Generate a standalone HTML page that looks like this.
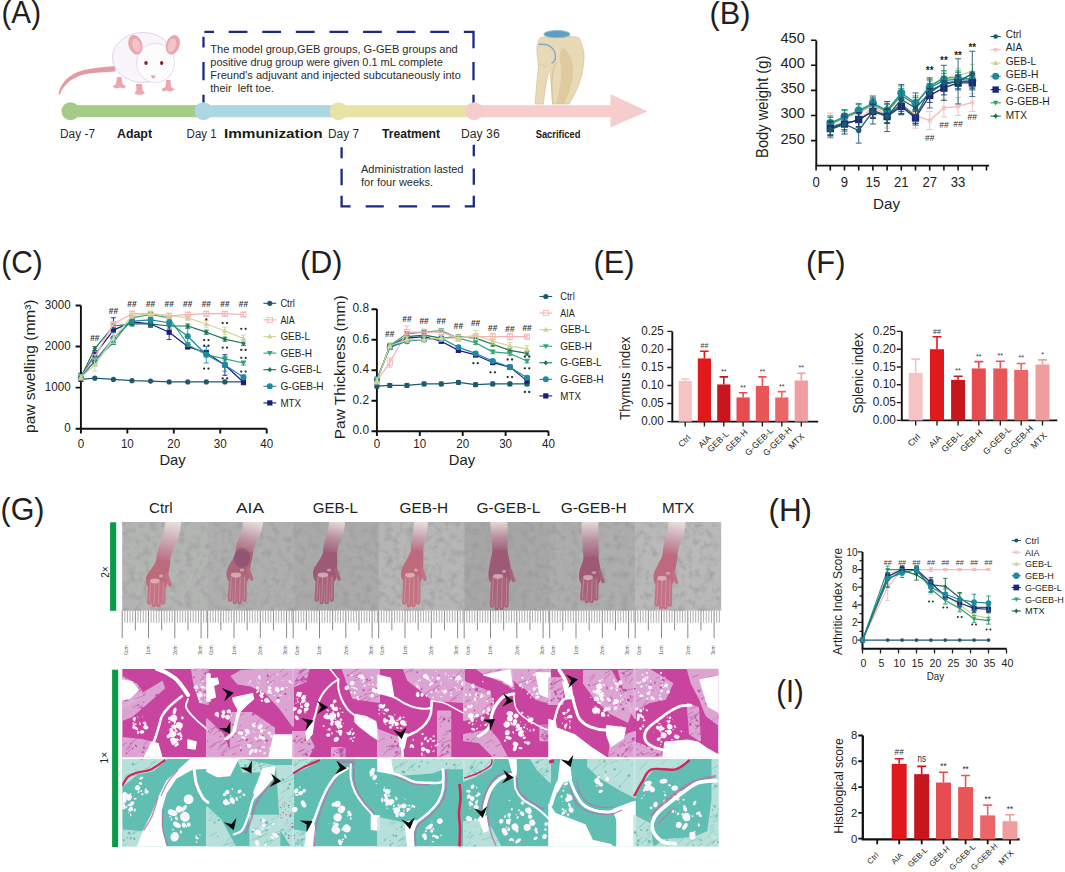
<!DOCTYPE html>
<html><head><meta charset="utf-8"><style>
html,body{margin:0;padding:0;background:#fff;width:1065px;height:872px;overflow:hidden}
svg{display:block;font-family:"Liberation Sans", sans-serif}
</style></head><body>
<svg width="1065" height="872" viewBox="0 0 1065 872" fill="#231f20">
<text x="1.5" y="23.4" textLength="39.5" lengthAdjust="spacingAndGlyphs" font-size="32" >(A)</text>
<rect x="70" y="105.2" width="134" height="12" fill="#a5cb89" />
<rect x="203.5" y="105.2" width="135.5" height="12" fill="#acd6e1" />
<rect x="338.7" y="105.2" width="136" height="12" fill="#e8e2a6" />
<rect x="474.4" y="105.2" width="137" height="12" fill="#f4cdcc" />
<polygon points="610.5,94.2 647.5,111.2 610.5,127.5" fill="#f4cdcc"/>
<path d="M203.5 37.8L203.5 46.3 M203.5 63.2L203.5 79.2 M203.5 96L203.5 102.5 M473.5 31.8L473.5 47 M473.5 63.1L473.5 79.2 M473.5 96L473.5 102.8 M205.5 31.8L212.9 31.8 M229.8 31.8L246.3 31.8 M263.4 31.8L279.9 31.8 M297 31.8L313.5 31.8 M330.6 31.8L347.1 31.8 M364.2 31.8L380.7 31.8 M397.8 31.8L414.3 31.8 M431.4 31.8L447.9 31.8 M465 31.8L473.5 31.8 M341.6 148.5L341.6 157 M341.6 170L341.6 184 M341.6 197L341.6 206.4 M473.8 146L473.8 155 M473.8 169.6L473.8 183.5 M473.8 197L473.8 206.4 M341.6 206.4L349.5 206.4 M366.8 206.4L382.6 206.4 M399.9 206.4L416 206.4 M433 206.4L448.7 206.4 M465.9 206.4L473.8 206.4" fill="none" stroke="#1b2a86" stroke-width="2.3" stroke-linecap="square"/>
<circle cx="70.5" cy="111.2" r="9" fill="#a5cb89" />
<circle cx="203.5" cy="111.2" r="9" fill="#acd6e1" />
<circle cx="338.7" cy="111.2" r="9" fill="#e8e2a6" />
<circle cx="474.4" cy="111.2" r="9" fill="#f4cdcc" />
<text x="210.3" y="52.9" textLength="247.5" lengthAdjust="spacingAndGlyphs" fill="#2b2b2b" font-size="11" >The model group,GEB groups, G-GEB groups and</text>
<text x="210.3" y="66" textLength="232.5" lengthAdjust="spacingAndGlyphs" fill="#2b2b2b" font-size="11" >positive drug group were given 0.1 mL complete</text>
<text x="210.3" y="79.1" textLength="250.5" lengthAdjust="spacingAndGlyphs" fill="#2b2b2b" font-size="11" >Freund's adjuvant and injected subcutaneously into</text>
<text x="210.3" y="92.3" fill="#2b2b2b" font-size="11" >their  left toe.</text>
<text x="361" y="172.6" textLength="102.5" lengthAdjust="spacingAndGlyphs" fill="#2b2b2b" font-size="11" >Administration lasted</text>
<text x="361" y="186.1" fill="#2b2b2b" font-size="11" >for four weeks.</text>
<text x="60" y="138.4" textLength="35" lengthAdjust="spacingAndGlyphs" fill="#2b2b2b" font-size="12.5" >Day -7</text>
<text x="117" y="137.8" font-weight="bold" textLength="35" lengthAdjust="spacingAndGlyphs" fill="#1a1a1a" font-size="12" >Adapt</text>
<text x="186.6" y="138.4" textLength="30" lengthAdjust="spacingAndGlyphs" fill="#2b2b2b" font-size="12.5" >Day 1</text>
<text x="224" y="137.8" font-weight="bold" textLength="98.7" lengthAdjust="spacingAndGlyphs" fill="#1a1a1a" font-size="12" >Immunization</text>
<text x="328" y="138.4" textLength="31" lengthAdjust="spacingAndGlyphs" fill="#2b2b2b" font-size="12.5" >Day 7</text>
<text x="382" y="137.5" font-weight="bold" textLength="58" lengthAdjust="spacingAndGlyphs" fill="#1a1a1a" font-size="12" >Treatment</text>
<text x="461" y="138.4" textLength="38.7" lengthAdjust="spacingAndGlyphs" fill="#2b2b2b" font-size="12.5" >Day 36</text>
<text x="535.7" y="138" font-weight="bold" textLength="44.7" lengthAdjust="spacingAndGlyphs" fill="#1a1a1a" font-size="11" >Sacrificed</text>
<path d="M58.5 94.5 C60 84 68 74 84 70 C95 67.5 105 67 115 66 L115.5 71.5 C105 72 95 72.5 86 74 C72 77 63 85 60 94.5 Z" fill="#e49aa2" />
<path d="M117 77 L121.5 77 L122.5 84 L126 86.5 L124 88.5 L120 87.5 L116 88.5 L112.5 86.5 L116 84 Z" fill="#eba7ae" />
<path d="M136 84 L142 84 L142.5 90 L145 93.5 L140 95 L134.5 94 L136.5 90 Z" fill="#eba7ae" />
<path d="M166 80 L170.5 80 L171 87 L175 89.5 L170.5 91.5 L166 90.5 L163 91.5 L161.5 89 L165.5 87 Z" fill="#eba7ae" />
<ellipse cx="143" cy="57.5" rx="30.5" ry="25" fill="#f8f5fb" stroke="#d9d0e8" stroke-width="0.9"/>
<ellipse cx="155.5" cy="63" rx="19" ry="19.5" fill="#fcfbfe" stroke="#ddd5ec" stroke-width="0.8"/>
<ellipse cx="135.4" cy="44.7" rx="6.8" ry="10" fill="#eba7ae" transform="rotate(-18 135.4 44.7)"/>
<ellipse cx="136.2" cy="45.5" rx="4" ry="7" fill="#f3c3c7" transform="rotate(-18 135.4 44.7)"/>
<ellipse cx="172.9" cy="44.7" rx="6.8" ry="10" fill="#eba7ae" transform="rotate(18 172.9 44.7)"/>
<ellipse cx="172.1" cy="45.5" rx="4" ry="7" fill="#f3c3c7" transform="rotate(18 172.9 44.7)"/>
<ellipse cx="146" cy="63.1" rx="1.7" ry="2" fill="#8a1f2a"/>
<ellipse cx="161.7" cy="63.1" rx="1.7" ry="2" fill="#8a1f2a"/>
<path d="M150.5 75.5 L156 75.5 L153.2 79 Z" fill="#eb9ea6" />
<path d="M540 38 C548 35 570 35 579 38 C583 45 585 55 583.7 62 C583 70 582 76 579 84 C576 92 572 99 569 104 L552.5 104 C552 92 551 80 549.8 69 C547 66 543 66 538.8 66.3 C537.5 60 536.5 52 537 46 C538 42 539 40 540 38 Z" fill="#e9dab7" stroke="#d2bb8c" stroke-width="0.6" />
<path d="M538.8 64 C541 64 546 66 548.9 70.9 C546 82 544.5 94 543.3 104 L535.1 104 C536 92 537 78 538.8 64 Z" fill="#e9dab7" stroke="#d2bb8c" stroke-width="0.6" />
<path d="M563 48 C570 52 574 62 573 74 C572 86 568 96 564 104 L556 104 C559 92 562 80 561 68 C560 60 558 52 563 48 Z" fill="#dcc597" opacity="0.8"/>
<path d="M556 62 C552 70 551 86 553 104" fill="none" stroke="#d9c396" stroke-width="1.2" />
<path d="M538.8 44.3 C543 44 546 44.5 547.9 45.2 C551 47 554 50 554.4 51.6 C555.5 55 555.6 57 555.3 58.9 C554.5 61 553 62.5 551.6 63.5" fill="none" stroke="#7ea9c6" stroke-width="1.4" />
<ellipse cx="556.9" cy="34.2" rx="13" ry="3.6" fill="#5f9dc2" stroke="#86b9d6" stroke-width="1"/>
<text x="709.5" y="23.6" textLength="41" lengthAdjust="spacingAndGlyphs" font-size="32" >(B)</text>
<path d="M816.3 40.4 V165.6 H989.2" fill="none" stroke="#111" stroke-width="1.9" />
<path d="M811 140.6H816.3M811 115.5H816.3M811 90.4H816.3M811 65.3H816.3M811 40.2H816.3M816.1 165.6V170.6M830.3 165.6V170.6M844.5 165.6V170.6M858.7 165.6V170.6M872.9 165.6V170.6M887.1 165.6V170.6M901.3 165.6V170.6M915.5 165.6V170.6M929.7 165.6V170.6M943.9 165.6V170.6M958.1 165.6V170.6M972.3 165.6V170.6M986.5 165.6V170.6" fill="none" stroke="#111" stroke-width="1.6" />
<text x="804.8" y="143.5" text-anchor="end" textLength="24.4" lengthAdjust="spacingAndGlyphs" font-size="13.8" >250</text>
<text x="804.8" y="118.4" text-anchor="end" textLength="24.4" lengthAdjust="spacingAndGlyphs" font-size="13.8" >300</text>
<text x="804.8" y="93.3" text-anchor="end" textLength="24.4" lengthAdjust="spacingAndGlyphs" font-size="13.8" >350</text>
<text x="804.8" y="68.2" text-anchor="end" textLength="24.4" lengthAdjust="spacingAndGlyphs" font-size="13.8" >400</text>
<text x="804.8" y="43.1" text-anchor="end" textLength="24.4" lengthAdjust="spacingAndGlyphs" font-size="13.8" >450</text>
<text x="816.1" y="186.5" text-anchor="middle" textLength="7.3" lengthAdjust="spacingAndGlyphs" font-size="14" >0</text>
<text x="844.5" y="186.5" text-anchor="middle" textLength="7.3" lengthAdjust="spacingAndGlyphs" font-size="14" >9</text>
<text x="872.9" y="186.5" text-anchor="middle" textLength="14.6" lengthAdjust="spacingAndGlyphs" font-size="14" >15</text>
<text x="901.3" y="186.5" text-anchor="middle" textLength="14.6" lengthAdjust="spacingAndGlyphs" font-size="14" >21</text>
<text x="929.7" y="186.5" text-anchor="middle" textLength="14.6" lengthAdjust="spacingAndGlyphs" font-size="14" >27</text>
<text x="958.1" y="186.5" text-anchor="middle" textLength="14.6" lengthAdjust="spacingAndGlyphs" font-size="14" >33</text>
<text x="886.5" y="208.5" text-anchor="middle" textLength="27" lengthAdjust="spacingAndGlyphs" font-size="15.2" >Day</text>
<text transform="translate(767.6 106.8) rotate(-90)" x="0" y="0" text-anchor="middle" textLength="102.2" lengthAdjust="spacingAndGlyphs" font-size="16" >Body weight (g)</text>
<polyline points="830.3,125.54 844.5,123.03 858.7,120.52 872.9,106.46 887.1,115.5 901.3,102.95 915.5,115.5 929.7,120.52 943.9,107.97 958.1,106.46 972.3,102.45" fill="none" stroke="#f6b8ba" stroke-width="1.3" stroke-linejoin="round"/>
<path d="M830.3 112.99V138.09M827.3 112.99H833.3M827.3 138.09H833.3M844.5 112.99V133.07M841.5 112.99H847.5M841.5 133.07H847.5M858.7 110.48V130.56M855.7 110.48H861.7M855.7 130.56H861.7M872.9 96.42V116.5M869.9 96.42H875.9M869.9 116.5H875.9M887.1 102.95V128.05M884.1 102.95H890.1M884.1 128.05H890.1M901.3 90.4V115.5M898.3 90.4H904.3M898.3 115.5H904.3M915.5 102.95V128.05M912.5 102.95H918.5M912.5 128.05H918.5M929.7 111.48V129.56M926.7 111.48H932.7M926.7 129.56H932.7M943.9 98.93V117.01M940.9 98.93H946.9M940.9 117.01H946.9M958.1 97.43V115.5M955.1 97.43H961.1M955.1 115.5H961.1M972.3 93.41V111.48M969.3 93.41H975.3M969.3 111.48H975.3" fill="none" stroke="#f6b8ba" stroke-width="0.9" />
<rect x="828.81" y="124.04" width="2.99" height="2.99" fill="none" stroke="#f6b8ba" stroke-width="0.8"/>
<rect x="843" y="121.53" width="2.99" height="2.99" fill="none" stroke="#f6b8ba" stroke-width="0.8"/>
<rect x="857.21" y="119.02" width="2.99" height="2.99" fill="none" stroke="#f6b8ba" stroke-width="0.8"/>
<rect x="871.4" y="104.97" width="2.99" height="2.99" fill="none" stroke="#f6b8ba" stroke-width="0.8"/>
<rect x="885.61" y="114" width="2.99" height="2.99" fill="none" stroke="#f6b8ba" stroke-width="0.8"/>
<rect x="899.8" y="101.45" width="2.99" height="2.99" fill="none" stroke="#f6b8ba" stroke-width="0.8"/>
<rect x="914" y="114" width="2.99" height="2.99" fill="none" stroke="#f6b8ba" stroke-width="0.8"/>
<rect x="928.21" y="119.02" width="2.99" height="2.99" fill="none" stroke="#f6b8ba" stroke-width="0.8"/>
<rect x="942.4" y="106.47" width="2.99" height="2.99" fill="none" stroke="#f6b8ba" stroke-width="0.8"/>
<rect x="956.61" y="104.97" width="2.99" height="2.99" fill="none" stroke="#f6b8ba" stroke-width="0.8"/>
<rect x="970.8" y="100.95" width="2.99" height="2.99" fill="none" stroke="#f6b8ba" stroke-width="0.8"/>
<polyline points="830.3,123.03 844.5,118.01 858.7,112.99 872.9,105.46 887.1,112.99 901.3,95.42 915.5,105.46 929.7,85.38 943.9,77.85 958.1,75.34 972.3,71.32" fill="none" stroke="#cdd394" stroke-width="1.3" stroke-linejoin="round"/>
<path d="M830.3 116V130.06M827.3 116H833.3M827.3 130.06H833.3M844.5 110.98V125.04M841.5 110.98H847.5M841.5 125.04H847.5M858.7 105.96V120.02M855.7 105.96H861.7M855.7 120.02H861.7M872.9 98.43V112.49M869.9 98.43H875.9M869.9 112.49H875.9M887.1 105.96V120.02M884.1 105.96H890.1M884.1 120.02H890.1M901.3 88.39V102.45M898.3 88.39H904.3M898.3 102.45H904.3M915.5 98.43V112.49M912.5 98.43H918.5M912.5 112.49H918.5M929.7 78.35V92.41M926.7 78.35H932.7M926.7 92.41H932.7M943.9 70.82V84.88M940.9 70.82H946.9M940.9 84.88H946.9M958.1 68.31V82.37M955.1 68.31H961.1M955.1 82.37H961.1M972.3 64.3V78.35M969.3 64.3H975.3M969.3 78.35H975.3" fill="none" stroke="#cdd394" stroke-width="0.9" />
<polygon points="830.3,119.87 833.46,125.33 827.14,125.33" fill="#cdd394"/>
<polygon points="844.5,114.85 847.66,120.31 841.34,120.31" fill="#cdd394"/>
<polygon points="858.7,109.83 861.86,115.29 855.54,115.29" fill="#cdd394"/>
<polygon points="872.9,102.3 876.06,107.76 869.74,107.76" fill="#cdd394"/>
<polygon points="887.1,109.83 890.26,115.29 883.94,115.29" fill="#cdd394"/>
<polygon points="901.3,92.26 904.46,97.72 898.14,97.72" fill="#cdd394"/>
<polygon points="915.5,102.3 918.66,107.76 912.34,107.76" fill="#cdd394"/>
<polygon points="929.7,82.22 932.86,87.68 926.54,87.68" fill="#cdd394"/>
<polygon points="943.9,74.69 947.06,80.15 940.74,80.15" fill="#cdd394"/>
<polygon points="958.1,72.18 961.26,77.64 954.94,77.64" fill="#cdd394"/>
<polygon points="972.3,68.16 975.46,73.62 969.14,73.62" fill="#cdd394"/>
<polyline points="830.3,124.54 844.5,117.51 858.7,111.48 872.9,104.46 887.1,111.48 901.3,95.42 915.5,104.46 929.7,86.38 943.9,77.85 958.1,77.85 972.3,78.85" fill="none" stroke="#2ea46c" stroke-width="1.3" stroke-linejoin="round"/>
<path d="M830.3 117.51V131.56M827.3 117.51H833.3M827.3 131.56H833.3M844.5 110.48V124.54M841.5 110.48H847.5M841.5 124.54H847.5M858.7 104.46V118.51M855.7 104.46H861.7M855.7 118.51H861.7M872.9 97.43V111.48M869.9 97.43H875.9M869.9 111.48H875.9M887.1 104.46V118.51M884.1 104.46H890.1M884.1 118.51H890.1M901.3 88.39V102.45M898.3 88.39H904.3M898.3 102.45H904.3M915.5 97.43V111.48M912.5 97.43H918.5M912.5 111.48H918.5M929.7 79.36V93.41M926.7 79.36H932.7M926.7 93.41H932.7M943.9 70.82V84.88M940.9 70.82H946.9M940.9 84.88H946.9M958.1 70.82V84.88M955.1 70.82H961.1M955.1 84.88H961.1M972.3 71.83V85.88M969.3 71.83H975.3M969.3 85.88H975.3" fill="none" stroke="#2ea46c" stroke-width="0.9" />
<polygon points="830.3,127.7 833.46,122.24 827.14,122.24" fill="#2ea46c"/>
<polygon points="844.5,120.67 847.66,115.21 841.34,115.21" fill="#2ea46c"/>
<polygon points="858.7,114.65 861.86,109.18 855.54,109.18" fill="#2ea46c"/>
<polygon points="872.9,107.62 876.06,102.16 869.74,102.16" fill="#2ea46c"/>
<polygon points="887.1,114.65 890.26,109.18 883.94,109.18" fill="#2ea46c"/>
<polygon points="901.3,98.58 904.46,93.12 898.14,93.12" fill="#2ea46c"/>
<polygon points="915.5,107.62 918.66,102.16 912.34,102.16" fill="#2ea46c"/>
<polygon points="929.7,89.55 932.86,84.08 926.54,84.08" fill="#2ea46c"/>
<polygon points="943.9,81.01 947.06,75.55 940.74,75.55" fill="#2ea46c"/>
<polygon points="958.1,81.01 961.26,75.55 954.94,75.55" fill="#2ea46c"/>
<polygon points="972.3,82.02 975.46,76.55 969.14,76.55" fill="#2ea46c"/>
<polyline points="830.3,123.03 844.5,116.5 858.7,110.48 872.9,102.95 887.1,110.48 901.3,92.91 915.5,102.95 929.7,87.89 943.9,80.36 958.1,79.36 972.3,80.36" fill="none" stroke="#1f8a9e" stroke-width="1.3" stroke-linejoin="round"/>
<path d="M830.3 116V130.06M827.3 116H833.3M827.3 130.06H833.3M844.5 109.48V123.53M841.5 109.48H847.5M841.5 123.53H847.5M858.7 103.45V117.51M855.7 103.45H861.7M855.7 117.51H861.7M872.9 95.92V109.98M869.9 95.92H875.9M869.9 109.98H875.9M887.1 103.45V117.51M884.1 103.45H890.1M884.1 117.51H890.1M901.3 85.88V99.94M898.3 85.88H904.3M898.3 99.94H904.3M915.5 95.92V109.98M912.5 95.92H918.5M912.5 109.98H918.5M929.7 80.86V94.92M926.7 80.86H932.7M926.7 94.92H932.7M943.9 73.33V87.39M940.9 73.33H946.9M940.9 87.39H946.9M958.1 72.33V86.38M955.1 72.33H961.1M955.1 86.38H961.1M972.3 73.33V87.39M969.3 73.33H975.3M969.3 87.39H975.3" fill="none" stroke="#1f8a9e" stroke-width="0.9" />
<circle cx="830.3" cy="123.03" r="4.02" fill="#1f8a9e" />
<circle cx="844.5" cy="116.5" r="4.02" fill="#1f8a9e" />
<circle cx="858.7" cy="110.48" r="4.02" fill="#1f8a9e" />
<circle cx="872.9" cy="102.95" r="4.02" fill="#1f8a9e" />
<circle cx="887.1" cy="110.48" r="4.02" fill="#1f8a9e" />
<circle cx="901.3" cy="92.91" r="4.02" fill="#1f8a9e" />
<circle cx="915.5" cy="102.95" r="4.02" fill="#1f8a9e" />
<circle cx="929.7" cy="87.89" r="4.02" fill="#1f8a9e" />
<circle cx="943.9" cy="80.36" r="4.02" fill="#1f8a9e" />
<circle cx="958.1" cy="79.36" r="4.02" fill="#1f8a9e" />
<circle cx="972.3" cy="80.36" r="4.02" fill="#1f8a9e" />
<polyline points="830.3,127.55 844.5,122.53 858.7,120.52 872.9,110.48 887.1,115.5 901.3,104.46 915.5,116.5 929.7,90.4 943.9,84.38 958.1,81.36 972.3,81.36" fill="none" stroke="#1a6e4c" stroke-width="1.3" stroke-linejoin="round"/>
<path d="M830.3 120.52V134.58M827.3 120.52H833.3M827.3 134.58H833.3M844.5 115.5V129.56M841.5 115.5H847.5M841.5 129.56H847.5M858.7 113.49V127.55M855.7 113.49H861.7M855.7 127.55H861.7M872.9 103.45V117.51M869.9 103.45H875.9M869.9 117.51H875.9M887.1 108.47V122.53M884.1 108.47H890.1M884.1 122.53H890.1M901.3 97.43V111.48M898.3 97.43H904.3M898.3 111.48H904.3M915.5 109.48V123.53M912.5 109.48H918.5M912.5 123.53H918.5M929.7 83.37V97.43M926.7 83.37H932.7M926.7 97.43H932.7M943.9 77.35V91.4M940.9 77.35H946.9M940.9 91.4H946.9M958.1 74.34V88.39M955.1 74.34H961.1M955.1 88.39H961.1M972.3 74.34V88.39M969.3 74.34H975.3M969.3 88.39H975.3" fill="none" stroke="#1a6e4c" stroke-width="0.9" />
<polygon points="830.3,124.51 832.83,127.55 830.3,130.58 827.77,127.55" fill="#1a6e4c"/>
<polygon points="844.5,119.49 847.03,122.53 844.5,125.56 841.97,122.53" fill="#1a6e4c"/>
<polygon points="858.7,117.48 861.23,120.52 858.7,123.56 856.17,120.52" fill="#1a6e4c"/>
<polygon points="872.9,107.44 875.43,110.48 872.9,113.52 870.37,110.48" fill="#1a6e4c"/>
<polygon points="887.1,112.46 889.63,115.5 887.1,118.54 884.57,115.5" fill="#1a6e4c"/>
<polygon points="901.3,101.42 903.83,104.46 901.3,107.49 898.77,104.46" fill="#1a6e4c"/>
<polygon points="915.5,113.47 918.03,116.5 915.5,119.54 912.97,116.5" fill="#1a6e4c"/>
<polygon points="929.7,87.36 932.23,90.4 929.7,93.44 927.17,90.4" fill="#1a6e4c"/>
<polygon points="943.9,81.34 946.43,84.38 943.9,87.41 941.37,84.38" fill="#1a6e4c"/>
<polygon points="958.1,78.33 960.63,81.36 958.1,84.4 955.57,81.36" fill="#1a6e4c"/>
<polygon points="972.3,78.33 974.83,81.36 972.3,84.4 969.77,81.36" fill="#1a6e4c"/>
<polyline points="830.3,128.55 844.5,124.03 858.7,119.52 872.9,111.48 887.1,116.5 901.3,106.46 915.5,118.01 929.7,95.42 943.9,87.89 958.1,82.87 972.3,82.87" fill="none" stroke="#1b2a78" stroke-width="1.3" stroke-linejoin="round"/>
<path d="M830.3 121.52V135.58M827.3 121.52H833.3M827.3 135.58H833.3M844.5 117.01V131.06M841.5 117.01H847.5M841.5 131.06H847.5M858.7 112.49V126.54M855.7 112.49H861.7M855.7 126.54H861.7M872.9 104.46V118.51M869.9 104.46H875.9M869.9 118.51H875.9M887.1 109.48V123.53M884.1 109.48H890.1M884.1 123.53H890.1M901.3 99.44V113.49M898.3 99.44H904.3M898.3 113.49H904.3M915.5 110.98V125.04M912.5 110.98H918.5M912.5 125.04H918.5M929.7 88.39V102.45M926.7 88.39H932.7M926.7 102.45H932.7M943.9 80.86V94.92M940.9 80.86H946.9M940.9 94.92H946.9M958.1 75.84V89.9M955.1 75.84H961.1M955.1 89.9H961.1M972.3 75.84V89.9M969.3 75.84H975.3M969.3 89.9H975.3" fill="none" stroke="#1b2a78" stroke-width="0.9" />
<rect x="826.62" y="124.87" width="7.36" height="7.36" fill="#1b2a78" />
<rect x="840.82" y="120.35" width="7.36" height="7.36" fill="#1b2a78" />
<rect x="855.02" y="115.84" width="7.36" height="7.36" fill="#1b2a78" />
<rect x="869.22" y="107.8" width="7.36" height="7.36" fill="#1b2a78" />
<rect x="883.42" y="112.82" width="7.36" height="7.36" fill="#1b2a78" />
<rect x="897.62" y="102.78" width="7.36" height="7.36" fill="#1b2a78" />
<rect x="911.82" y="114.33" width="7.36" height="7.36" fill="#1b2a78" />
<rect x="926.02" y="91.74" width="7.36" height="7.36" fill="#1b2a78" />
<rect x="940.22" y="84.21" width="7.36" height="7.36" fill="#1b2a78" />
<rect x="954.42" y="79.19" width="7.36" height="7.36" fill="#1b2a78" />
<rect x="968.62" y="79.19" width="7.36" height="7.36" fill="#1b2a78" />
<polyline points="830.3,129.56 844.5,124.03 858.7,130.56 872.9,111.48 887.1,116.5 901.3,99.44 915.5,107.97 929.7,92.91 943.9,82.87 958.1,81.36 972.3,73.83" fill="none" stroke="#1c5a6c" stroke-width="1.3" stroke-linejoin="round"/>
<path d="M830.3 122.03V137.09M827.3 122.03H833.3M827.3 137.09H833.3M844.5 113.99V134.07M841.5 113.99H847.5M841.5 134.07H847.5M858.7 118.01V143.11M855.7 118.01H861.7M855.7 143.11H861.7M872.9 98.93V124.03M869.9 98.93H875.9M869.9 124.03H875.9M887.1 101.44V131.56M884.1 101.44H890.1M884.1 131.56H890.1M901.3 84.38V114.5M898.3 84.38H904.3M898.3 114.5H904.3M915.5 92.91V123.03M912.5 92.91H918.5M912.5 123.03H918.5M929.7 77.85V107.97M926.7 77.85H932.7M926.7 107.97H932.7M943.9 65.3V100.44M940.9 65.3H946.9M940.9 100.44H946.9M958.1 58.77V103.95M955.1 58.77H961.1M955.1 103.95H961.1M972.3 51.24V96.42M969.3 51.24H975.3M969.3 96.42H975.3" fill="none" stroke="#1c5a6c" stroke-width="0.9" />
<circle cx="830.3" cy="129.56" r="2.64" fill="#1c5a6c" />
<circle cx="844.5" cy="124.03" r="2.64" fill="#1c5a6c" />
<circle cx="858.7" cy="130.56" r="2.64" fill="#1c5a6c" />
<circle cx="872.9" cy="111.48" r="2.64" fill="#1c5a6c" />
<circle cx="887.1" cy="116.5" r="2.64" fill="#1c5a6c" />
<circle cx="901.3" cy="99.44" r="2.64" fill="#1c5a6c" />
<circle cx="915.5" cy="107.97" r="2.64" fill="#1c5a6c" />
<circle cx="929.7" cy="92.91" r="2.64" fill="#1c5a6c" />
<circle cx="943.9" cy="82.87" r="2.64" fill="#1c5a6c" />
<circle cx="958.1" cy="81.36" r="2.64" fill="#1c5a6c" />
<circle cx="972.3" cy="73.83" r="2.64" fill="#1c5a6c" />
<text x="929.7" y="74.4" text-anchor="middle" font-weight="bold" textLength="7.7" lengthAdjust="spacingAndGlyphs" fill="#222" font-size="10" >**</text>
<text x="943.9" y="64" text-anchor="middle" font-weight="bold" textLength="7.7" lengthAdjust="spacingAndGlyphs" fill="#222" font-size="10" >**</text>
<text x="958.1" y="58.8" text-anchor="middle" font-weight="bold" textLength="7.7" lengthAdjust="spacingAndGlyphs" fill="#222" font-size="10" >**</text>
<text x="972.3" y="51.2" text-anchor="middle" font-weight="bold" textLength="7.7" lengthAdjust="spacingAndGlyphs" fill="#222" font-size="10" >**</text>
<text x="929.7" y="140.9" text-anchor="middle" textLength="9.5" lengthAdjust="spacingAndGlyphs" fill="#2a2a2a" font-size="9" >##</text>
<text x="943.9" y="127.5" text-anchor="middle" textLength="9.5" lengthAdjust="spacingAndGlyphs" fill="#2a2a2a" font-size="9" >##</text>
<text x="958.1" y="126.5" text-anchor="middle" textLength="9.5" lengthAdjust="spacingAndGlyphs" fill="#2a2a2a" font-size="9" >##</text>
<text x="972.3" y="120.2" text-anchor="middle" textLength="9.5" lengthAdjust="spacingAndGlyphs" fill="#2a2a2a" font-size="9" >##</text>
<line x1="990.5" y1="36.5" x2="1000.8" y2="36.5" stroke="#1c5a6c" stroke-width="1.1" />
<circle cx="995.65" cy="36.5" r="2.3" fill="#1c5a6c" />
<text x="1005.7" y="37.6" textLength="15.5" lengthAdjust="spacingAndGlyphs" font-size="10.3" >Ctrl</text>
<line x1="990.5" y1="49.77" x2="1000.8" y2="49.77" stroke="#f6b8ba" stroke-width="1.1" />
<rect x="994.35" y="48.47" width="2.6" height="2.6" fill="none" stroke="#f6b8ba" stroke-width="0.8"/>
<text x="1005.7" y="51.17" textLength="16.6" lengthAdjust="spacingAndGlyphs" font-size="10.3" >AIA</text>
<line x1="990.5" y1="63.04" x2="1000.8" y2="63.04" stroke="#cdd394" stroke-width="1.1" />
<polygon points="995.65,60.29 998.4,65.04 992.9,65.04" fill="#cdd394"/>
<text x="1005.7" y="64.74" textLength="30.4" lengthAdjust="spacingAndGlyphs" font-size="10.3" >GEB-L</text>
<line x1="990.5" y1="76.31" x2="1000.8" y2="76.31" stroke="#1f8a9e" stroke-width="1.1" />
<circle cx="995.65" cy="76.31" r="3.5" fill="#1f8a9e" />
<text x="1005.7" y="78.31" textLength="32.7" lengthAdjust="spacingAndGlyphs" font-size="10.3" >GEB-H</text>
<line x1="990.5" y1="89.58" x2="1000.8" y2="89.58" stroke="#1b2a78" stroke-width="1.1" />
<rect x="992.45" y="86.38" width="6.4" height="6.4" fill="#1b2a78" />
<text x="1005.7" y="91.88" textLength="42.4" lengthAdjust="spacingAndGlyphs" font-size="10.3" >G-GEB-L</text>
<line x1="990.5" y1="102.85" x2="1000.8" y2="102.85" stroke="#2ea46c" stroke-width="1.1" />
<polygon points="995.65,105.6 998.4,100.85 992.9,100.85" fill="#2ea46c"/>
<text x="1005.7" y="105.45" textLength="44.1" lengthAdjust="spacingAndGlyphs" font-size="10.3" >G-GEB-H</text>
<line x1="990.5" y1="116.12" x2="1000.8" y2="116.12" stroke="#1a6e4c" stroke-width="1.1" />
<polygon points="995.65,113.48 997.85,116.12 995.65,118.76 993.45,116.12" fill="#1a6e4c"/>
<text x="1005.7" y="119.02" textLength="21.2" lengthAdjust="spacingAndGlyphs" font-size="10.3" >MTX</text>
<text x="1.2" y="273" textLength="41.5" lengthAdjust="spacingAndGlyphs" font-size="32" >(C)</text>
<path d="M80.9 305.5 V428.7 H266.7" fill="none" stroke="#111" stroke-width="1.9" />
<path d="M75.6 428.7H80.9M75.6 387.63H80.9M75.6 346.56H80.9M75.6 305.49H80.9M80.9 428.7V433.6M127.35 428.7V433.6M173.8 428.7V433.6M220.25 428.7V433.6M266.7 428.7V433.6" fill="none" stroke="#111" stroke-width="1.9" />
<text x="70.6" y="431.9" text-anchor="end" textLength="6.45" lengthAdjust="spacingAndGlyphs" font-size="12.3" >0</text>
<text x="70.6" y="390.83" text-anchor="end" textLength="25.8" lengthAdjust="spacingAndGlyphs" font-size="12.3" >1000</text>
<text x="70.6" y="349.76" text-anchor="end" textLength="25.8" lengthAdjust="spacingAndGlyphs" font-size="12.3" >2000</text>
<text x="70.6" y="308.69" text-anchor="end" textLength="25.8" lengthAdjust="spacingAndGlyphs" font-size="12.3" >3000</text>
<text x="80.9" y="448.2" text-anchor="middle" textLength="6.45" lengthAdjust="spacingAndGlyphs" font-size="12.3" >0</text>
<text x="127.35" y="448.2" text-anchor="middle" textLength="12.9" lengthAdjust="spacingAndGlyphs" font-size="12.3" >10</text>
<text x="173.8" y="448.2" text-anchor="middle" textLength="12.9" lengthAdjust="spacingAndGlyphs" font-size="12.3" >20</text>
<text x="220.25" y="448.2" text-anchor="middle" textLength="12.9" lengthAdjust="spacingAndGlyphs" font-size="12.3" >30</text>
<text x="266.7" y="448.2" text-anchor="middle" textLength="12.9" lengthAdjust="spacingAndGlyphs" font-size="12.3" >40</text>
<text x="172.6" y="464.8" text-anchor="middle" textLength="26.3" lengthAdjust="spacingAndGlyphs" font-size="15.5" >Day</text>
<text transform="translate(35.2 366.2) rotate(-90)" x="0" y="0" text-anchor="middle" textLength="133.4" lengthAdjust="spacingAndGlyphs" font-size="14.5" >paw swelling (mm³)</text>
<polyline points="80.9,379.42 94.84,378.18 113.42,379.42 132,380.65 150.57,381.06 169.16,381.88 187.74,381.88 206.31,381.88 224.89,381.88 243.47,381.88" fill="none" stroke="#1c5a6c" stroke-width="1.2" stroke-linejoin="round"/>
<circle cx="80.9" cy="379.42" r="2.6" fill="#1c5a6c" />
<circle cx="94.84" cy="378.18" r="2.6" fill="#1c5a6c" />
<circle cx="113.42" cy="379.42" r="2.6" fill="#1c5a6c" />
<circle cx="132" cy="380.65" r="2.6" fill="#1c5a6c" />
<circle cx="150.57" cy="381.06" r="2.6" fill="#1c5a6c" />
<circle cx="169.16" cy="381.88" r="2.6" fill="#1c5a6c" />
<circle cx="187.74" cy="381.88" r="2.6" fill="#1c5a6c" />
<circle cx="206.31" cy="381.88" r="2.6" fill="#1c5a6c" />
<circle cx="224.89" cy="381.88" r="2.6" fill="#1c5a6c" />
<circle cx="243.47" cy="381.88" r="2.6" fill="#1c5a6c" />
<polyline points="80.9,377.36 94.84,354.77 113.42,330.13 132,321.92 150.57,323.97 169.16,332.19 187.74,346.56 206.31,352.72 224.89,365.04 243.47,382.29" fill="none" stroke="#1a1a8a" stroke-width="1.2" stroke-linejoin="round"/>
<path d="M80.9 373.26V381.47M78.4 373.26H83.4M78.4 381.47H83.4M94.84 350.67V358.88M92.34 350.67H97.34M92.34 358.88H97.34M113.42 317.81V342.45M110.92 317.81H115.92M110.92 342.45H115.92M132 318.63V325.2M129.5 318.63H134.5M129.5 325.2H134.5M150.57 320.69V327.26M148.07 320.69H153.07M148.07 327.26H153.07M169.16 324.79V339.58M166.66 324.79H171.66M166.66 339.58H171.66M187.74 344.1V349.02M185.24 344.1H190.24M185.24 349.02H190.24M206.31 350.26V355.18M203.81 350.26H208.81M203.81 355.18H208.81M224.89 354.77V375.31M222.39 354.77H227.39M222.39 375.31H227.39M243.47 379.83V384.76M240.97 379.83H245.97M240.97 384.76H245.97" fill="none" stroke="#1a1a8a" stroke-width="0.9" />
<rect x="78.3" y="374.76" width="5.2" height="5.2" fill="#1a1a8a" />
<rect x="92.24" y="352.17" width="5.2" height="5.2" fill="#1a1a8a" />
<rect x="110.82" y="327.53" width="5.2" height="5.2" fill="#1a1a8a" />
<rect x="129.4" y="319.32" width="5.2" height="5.2" fill="#1a1a8a" />
<rect x="147.97" y="321.37" width="5.2" height="5.2" fill="#1a1a8a" />
<rect x="166.56" y="329.59" width="5.2" height="5.2" fill="#1a1a8a" />
<rect x="185.14" y="343.96" width="5.2" height="5.2" fill="#1a1a8a" />
<rect x="203.72" y="350.12" width="5.2" height="5.2" fill="#1a1a8a" />
<rect x="222.29" y="362.44" width="5.2" height="5.2" fill="#1a1a8a" />
<rect x="240.88" y="379.69" width="5.2" height="5.2" fill="#1a1a8a" />
<polyline points="80.9,377.36 94.84,348.61 113.42,326.02 132,323.97 150.57,323.97 169.16,326.02 187.74,326.02 206.31,332.19 224.89,339.17 243.47,343.27" fill="none" stroke="#1d7450" stroke-width="1.2" stroke-linejoin="round"/>
<path d="M80.9 375.31V379.42M78.4 375.31H83.4M78.4 379.42H83.4M94.84 346.56V350.67M92.34 346.56H97.34M92.34 350.67H97.34M113.42 323.97V328.08M110.92 323.97H115.92M110.92 328.08H115.92M132 321.92V326.02M129.5 321.92H134.5M129.5 326.02H134.5M150.57 321.92V326.02M148.07 321.92H153.07M148.07 326.02H153.07M169.16 323.97V328.08M166.66 323.97H171.66M166.66 328.08H171.66M187.74 323.97V328.08M185.24 323.97H190.24M185.24 328.08H190.24M206.31 330.13V334.24M203.81 330.13H208.81M203.81 334.24H208.81M224.89 337.11V341.22M222.39 337.11H227.39M222.39 341.22H227.39M243.47 341.22V345.33M240.97 341.22H245.97M240.97 345.33H245.97" fill="none" stroke="#1d7450" stroke-width="0.9" />
<polygon points="80.9,374.72 83.1,377.36 80.9,380 78.7,377.36" fill="#1d7450"/>
<polygon points="94.84,345.97 97.04,348.61 94.84,351.25 92.64,348.61" fill="#1d7450"/>
<polygon points="113.42,323.38 115.62,326.02 113.42,328.66 111.22,326.02" fill="#1d7450"/>
<polygon points="132,321.33 134.19,323.97 132,326.61 129.8,323.97" fill="#1d7450"/>
<polygon points="150.57,321.33 152.77,323.97 150.57,326.61 148.38,323.97" fill="#1d7450"/>
<polygon points="169.16,323.38 171.35,326.02 169.16,328.66 166.96,326.02" fill="#1d7450"/>
<polygon points="187.74,323.38 189.94,326.02 187.74,328.66 185.54,326.02" fill="#1d7450"/>
<polygon points="206.31,329.55 208.51,332.19 206.31,334.83 204.12,332.19" fill="#1d7450"/>
<polygon points="224.89,336.53 227.09,339.17 224.89,341.81 222.69,339.17" fill="#1d7450"/>
<polygon points="243.47,340.63 245.67,343.27 243.47,345.91 241.28,343.27" fill="#1d7450"/>
<polyline points="80.9,377.36 94.84,360.93 113.42,342.45 132,317.81 150.57,314.53 169.16,317.81 187.74,344.51 206.31,354.77 224.89,358.88 243.47,362.99" fill="none" stroke="#2fa676" stroke-width="1.2" stroke-linejoin="round"/>
<path d="M80.9 375.31V379.42M78.4 375.31H83.4M78.4 379.42H83.4M94.84 358.88V362.99M92.34 358.88H97.34M92.34 362.99H97.34M113.42 340.4V344.51M110.92 340.4H115.92M110.92 344.51H115.92M132 315.76V319.86M129.5 315.76H134.5M129.5 319.86H134.5M150.57 312.47V316.58M148.07 312.47H153.07M148.07 316.58H153.07M169.16 315.76V319.86M166.66 315.76H171.66M166.66 319.86H171.66M187.74 342.45V346.56M185.24 342.45H190.24M185.24 346.56H190.24M206.31 352.72V356.83M203.81 352.72H208.81M203.81 356.83H208.81M224.89 356.83V360.93M222.39 356.83H227.39M222.39 360.93H227.39M243.47 360.93V365.04M240.97 360.93H245.97M240.97 365.04H245.97" fill="none" stroke="#2fa676" stroke-width="0.9" />
<polygon points="80.9,380.22 83.76,375.28 78.04,375.28" fill="#2fa676"/>
<polygon points="94.84,363.79 97.7,358.85 91.98,358.85" fill="#2fa676"/>
<polygon points="113.42,345.31 116.28,340.37 110.56,340.37" fill="#2fa676"/>
<polygon points="132,320.67 134.86,315.73 129.13,315.73" fill="#2fa676"/>
<polygon points="150.57,317.39 153.44,312.45 147.71,312.45" fill="#2fa676"/>
<polygon points="169.16,320.67 172.02,315.73 166.29,315.73" fill="#2fa676"/>
<polygon points="187.74,347.37 190.6,342.43 184.88,342.43" fill="#2fa676"/>
<polygon points="206.31,357.63 209.18,352.69 203.45,352.69" fill="#2fa676"/>
<polygon points="224.89,361.74 227.75,356.8 222.03,356.8" fill="#2fa676"/>
<polygon points="243.47,365.85 246.34,360.91 240.61,360.91" fill="#2fa676"/>
<polyline points="80.9,377.36 94.84,356.83 113.42,323.97 132,313.7 150.57,313.7 169.16,315.76 187.74,314.53 206.31,313.7 224.89,313.7 243.47,314.53" fill="none" stroke="#f5b0b3" stroke-width="1.2" stroke-linejoin="round"/>
<path d="M80.9 375.31V379.42M78.4 375.31H83.4M78.4 379.42H83.4M94.84 354.77V358.88M92.34 354.77H97.34M92.34 358.88H97.34M113.42 321.92V326.02M110.92 321.92H115.92M110.92 326.02H115.92M132 311.65V315.76M129.5 311.65H134.5M129.5 315.76H134.5M150.57 311.65V315.76M148.07 311.65H153.07M148.07 315.76H153.07M169.16 313.7V317.81M166.66 313.7H171.66M166.66 317.81H171.66M187.74 312.47V316.58M185.24 312.47H190.24M185.24 316.58H190.24M206.31 311.65V315.76M203.81 311.65H208.81M203.81 315.76H208.81M224.89 311.65V315.76M222.39 311.65H227.39M222.39 315.76H227.39M243.47 312.47V316.58M240.97 312.47H245.97M240.97 316.58H245.97" fill="none" stroke="#f5b0b3" stroke-width="0.9" />
<rect x="78.3" y="374.76" width="5.2" height="5.2" fill="none" stroke="#f5b0b3" stroke-width="0.8"/>
<rect x="92.24" y="354.23" width="5.2" height="5.2" fill="none" stroke="#f5b0b3" stroke-width="0.8"/>
<rect x="110.82" y="321.37" width="5.2" height="5.2" fill="none" stroke="#f5b0b3" stroke-width="0.8"/>
<rect x="129.4" y="311.1" width="5.2" height="5.2" fill="none" stroke="#f5b0b3" stroke-width="0.8"/>
<rect x="147.97" y="311.1" width="5.2" height="5.2" fill="none" stroke="#f5b0b3" stroke-width="0.8"/>
<rect x="166.56" y="313.16" width="5.2" height="5.2" fill="none" stroke="#f5b0b3" stroke-width="0.8"/>
<rect x="185.14" y="311.93" width="5.2" height="5.2" fill="none" stroke="#f5b0b3" stroke-width="0.8"/>
<rect x="203.72" y="311.1" width="5.2" height="5.2" fill="none" stroke="#f5b0b3" stroke-width="0.8"/>
<rect x="222.29" y="311.1" width="5.2" height="5.2" fill="none" stroke="#f5b0b3" stroke-width="0.8"/>
<rect x="240.88" y="311.93" width="5.2" height="5.2" fill="none" stroke="#f5b0b3" stroke-width="0.8"/>
<polyline points="80.9,377.36 94.84,360.93 113.42,338.35 132,321.1 150.57,319.86 169.16,322.74 187.74,336.29 206.31,354.77 224.89,365.04 243.47,377.36" fill="none" stroke="#1f8a9e" stroke-width="1.2" stroke-linejoin="round"/>
<path d="M80.9 374.9V379.83M78.4 374.9H83.4M78.4 379.83H83.4M94.84 356.83V365.04M92.34 356.83H97.34M92.34 365.04H97.34M113.42 332.19V344.51M110.92 332.19H115.92M110.92 344.51H115.92M132 318.63V323.56M129.5 318.63H134.5M129.5 323.56H134.5M150.57 317.4V322.33M148.07 317.4H153.07M148.07 322.33H153.07M169.16 320.28V325.2M166.66 320.28H171.66M166.66 325.2H171.66M187.74 328.08V344.51M185.24 328.08H190.24M185.24 344.51H190.24M206.31 346.56V362.99M203.81 346.56H208.81M203.81 362.99H208.81M224.89 358.88V371.2M222.39 358.88H227.39M222.39 371.2H227.39M243.47 374.9V379.83M240.97 374.9H245.97M240.97 379.83H245.97" fill="none" stroke="#1f8a9e" stroke-width="0.9" />
<circle cx="80.9" cy="377.36" r="3" fill="#1f8a9e" />
<circle cx="94.84" cy="360.93" r="3" fill="#1f8a9e" />
<circle cx="113.42" cy="338.35" r="3" fill="#1f8a9e" />
<circle cx="132" cy="321.1" r="3" fill="#1f8a9e" />
<circle cx="150.57" cy="319.86" r="3" fill="#1f8a9e" />
<circle cx="169.16" cy="322.74" r="3" fill="#1f8a9e" />
<circle cx="187.74" cy="336.29" r="3" fill="#1f8a9e" />
<circle cx="206.31" cy="354.77" r="3" fill="#1f8a9e" />
<circle cx="224.89" cy="365.04" r="3" fill="#1f8a9e" />
<circle cx="243.47" cy="377.36" r="3" fill="#1f8a9e" />
<polyline points="80.9,377.36 94.84,365.04 113.42,338.35 132,315.76 150.57,313.7 169.16,315.76 187.74,317.81 206.31,323.97 224.89,330.95 243.47,338.35" fill="none" stroke="#d4d49a" stroke-width="1.2" stroke-linejoin="round"/>
<path d="M80.9 374.9V379.83M78.4 374.9H83.4M78.4 379.83H83.4M94.84 358.88V371.2M92.34 358.88H97.34M92.34 371.2H97.34M113.42 333.42V343.27M110.92 333.42H115.92M110.92 343.27H115.92M132 313.29V318.22M129.5 313.29H134.5M129.5 318.22H134.5M150.57 311.24V316.17M148.07 311.24H153.07M148.07 316.17H153.07M169.16 313.29V318.22M166.66 313.29H171.66M166.66 318.22H171.66M187.74 315.35V320.28M185.24 315.35H190.24M185.24 320.28H190.24M206.31 320.69V327.26M203.81 320.69H208.81M203.81 327.26H208.81M224.89 327.26V334.65M222.39 327.26H227.39M222.39 334.65H227.39M243.47 335.06V341.63M240.97 335.06H245.97M240.97 341.63H245.97" fill="none" stroke="#d4d49a" stroke-width="0.9" />
<polygon points="80.9,374.5 83.76,379.44 78.04,379.44" fill="#d4d49a"/>
<polygon points="94.84,362.18 97.7,367.12 91.98,367.12" fill="#d4d49a"/>
<polygon points="113.42,335.49 116.28,340.43 110.56,340.43" fill="#d4d49a"/>
<polygon points="132,312.9 134.86,317.84 129.13,317.84" fill="#d4d49a"/>
<polygon points="150.57,310.84 153.44,315.78 147.71,315.78" fill="#d4d49a"/>
<polygon points="169.16,312.9 172.02,317.84 166.29,317.84" fill="#d4d49a"/>
<polygon points="187.74,314.95 190.6,319.89 184.88,319.89" fill="#d4d49a"/>
<polygon points="206.31,321.11 209.18,326.05 203.45,326.05" fill="#d4d49a"/>
<polygon points="224.89,328.09 227.75,333.03 222.03,333.03" fill="#d4d49a"/>
<polygon points="243.47,335.49 246.34,340.43 240.61,340.43" fill="#d4d49a"/>
<text x="94.84" y="340.8" text-anchor="middle" font-weight="bold" textLength="9.3" lengthAdjust="spacingAndGlyphs" fill="#333" font-size="9.5" >##</text>
<text x="113.42" y="313.8" text-anchor="middle" font-weight="bold" textLength="9.3" lengthAdjust="spacingAndGlyphs" fill="#333" font-size="9.5" >##</text>
<text x="132" y="307" text-anchor="middle" font-weight="bold" textLength="9.3" lengthAdjust="spacingAndGlyphs" fill="#333" font-size="9.5" >##</text>
<text x="150.57" y="307" text-anchor="middle" font-weight="bold" textLength="9.3" lengthAdjust="spacingAndGlyphs" fill="#333" font-size="9.5" >##</text>
<text x="169.16" y="307" text-anchor="middle" font-weight="bold" textLength="9.3" lengthAdjust="spacingAndGlyphs" fill="#333" font-size="9.5" >##</text>
<text x="187.74" y="307" text-anchor="middle" font-weight="bold" textLength="9.3" lengthAdjust="spacingAndGlyphs" fill="#333" font-size="9.5" >##</text>
<text x="206.31" y="307" text-anchor="middle" font-weight="bold" textLength="9.3" lengthAdjust="spacingAndGlyphs" fill="#333" font-size="9.5" >##</text>
<text x="224.89" y="307" text-anchor="middle" font-weight="bold" textLength="9.3" lengthAdjust="spacingAndGlyphs" fill="#333" font-size="9.5" >##</text>
<text x="243.47" y="307" text-anchor="middle" font-weight="bold" textLength="9.3" lengthAdjust="spacingAndGlyphs" fill="#333" font-size="9.5" >##</text>
<circle cx="206.31" cy="319.4" r="1.15" fill="#2a2a2a" />
<circle cx="204.12" cy="340.1" r="1.15" fill="#2a2a2a" /><circle cx="208.51" cy="340.1" r="1.15" fill="#2a2a2a" />
<circle cx="204.12" cy="345.7" r="1.15" fill="#2a2a2a" /><circle cx="208.51" cy="345.7" r="1.15" fill="#2a2a2a" />
<circle cx="204.12" cy="368.6" r="1.15" fill="#2a2a2a" /><circle cx="208.51" cy="368.6" r="1.15" fill="#2a2a2a" />
<circle cx="222.69" cy="323.1" r="1.15" fill="#2a2a2a" /><circle cx="227.09" cy="323.1" r="1.15" fill="#2a2a2a" />
<circle cx="222.69" cy="347.6" r="1.15" fill="#2a2a2a" /><circle cx="227.09" cy="347.6" r="1.15" fill="#2a2a2a" />
<circle cx="222.69" cy="378.4" r="1.15" fill="#2a2a2a" /><circle cx="227.09" cy="378.4" r="1.15" fill="#2a2a2a" />
<circle cx="241.28" cy="328.8" r="1.15" fill="#2a2a2a" /><circle cx="245.67" cy="328.8" r="1.15" fill="#2a2a2a" />
<circle cx="241.28" cy="349.9" r="1.15" fill="#2a2a2a" /><circle cx="245.67" cy="349.9" r="1.15" fill="#2a2a2a" />
<circle cx="241.28" cy="357.8" r="1.15" fill="#2a2a2a" /><circle cx="245.67" cy="357.8" r="1.15" fill="#2a2a2a" />
<circle cx="241.28" cy="371.6" r="1.15" fill="#2a2a2a" /><circle cx="245.67" cy="371.6" r="1.15" fill="#2a2a2a" />
<line x1="263.4" y1="303.3" x2="276.2" y2="303.3" stroke="#1c5a6c" stroke-width="1.1" />
<circle cx="269.8" cy="303.3" r="2.6" fill="#1c5a6c" />
<text x="280.4" y="306.97" textLength="14.4" lengthAdjust="spacingAndGlyphs" font-size="10.2" >Ctrl</text>
<line x1="263.4" y1="319.9" x2="276.2" y2="319.9" stroke="#f5b0b3" stroke-width="1.1" />
<rect x="267.2" y="317.3" width="5.2" height="5.2" fill="none" stroke="#f5b0b3" stroke-width="0.8"/>
<text x="280.4" y="323.57" textLength="14.4" lengthAdjust="spacingAndGlyphs" font-size="10.2" >AIA</text>
<line x1="263.4" y1="336.5" x2="276.2" y2="336.5" stroke="#d4d49a" stroke-width="1.1" />
<polygon points="269.8,333.64 272.66,338.58 266.94,338.58" fill="#d4d49a"/>
<text x="280.4" y="340.17" textLength="29.6" lengthAdjust="spacingAndGlyphs" font-size="10.2" >GEB-L</text>
<line x1="263.4" y1="353.1" x2="276.2" y2="353.1" stroke="#2fa676" stroke-width="1.1" />
<polygon points="269.8,355.96 272.66,351.02 266.94,351.02" fill="#2fa676"/>
<text x="280.4" y="356.77" textLength="31.6" lengthAdjust="spacingAndGlyphs" font-size="10.2" >GEB-H</text>
<line x1="263.4" y1="369.7" x2="276.2" y2="369.7" stroke="#1d7450" stroke-width="1.1" />
<polygon points="269.8,367.06 272,369.7 269.8,372.34 267.6,369.7" fill="#1d7450"/>
<text x="280.4" y="373.37" textLength="41.3" lengthAdjust="spacingAndGlyphs" font-size="10.2" >G-GEB-L</text>
<line x1="263.4" y1="386.3" x2="276.2" y2="386.3" stroke="#1f8a9e" stroke-width="1.1" />
<circle cx="269.8" cy="386.3" r="3" fill="#1f8a9e" />
<text x="280.4" y="389.97" textLength="43.3" lengthAdjust="spacingAndGlyphs" font-size="10.2" >G-GEB-H</text>
<line x1="263.4" y1="402.9" x2="276.2" y2="402.9" stroke="#1a1a8a" stroke-width="1.1" />
<rect x="267.2" y="400.3" width="5.2" height="5.2" fill="#1a1a8a" />
<text x="280.4" y="406.57" textLength="20.6" lengthAdjust="spacingAndGlyphs" font-size="10.2" >MTX</text>
<text x="300" y="273" textLength="42.3" lengthAdjust="spacingAndGlyphs" font-size="32" >(D)</text>
<path d="M376.9 309.1 V431.2 H548.6" fill="none" stroke="#111" stroke-width="1.9" />
<path d="M371.5 431.2H376.9M371.5 400.7H376.9M371.5 370.2H376.9M371.5 339.7H376.9M371.5 309.2H376.9M376.9 431.2V436M419.8 431.2V436M462.7 431.2V436M505.6 431.2V436M548.5 431.2V436" fill="none" stroke="#111" stroke-width="1.9" />
<text x="369" y="434.4" text-anchor="end" textLength="16.5" lengthAdjust="spacingAndGlyphs" font-size="12.3" >0.0</text>
<text x="369" y="403.9" text-anchor="end" textLength="16.5" lengthAdjust="spacingAndGlyphs" font-size="12.3" >0.2</text>
<text x="369" y="373.4" text-anchor="end" textLength="16.5" lengthAdjust="spacingAndGlyphs" font-size="12.3" >0.4</text>
<text x="369" y="342.9" text-anchor="end" textLength="16.5" lengthAdjust="spacingAndGlyphs" font-size="12.3" >0.6</text>
<text x="369" y="312.4" text-anchor="end" textLength="16.5" lengthAdjust="spacingAndGlyphs" font-size="12.3" >0.8</text>
<text x="376.9" y="448.2" text-anchor="middle" textLength="6.45" lengthAdjust="spacingAndGlyphs" font-size="12.3" >0</text>
<text x="419.8" y="448.2" text-anchor="middle" textLength="12.9" lengthAdjust="spacingAndGlyphs" font-size="12.3" >10</text>
<text x="462.7" y="448.2" text-anchor="middle" textLength="12.9" lengthAdjust="spacingAndGlyphs" font-size="12.3" >20</text>
<text x="505.6" y="448.2" text-anchor="middle" textLength="12.9" lengthAdjust="spacingAndGlyphs" font-size="12.3" >30</text>
<text x="548.5" y="448.2" text-anchor="middle" textLength="12.9" lengthAdjust="spacingAndGlyphs" font-size="12.3" >40</text>
<text x="462" y="464.6" text-anchor="middle" textLength="26.3" lengthAdjust="spacingAndGlyphs" font-size="15.5" >Day</text>
<text transform="translate(345 367.3) rotate(-90)" x="0" y="0" text-anchor="middle" textLength="143.8" lengthAdjust="spacingAndGlyphs" font-size="15" >Paw Thickness (mm)</text>
<polyline points="376.9,386.21 389.77,385.45 406.93,385.45 424.09,383.93 441.25,383.93 458.41,382.4 475.57,384.69 492.73,383.93 509.89,383.93 527.05,383.93" fill="none" stroke="#1c5a6c" stroke-width="1.2" stroke-linejoin="round"/>
<path d="M376.9 384.38V388.04M374.4 384.38H379.4M374.4 388.04H379.4M389.77 383.62V387.28M387.27 383.62H392.27M387.27 387.28H392.27M406.93 383.62V387.28M404.43 383.62H409.43M404.43 387.28H409.43M424.09 382.1V385.75M421.59 382.1H426.59M421.59 385.75H426.59M441.25 382.1V385.75M438.75 382.1H443.75M438.75 385.75H443.75M458.41 380.57V384.23M455.91 380.57H460.91M455.91 384.23H460.91M475.57 382.86V386.52M473.07 382.86H478.07M473.07 386.52H478.07M492.73 382.1V385.75M490.23 382.1H495.23M490.23 385.75H495.23M509.89 382.1V385.75M507.39 382.1H512.39M507.39 385.75H512.39M527.05 382.1V385.75M524.55 382.1H529.55M524.55 385.75H529.55" fill="none" stroke="#1c5a6c" stroke-width="0.9" />
<circle cx="376.9" cy="386.21" r="2.6" fill="#1c5a6c" />
<circle cx="389.77" cy="385.45" r="2.6" fill="#1c5a6c" />
<circle cx="406.93" cy="385.45" r="2.6" fill="#1c5a6c" />
<circle cx="424.09" cy="383.93" r="2.6" fill="#1c5a6c" />
<circle cx="441.25" cy="383.93" r="2.6" fill="#1c5a6c" />
<circle cx="458.41" cy="382.4" r="2.6" fill="#1c5a6c" />
<circle cx="475.57" cy="384.69" r="2.6" fill="#1c5a6c" />
<circle cx="492.73" cy="383.93" r="2.6" fill="#1c5a6c" />
<circle cx="509.89" cy="383.93" r="2.6" fill="#1c5a6c" />
<circle cx="527.05" cy="383.93" r="2.6" fill="#1c5a6c" />
<polyline points="376.9,379.35 389.77,347.32 406.93,338.18 424.09,336.65 441.25,341.23 458.41,350.38 475.57,354.95 492.73,362.57 509.89,367.15 527.05,380.88" fill="none" stroke="#1a1a8a" stroke-width="1.2" stroke-linejoin="round"/>
<path d="M376.9 377.52V381.18M374.4 377.52H379.4M374.4 381.18H379.4M389.77 345.5V349.15M387.27 345.5H392.27M387.27 349.15H392.27M406.93 336.35V340M404.43 336.35H409.43M404.43 340H409.43M424.09 334.82V338.48M421.59 334.82H426.59M421.59 338.48H426.59M441.25 339.4V343.06M438.75 339.4H443.75M438.75 343.06H443.75M458.41 348.55V352.2M455.91 348.55H460.91M455.91 352.2H460.91M475.57 353.12V356.78M473.07 353.12H478.07M473.07 356.78H478.07M492.73 360.75V364.4M490.23 360.75H495.23M490.23 364.4H495.23M509.89 365.32V368.98M507.39 365.32H512.39M507.39 368.98H512.39M527.05 379.05V382.7M524.55 379.05H529.55M524.55 382.7H529.55" fill="none" stroke="#1a1a8a" stroke-width="0.9" />
<rect x="374.3" y="376.75" width="5.2" height="5.2" fill="#1a1a8a" />
<rect x="387.17" y="344.72" width="5.2" height="5.2" fill="#1a1a8a" />
<rect x="404.33" y="335.57" width="5.2" height="5.2" fill="#1a1a8a" />
<rect x="421.49" y="334.05" width="5.2" height="5.2" fill="#1a1a8a" />
<rect x="438.65" y="338.62" width="5.2" height="5.2" fill="#1a1a8a" />
<rect x="455.81" y="347.77" width="5.2" height="5.2" fill="#1a1a8a" />
<rect x="472.97" y="352.35" width="5.2" height="5.2" fill="#1a1a8a" />
<rect x="490.13" y="359.97" width="5.2" height="5.2" fill="#1a1a8a" />
<rect x="507.29" y="364.55" width="5.2" height="5.2" fill="#1a1a8a" />
<rect x="524.45" y="378.27" width="5.2" height="5.2" fill="#1a1a8a" />
<polyline points="376.9,380.88 389.77,345.8 406.93,336.65 424.09,335.12 441.25,338.18 458.41,336.65 475.57,338.18 492.73,344.27 509.89,350.38 527.05,353.43" fill="none" stroke="#1d7450" stroke-width="1.2" stroke-linejoin="round"/>
<path d="M376.9 379.05V382.7M374.4 379.05H379.4M374.4 382.7H379.4M389.77 343.97V347.63M387.27 343.97H392.27M387.27 347.63H392.27M406.93 334.82V338.48M404.43 334.82H409.43M404.43 338.48H409.43M424.09 333.3V336.95M421.59 333.3H426.59M421.59 336.95H426.59M441.25 336.35V340M438.75 336.35H443.75M438.75 340H443.75M458.41 334.82V338.48M455.91 334.82H460.91M455.91 338.48H460.91M475.57 336.35V340M473.07 336.35H478.07M473.07 340H478.07M492.73 342.44V346.1M490.23 342.44H495.23M490.23 346.1H495.23M509.89 348.55V352.2M507.39 348.55H512.39M507.39 352.2H512.39M527.05 351.6V355.25M524.55 351.6H529.55M524.55 355.25H529.55" fill="none" stroke="#1d7450" stroke-width="0.9" />
<polygon points="376.9,378.24 379.1,380.88 376.9,383.51 374.7,380.88" fill="#1d7450"/>
<polygon points="389.77,343.16 391.97,345.8 389.77,348.44 387.57,345.8" fill="#1d7450"/>
<polygon points="406.93,334.01 409.13,336.65 406.93,339.29 404.73,336.65" fill="#1d7450"/>
<polygon points="424.09,332.49 426.29,335.12 424.09,337.76 421.89,335.12" fill="#1d7450"/>
<polygon points="441.25,335.54 443.45,338.18 441.25,340.81 439.05,338.18" fill="#1d7450"/>
<polygon points="458.41,334.01 460.61,336.65 458.41,339.29 456.21,336.65" fill="#1d7450"/>
<polygon points="475.57,335.54 477.77,338.18 475.57,340.81 473.37,338.18" fill="#1d7450"/>
<polygon points="492.73,341.63 494.93,344.27 492.73,346.91 490.53,344.27" fill="#1d7450"/>
<polygon points="509.89,347.74 512.09,350.38 509.89,353.01 507.69,350.38" fill="#1d7450"/>
<polygon points="527.05,350.79 529.25,353.43 527.05,356.06 524.85,353.43" fill="#1d7450"/>
<polyline points="376.9,380.88 389.77,345.8 406.93,333.6 424.09,332.07 441.25,330.55 458.41,338.18 475.57,342.75 492.73,351.9 509.89,353.43 527.05,361.05" fill="none" stroke="#2fa676" stroke-width="1.2" stroke-linejoin="round"/>
<path d="M376.9 379.05V382.7M374.4 379.05H379.4M374.4 382.7H379.4M389.77 343.97V347.63M387.27 343.97H392.27M387.27 347.63H392.27M406.93 331.77V335.43M404.43 331.77H409.43M404.43 335.43H409.43M424.09 330.25V333.9M421.59 330.25H426.59M421.59 333.9H426.59M441.25 328.72V332.38M438.75 328.72H443.75M438.75 332.38H443.75M458.41 336.35V340M455.91 336.35H460.91M455.91 340H460.91M475.57 340.92V344.58M473.07 340.92H478.07M473.07 344.58H478.07M492.73 350.07V353.73M490.23 350.07H495.23M490.23 353.73H495.23M509.89 351.6V355.25M507.39 351.6H512.39M507.39 355.25H512.39M527.05 359.22V362.88M524.55 359.22H529.55M524.55 362.88H529.55" fill="none" stroke="#2fa676" stroke-width="0.9" />
<polygon points="376.9,383.74 379.76,378.8 374.04,378.8" fill="#2fa676"/>
<polygon points="389.77,348.66 392.63,343.72 386.91,343.72" fill="#2fa676"/>
<polygon points="406.93,336.46 409.79,331.52 404.07,331.52" fill="#2fa676"/>
<polygon points="424.09,334.94 426.95,330 421.23,330" fill="#2fa676"/>
<polygon points="441.25,333.41 444.11,328.47 438.39,328.47" fill="#2fa676"/>
<polygon points="458.41,341.04 461.27,336.1 455.55,336.1" fill="#2fa676"/>
<polygon points="475.57,345.61 478.43,340.67 472.71,340.67" fill="#2fa676"/>
<polygon points="492.73,354.76 495.59,349.82 489.87,349.82" fill="#2fa676"/>
<polygon points="509.89,356.29 512.75,351.35 507.03,351.35" fill="#2fa676"/>
<polygon points="527.05,363.91 529.91,358.97 524.19,358.97" fill="#2fa676"/>
<polyline points="376.9,380.88 389.77,362.57 406.93,332.07 424.09,332.07 441.25,332.07 458.41,338.18 475.57,336.65 492.73,336.65 509.89,336.65 527.05,336.65" fill="none" stroke="#f5b0b3" stroke-width="1.2" stroke-linejoin="round"/>
<path d="M376.9 377.82V383.93M374.4 377.82H379.4M374.4 383.93H379.4M389.77 358V367.15M387.27 358H392.27M387.27 367.15H392.27M406.93 325.97V338.18M404.43 325.97H409.43M404.43 338.18H409.43M424.09 329.02V335.12M421.59 329.02H426.59M421.59 335.12H426.59M441.25 329.02V335.12M438.75 329.02H443.75M438.75 335.12H443.75M458.41 335.12V341.23M455.91 335.12H460.91M455.91 341.23H460.91M475.57 333.6V339.7M473.07 333.6H478.07M473.07 339.7H478.07M492.73 333.6V339.7M490.23 333.6H495.23M490.23 339.7H495.23M509.89 333.6V339.7M507.39 333.6H512.39M507.39 339.7H512.39M527.05 335.12V338.17M524.55 335.12H529.55M524.55 338.17H529.55" fill="none" stroke="#f5b0b3" stroke-width="0.9" />
<rect x="374.3" y="378.27" width="5.2" height="5.2" fill="none" stroke="#f5b0b3" stroke-width="0.8"/>
<rect x="387.17" y="359.97" width="5.2" height="5.2" fill="none" stroke="#f5b0b3" stroke-width="0.8"/>
<rect x="404.33" y="329.47" width="5.2" height="5.2" fill="none" stroke="#f5b0b3" stroke-width="0.8"/>
<rect x="421.49" y="329.47" width="5.2" height="5.2" fill="none" stroke="#f5b0b3" stroke-width="0.8"/>
<rect x="438.65" y="329.47" width="5.2" height="5.2" fill="none" stroke="#f5b0b3" stroke-width="0.8"/>
<rect x="455.81" y="335.57" width="5.2" height="5.2" fill="none" stroke="#f5b0b3" stroke-width="0.8"/>
<rect x="472.97" y="334.05" width="5.2" height="5.2" fill="none" stroke="#f5b0b3" stroke-width="0.8"/>
<rect x="490.13" y="334.05" width="5.2" height="5.2" fill="none" stroke="#f5b0b3" stroke-width="0.8"/>
<rect x="507.29" y="334.05" width="5.2" height="5.2" fill="none" stroke="#f5b0b3" stroke-width="0.8"/>
<rect x="524.45" y="334.05" width="5.2" height="5.2" fill="none" stroke="#f5b0b3" stroke-width="0.8"/>
<polyline points="376.9,379.35 389.77,347.32 406.93,341.23 424.09,339.7 441.25,338.18 458.41,347.32 475.57,353.43 492.73,361.05 509.89,367.15 527.05,377.82" fill="none" stroke="#1f8a9e" stroke-width="1.2" stroke-linejoin="round"/>
<path d="M376.9 377.52V381.18M374.4 377.52H379.4M374.4 381.18H379.4M389.77 345.5V349.15M387.27 345.5H392.27M387.27 349.15H392.27M406.93 339.4V343.06M404.43 339.4H409.43M404.43 343.06H409.43M424.09 337.87V341.53M421.59 337.87H426.59M421.59 341.53H426.59M441.25 336.35V340M438.75 336.35H443.75M438.75 340H443.75M458.41 345.5V349.15M455.91 345.5H460.91M455.91 349.15H460.91M475.57 351.6V355.25M473.07 351.6H478.07M473.07 355.25H478.07M492.73 359.22V362.88M490.23 359.22H495.23M490.23 362.88H495.23M509.89 365.32V368.98M507.39 365.32H512.39M507.39 368.98H512.39M527.05 376V379.65M524.55 376H529.55M524.55 379.65H529.55" fill="none" stroke="#1f8a9e" stroke-width="0.9" />
<circle cx="376.9" cy="379.35" r="3" fill="#1f8a9e" />
<circle cx="389.77" cy="347.32" r="3" fill="#1f8a9e" />
<circle cx="406.93" cy="341.23" r="3" fill="#1f8a9e" />
<circle cx="424.09" cy="339.7" r="3" fill="#1f8a9e" />
<circle cx="441.25" cy="338.18" r="3" fill="#1f8a9e" />
<circle cx="458.41" cy="347.32" r="3" fill="#1f8a9e" />
<circle cx="475.57" cy="353.43" r="3" fill="#1f8a9e" />
<circle cx="492.73" cy="361.05" r="3" fill="#1f8a9e" />
<circle cx="509.89" cy="367.15" r="3" fill="#1f8a9e" />
<circle cx="527.05" cy="377.82" r="3" fill="#1f8a9e" />
<polyline points="376.9,380.88 389.77,345.8 406.93,339.7 424.09,339.7 441.25,338.18 458.41,338.18 475.57,335.12 492.73,341.23 509.89,345.8 527.05,348.85" fill="none" stroke="#d4d49a" stroke-width="1.2" stroke-linejoin="round"/>
<path d="M376.9 377.82V383.93M374.4 377.82H379.4M374.4 383.93H379.4M389.77 342.75V348.85M387.27 342.75H392.27M387.27 348.85H392.27M406.93 336.65V342.75M404.43 336.65H409.43M404.43 342.75H409.43M424.09 336.65V342.75M421.59 336.65H426.59M421.59 342.75H426.59M441.25 335.12V341.23M438.75 335.12H443.75M438.75 341.23H443.75M458.41 335.12V341.23M455.91 335.12H460.91M455.91 341.23H460.91M475.57 330.55V339.7M473.07 330.55H478.07M473.07 339.7H478.07M492.73 338.18V344.28M490.23 338.18H495.23M490.23 344.28H495.23M509.89 342.75V348.85M507.39 342.75H512.39M507.39 348.85H512.39M527.05 345.8V351.9M524.55 345.8H529.55M524.55 351.9H529.55" fill="none" stroke="#d4d49a" stroke-width="0.9" />
<polygon points="376.9,378.01 379.76,382.95 374.04,382.95" fill="#d4d49a"/>
<polygon points="389.77,342.94 392.63,347.88 386.91,347.88" fill="#d4d49a"/>
<polygon points="406.93,336.84 409.79,341.78 404.07,341.78" fill="#d4d49a"/>
<polygon points="424.09,336.84 426.95,341.78 421.23,341.78" fill="#d4d49a"/>
<polygon points="441.25,335.31 444.11,340.25 438.39,340.25" fill="#d4d49a"/>
<polygon points="458.41,335.31 461.27,340.25 455.55,340.25" fill="#d4d49a"/>
<polygon points="475.57,332.26 478.43,337.2 472.71,337.2" fill="#d4d49a"/>
<polygon points="492.73,338.37 495.59,343.31 489.87,343.31" fill="#d4d49a"/>
<polygon points="509.89,342.94 512.75,347.88 507.03,347.88" fill="#d4d49a"/>
<polygon points="527.05,345.99 529.91,350.93 524.19,350.93" fill="#d4d49a"/>
<text x="389.77" y="337" text-anchor="middle" font-weight="bold" textLength="9.3" lengthAdjust="spacingAndGlyphs" fill="#333" font-size="9.5" >##</text>
<text x="406.93" y="322.2" text-anchor="middle" font-weight="bold" textLength="9.3" lengthAdjust="spacingAndGlyphs" fill="#333" font-size="9.5" >##</text>
<text x="424.09" y="323.8" text-anchor="middle" font-weight="bold" textLength="9.3" lengthAdjust="spacingAndGlyphs" fill="#333" font-size="9.5" >##</text>
<text x="441.25" y="323.8" text-anchor="middle" font-weight="bold" textLength="9.3" lengthAdjust="spacingAndGlyphs" fill="#333" font-size="9.5" >##</text>
<text x="458.41" y="329.3" text-anchor="middle" font-weight="bold" textLength="9.3" lengthAdjust="spacingAndGlyphs" fill="#333" font-size="9.5" >##</text>
<text x="475.57" y="326.1" text-anchor="middle" font-weight="bold" textLength="9.3" lengthAdjust="spacingAndGlyphs" fill="#333" font-size="9.5" >##</text>
<text x="492.73" y="330.5" text-anchor="middle" font-weight="bold" textLength="9.3" lengthAdjust="spacingAndGlyphs" fill="#333" font-size="9.5" >##</text>
<text x="509.89" y="332.1" text-anchor="middle" font-weight="bold" textLength="9.3" lengthAdjust="spacingAndGlyphs" fill="#333" font-size="9.5" >##</text>
<text x="527.05" y="331.4" text-anchor="middle" font-weight="bold" textLength="9.3" lengthAdjust="spacingAndGlyphs" fill="#333" font-size="9.5" >##</text>
<circle cx="473.37" cy="363.2" r="1.15" fill="#2a2a2a" /><circle cx="477.77" cy="363.2" r="1.15" fill="#2a2a2a" />
<circle cx="490.53" cy="372.3" r="1.15" fill="#2a2a2a" /><circle cx="494.93" cy="372.3" r="1.15" fill="#2a2a2a" />
<circle cx="507.69" cy="359.5" r="1.15" fill="#2a2a2a" /><circle cx="512.09" cy="359.5" r="1.15" fill="#2a2a2a" />
<circle cx="507.69" cy="377.1" r="1.15" fill="#2a2a2a" /><circle cx="512.09" cy="377.1" r="1.15" fill="#2a2a2a" />
<circle cx="524.85" cy="356.7" r="1.15" fill="#2a2a2a" /><circle cx="529.25" cy="356.7" r="1.15" fill="#2a2a2a" />
<circle cx="524.85" cy="368.3" r="1.15" fill="#2a2a2a" /><circle cx="529.25" cy="368.3" r="1.15" fill="#2a2a2a" />
<circle cx="524.85" cy="392" r="1.15" fill="#2a2a2a" /><circle cx="529.25" cy="392" r="1.15" fill="#2a2a2a" />
<line x1="539.4" y1="296.5" x2="552.2" y2="296.5" stroke="#1c5a6c" stroke-width="1.1" />
<circle cx="545.8" cy="296.5" r="2.6" fill="#1c5a6c" />
<text x="560.3" y="300.17" textLength="14.4" lengthAdjust="spacingAndGlyphs" font-size="10.2" >Ctrl</text>
<line x1="539.4" y1="313.07" x2="552.2" y2="313.07" stroke="#f5b0b3" stroke-width="1.1" />
<rect x="543.2" y="310.47" width="5.2" height="5.2" fill="none" stroke="#f5b0b3" stroke-width="0.8"/>
<text x="560.3" y="316.74" textLength="14.4" lengthAdjust="spacingAndGlyphs" font-size="10.2" >AIA</text>
<line x1="539.4" y1="329.64" x2="552.2" y2="329.64" stroke="#d4d49a" stroke-width="1.1" />
<polygon points="545.8,326.78 548.66,331.72 542.94,331.72" fill="#d4d49a"/>
<text x="560.3" y="333.31" textLength="29.6" lengthAdjust="spacingAndGlyphs" font-size="10.2" >GEB-L</text>
<line x1="539.4" y1="346.21" x2="552.2" y2="346.21" stroke="#2fa676" stroke-width="1.1" />
<polygon points="545.8,349.07 548.66,344.13 542.94,344.13" fill="#2fa676"/>
<text x="560.3" y="349.88" textLength="31.6" lengthAdjust="spacingAndGlyphs" font-size="10.2" >GEB-H</text>
<line x1="539.4" y1="362.78" x2="552.2" y2="362.78" stroke="#1d7450" stroke-width="1.1" />
<polygon points="545.8,360.14 548,362.78 545.8,365.42 543.6,362.78" fill="#1d7450"/>
<text x="560.3" y="366.45" textLength="41.3" lengthAdjust="spacingAndGlyphs" font-size="10.2" >G-GEB-L</text>
<line x1="539.4" y1="379.35" x2="552.2" y2="379.35" stroke="#1f8a9e" stroke-width="1.1" />
<circle cx="545.8" cy="379.35" r="3" fill="#1f8a9e" />
<text x="560.3" y="383.02" textLength="43.3" lengthAdjust="spacingAndGlyphs" font-size="10.2" >G-GEB-H</text>
<line x1="539.4" y1="395.92" x2="552.2" y2="395.92" stroke="#1a1a8a" stroke-width="1.1" />
<rect x="543.2" y="393.32" width="5.2" height="5.2" fill="#1a1a8a" />
<text x="560.3" y="399.59" textLength="20.6" lengthAdjust="spacingAndGlyphs" font-size="10.2" >MTX</text>
<text x="593.5" y="273" textLength="41" lengthAdjust="spacingAndGlyphs" font-size="32" >(E)</text>
<path d="M672.3 331.4 V421.6 H818.2" fill="none" stroke="#111" stroke-width="1.9" />
<path d="M667.3 421.6H672.3M667.3 403.56H672.3M667.3 385.52H672.3M667.3 367.48H672.3M667.3 349.44H672.3M667.3 331.4H672.3M685.2 421.6V426.6M704.4 421.6V426.6M723.8 421.6V426.6M743.1 421.6V426.6M762.4 421.6V426.6M781.8 421.6V426.6M801.3 421.6V426.6" fill="none" stroke="#231f20" stroke-width="1.4" />
<text x="663.8" y="425.16" text-anchor="end" textLength="22.6" lengthAdjust="spacingAndGlyphs" font-size="12.4" >0.00</text>
<text x="663.8" y="407.12" text-anchor="end" textLength="22.6" lengthAdjust="spacingAndGlyphs" font-size="12.4" >0.05</text>
<text x="663.8" y="389.08" text-anchor="end" textLength="22.6" lengthAdjust="spacingAndGlyphs" font-size="12.4" >0.10</text>
<text x="663.8" y="371.04" text-anchor="end" textLength="22.6" lengthAdjust="spacingAndGlyphs" font-size="12.4" >0.15</text>
<text x="663.8" y="353" text-anchor="end" textLength="22.6" lengthAdjust="spacingAndGlyphs" font-size="12.4" >0.20</text>
<text x="663.8" y="334.96" text-anchor="end" textLength="22.6" lengthAdjust="spacingAndGlyphs" font-size="12.4" >0.25</text>
<rect x="678.6" y="380.83" width="13.2" height="40.77" fill="#f5c3c4" />
<path d="M685.2 380.83V379.03M680.98 379.03H689.42" fill="none" stroke="#f5c3c4" stroke-width="1.6" />
<rect x="697.8" y="358.46" width="13.2" height="63.14" fill="#e01a1c" />
<path d="M704.4 358.46V351.24M700.18 351.24H708.62" fill="none" stroke="#e01a1c" stroke-width="1.6" />
<rect x="717.2" y="384.44" width="13.2" height="37.16" fill="#c8161e" />
<path d="M723.8 384.44V376.86M719.58 376.86H728.02" fill="none" stroke="#c8161e" stroke-width="1.6" />
<rect x="736.5" y="397.43" width="13.2" height="24.17" fill="#e64b50" />
<path d="M743.1 397.43V392.74M738.88 392.74H747.32" fill="none" stroke="#e64b50" stroke-width="1.6" />
<rect x="755.8" y="385.88" width="13.2" height="35.72" fill="#e85658" />
<path d="M762.4 385.88V376.86M758.18 376.86H766.62" fill="none" stroke="#e85658" stroke-width="1.6" />
<rect x="775.2" y="397.43" width="13.2" height="24.17" fill="#ea6668" />
<path d="M781.8 397.43V391.65M777.58 391.65H786.02" fill="none" stroke="#ea6668" stroke-width="1.6" />
<rect x="794.7" y="380.47" width="13.2" height="41.13" fill="#f09d9f" />
<path d="M801.3 380.47V373.25M797.08 373.25H805.52" fill="none" stroke="#f09d9f" stroke-width="1.6" />
<text x="704.4" y="348.24" text-anchor="middle" fill="#333" font-size="7" >##</text>
<text x="723.8" y="373.86" text-anchor="middle" fill="#333" font-size="7" >**</text>
<text x="743.1" y="389.74" text-anchor="middle" fill="#333" font-size="7" >**</text>
<text x="762.4" y="373.86" text-anchor="middle" fill="#333" font-size="7" >**</text>
<text x="781.8" y="388.65" text-anchor="middle" fill="#333" font-size="7" >**</text>
<text x="801.3" y="370.25" text-anchor="middle" fill="#333" font-size="7" >**</text>
<text transform="translate(630.3 378.3) rotate(-90)" x="0" y="0" text-anchor="middle" textLength="83.5" lengthAdjust="spacingAndGlyphs" font-size="14.5" >Thymus index</text>
<text transform="translate(686.4 443) rotate(-45)" x="0" y="0" text-anchor="middle" font-size="8.6" >Ctrl</text>
<text transform="translate(706.6 443.7) rotate(-45)" x="0" y="0" text-anchor="middle" font-size="8.6" >AIA</text>
<text transform="translate(720.2 443.7) rotate(-45)" x="0" y="0" text-anchor="middle" font-size="8.6" >GEB-L</text>
<text transform="translate(738.6 442.6) rotate(-45)" x="0" y="0" text-anchor="middle" font-size="8.6" >GEB-H</text>
<text transform="translate(761.1 443.7) rotate(-45)" x="0" y="0" text-anchor="middle" font-size="8.6" >G-GEB-L</text>
<text transform="translate(779.5 443.4) rotate(-45)" x="0" y="0" text-anchor="middle" font-size="8.6" >G-GEB-H</text>
<text transform="translate(798.3 443.4) rotate(-45)" x="0" y="0" text-anchor="middle" font-size="8.6" >MTX</text>
<text x="806" y="273" textLength="39.5" lengthAdjust="spacingAndGlyphs" font-size="32" >(F)</text>
<path d="M901.8 331.4 V420.4 H1057.3" fill="none" stroke="#111" stroke-width="1.9" />
<path d="M896.8 420.4H901.8M896.8 402.6H901.8M896.8 384.8H901.8M896.8 367H901.8M896.8 349.2H901.8M896.8 331.4H901.8M915.7 420.4V425.4M937 420.4V425.4M958.1 420.4V425.4M978.8 420.4V425.4M1000.3 420.4V425.4M1021.2 420.4V425.4M1042.5 420.4V425.4" fill="none" stroke="#231f20" stroke-width="1.4" />
<text x="895.8" y="423.96" text-anchor="end" textLength="23" lengthAdjust="spacingAndGlyphs" font-size="12.4" >0.00</text>
<text x="895.8" y="406.16" text-anchor="end" textLength="23" lengthAdjust="spacingAndGlyphs" font-size="12.4" >0.05</text>
<text x="895.8" y="388.36" text-anchor="end" textLength="23" lengthAdjust="spacingAndGlyphs" font-size="12.4" >0.10</text>
<text x="895.8" y="370.56" text-anchor="end" textLength="23" lengthAdjust="spacingAndGlyphs" font-size="12.4" >0.15</text>
<text x="895.8" y="352.76" text-anchor="end" textLength="23" lengthAdjust="spacingAndGlyphs" font-size="12.4" >0.20</text>
<text x="895.8" y="334.96" text-anchor="end" textLength="23" lengthAdjust="spacingAndGlyphs" font-size="12.4" >0.25</text>
<rect x="908.7" y="373.05" width="14" height="47.35" fill="#f5c3c4" />
<path d="M915.7 373.05V359.17M911.22 359.17H920.18" fill="none" stroke="#f5c3c4" stroke-width="1.6" />
<rect x="930" y="349.2" width="14" height="71.2" fill="#e01a1c" />
<path d="M937 349.2V336.74M932.52 336.74H941.48" fill="none" stroke="#e01a1c" stroke-width="1.6" />
<rect x="951.1" y="379.82" width="14" height="40.58" fill="#c8161e" />
<path d="M958.1 379.82V376.26M953.62 376.26H962.58" fill="none" stroke="#c8161e" stroke-width="1.6" />
<rect x="971.8" y="368.42" width="14" height="51.98" fill="#e64b50" />
<path d="M978.8 368.42V361.66M974.32 361.66H983.28" fill="none" stroke="#e64b50" stroke-width="1.6" />
<rect x="993.3" y="368.42" width="14" height="51.98" fill="#e85658" />
<path d="M1000.3 368.42V361.3M995.82 361.3H1004.78" fill="none" stroke="#e85658" stroke-width="1.6" />
<rect x="1014.2" y="369.85" width="14" height="50.55" fill="#ea6668" />
<path d="M1021.2 369.85V363.44M1016.72 363.44H1025.68" fill="none" stroke="#ea6668" stroke-width="1.6" />
<rect x="1035.5" y="364.51" width="14" height="55.89" fill="#f09d9f" />
<path d="M1042.5 364.51V359.88M1038.02 359.88H1046.98" fill="none" stroke="#f09d9f" stroke-width="1.6" />
<text x="937" y="333.74" text-anchor="middle" fill="#333" font-size="7" >##</text>
<text x="958.1" y="373.26" text-anchor="middle" fill="#333" font-size="7" >**</text>
<text x="978.8" y="358.66" text-anchor="middle" fill="#333" font-size="7" >**</text>
<text x="1000.3" y="358.3" text-anchor="middle" fill="#333" font-size="7" >**</text>
<text x="1021.2" y="360.44" text-anchor="middle" fill="#333" font-size="7" >**</text>
<text x="1042.5" y="356.88" text-anchor="middle" fill="#333" font-size="7" >*</text>
<text transform="translate(862.8 373.2) rotate(-90)" x="0" y="0" text-anchor="middle" textLength="80.8" lengthAdjust="spacingAndGlyphs" font-size="13.8" >Splenic index</text>
<text transform="translate(916.02 442.32) rotate(-45)" x="0" y="0" text-anchor="middle" font-size="8.7" >Ctrl</text>
<text transform="translate(937.22 443.42) rotate(-45)" x="0" y="0" text-anchor="middle" font-size="8.7" >AIA</text>
<text transform="translate(954.22 443.42) rotate(-45)" x="0" y="0" text-anchor="middle" font-size="8.7" >GEB-L</text>
<text transform="translate(973.42 442.72) rotate(-45)" x="0" y="0" text-anchor="middle" font-size="8.7" >GEB-H</text>
<text transform="translate(999.02 442.72) rotate(-45)" x="0" y="0" text-anchor="middle" font-size="8.7" >G-GEB-L</text>
<text transform="translate(1020.52 442.32) rotate(-45)" x="0" y="0" text-anchor="middle" font-size="8.7" >G-GEB-H</text>
<text transform="translate(1040.82 442.72) rotate(-45)" x="0" y="0" text-anchor="middle" font-size="8.7" >MTX</text>
<text x="0.5" y="520.2" textLength="44" lengthAdjust="spacingAndGlyphs" font-size="32" >(G)</text>
<text x="160.8" y="512.9" text-anchor="middle" textLength="23.5" lengthAdjust="spacingAndGlyphs" font-size="14.5" >Ctrl</text>
<text x="250" y="512.9" text-anchor="middle" textLength="28" lengthAdjust="spacingAndGlyphs" font-size="14.5" >AIA</text>
<text x="335.3" y="512.9" text-anchor="middle" textLength="45.2" lengthAdjust="spacingAndGlyphs" font-size="14.5" >GEB-L</text>
<text x="423.9" y="512.9" text-anchor="middle" textLength="48.6" lengthAdjust="spacingAndGlyphs" font-size="14.5" >GEB-H</text>
<text x="508.4" y="512.9" text-anchor="middle" textLength="63.7" lengthAdjust="spacingAndGlyphs" font-size="14.5" >G-GEB-L</text>
<text x="593.7" y="512.9" text-anchor="middle" textLength="66.1" lengthAdjust="spacingAndGlyphs" font-size="14.5" >G-GEB-H</text>
<text x="678" y="512.9" text-anchor="middle" textLength="32.1" lengthAdjust="spacingAndGlyphs" font-size="14.5" >MTX</text>
<rect x="110.1" y="522.3" width="6.1" height="88.5" fill="#0a9a48" />
<rect x="112.1" y="669.7" width="6.1" height="177.3" fill="#0a9a48" />
<text transform="translate(108.5 572) rotate(-90)" x="0" y="0" text-anchor="middle" font-size="10" >2×</text>
<text transform="translate(108 757.7) rotate(-90)" x="0" y="0" text-anchor="middle" font-size="10" >1×</text>
<defs><filter id="grain" x="0" y="0" width="100%" height="100%"><feTurbulence type="fractalNoise" baseFrequency="0.14" numOctaves="3" seed="3"/><feColorMatrix type="matrix" values="0 0 0 0 0.3  0 0 0 0 0.3  0 0 0 0 0.3  2.6 0 0 0 -1.15"/></filter><clipPath id="phclip"><rect x="122.2" y="522" width="598.3" height="88.6"/></clipPath></defs>
<rect x="122.2" y="522" width="86" height="88.6" fill="#b3b5b3" />
<rect x="207.7" y="522" width="86" height="88.6" fill="#aeafae" />
<rect x="293.2" y="522" width="86" height="88.6" fill="#a9aaa9" />
<rect x="378.7" y="522" width="86" height="88.6" fill="#b5b6b5" />
<rect x="464.2" y="522" width="86" height="88.6" fill="#a6a7a6" />
<rect x="549.7" y="522" width="86" height="88.6" fill="#acadac" />
<rect x="635.2" y="522" width="86" height="88.6" fill="#b8b9b8" />
<rect x="122.2" y="522" width="598.3" height="88.6" filter="url(#grain)" opacity="0.55"/>
<defs><linearGradient id="pg0" gradientUnits="userSpaceOnUse" x1="173" y1="522" x2="163" y2="562"><stop offset="0" stop-color="#e6dedb"/><stop offset="0.5" stop-color="#c8a4b0"/><stop offset="1" stop-color="#bc6a7c"/></linearGradient><linearGradient id="pg1" gradientUnits="userSpaceOnUse" x1="253" y1="522" x2="244" y2="554"><stop offset="0" stop-color="#e4dad7"/><stop offset="0.5" stop-color="#c09aa8"/><stop offset="1" stop-color="#ac6478"/></linearGradient><linearGradient id="pg2" gradientUnits="userSpaceOnUse" x1="337" y1="522" x2="330" y2="554"><stop offset="0" stop-color="#e2d8d4"/><stop offset="0.5" stop-color="#b8909e"/><stop offset="1" stop-color="#9c5a76"/></linearGradient><linearGradient id="pg3" gradientUnits="userSpaceOnUse" x1="421" y1="522" x2="417" y2="552"><stop offset="0" stop-color="#e6dedb"/><stop offset="0.5" stop-color="#c8a4b0"/><stop offset="1" stop-color="#bc6a7c"/></linearGradient><linearGradient id="pg4" gradientUnits="userSpaceOnUse" x1="499" y1="522" x2="500" y2="552"><stop offset="0" stop-color="#e2d8d4"/><stop offset="0.5" stop-color="#b8909e"/><stop offset="1" stop-color="#9c5a76"/></linearGradient><linearGradient id="pg5" gradientUnits="userSpaceOnUse" x1="590" y1="522" x2="591" y2="559"><stop offset="0" stop-color="#e2d8d4"/><stop offset="0.5" stop-color="#b8909e"/><stop offset="1" stop-color="#9c5a76"/></linearGradient><linearGradient id="pg6" gradientUnits="userSpaceOnUse" x1="677" y1="522" x2="670" y2="556"><stop offset="0" stop-color="#e6dedb"/><stop offset="0.5" stop-color="#c8a4b0"/><stop offset="1" stop-color="#bc6a7c"/></linearGradient></defs>
<g clip-path="url(#phclip)"><path d="M165 521 L181 521 C181 540.5 170.8 548 169.8 564 L156.2 564 C155.2 548 165 540.5 165 521 Z" fill="url(#pg0)" />
<path d="M156.2 560 C155.2 566 146 572.9 146 578.9 C146 584.9 148 587.9 151.5 588.9 L162.5 588.9 C166 587.9 168 584.9 168 578.9 C168 572.9 170.8 566 169.8 560 Z" fill="#bc6a7c" />
<path d="M150.73 582.9L149.3 602.5M154.91 582.9L153.9 605M159.09 582.9L158.5 605M163.27 582.9L163.1 602.5" fill="none" stroke="#c27282" stroke-width="4.5" stroke-linecap="round"/>
<path d="M150.73 582.9L149.3 602.5M154.91 582.9L153.9 605M159.09 582.9L158.5 605M163.27 582.9L163.1 602.5" fill="none" stroke="#e7c3c6" stroke-width="0.8" opacity="0.45"/>
<path d="M166.5 574.9L170 584.9" fill="none" stroke="#c27282" stroke-width="3.6" stroke-linecap="round"/>
<ellipse cx="155" cy="580.9" rx="4.84" ry="2.4" fill="#efd6d8" opacity="0.6"/>
<ellipse cx="161" cy="575.9" rx="2.2" ry="1.6" fill="#efd6d8" opacity="0.5"/>
<path d="M243 521 L263 521 C263 536.5 253.5 540 252.5 556 L235.5 556 C234.5 540 243 536.5 243 521 Z" fill="url(#pg1)" />
<path d="M235.5 552 C234.5 558 226.5 567 226.5 573 C226.5 579 228.5 582 232.25 583 L243.75 583 C247.5 582 249.5 579 249.5 573 C249.5 567 253.5 558 252.5 552 Z" fill="#ac6478" />
<path d="M231.44 577L229.99 599.5M235.81 577L234.8 602M240.19 577L239.6 602M244.56 577L244.41 599.5" fill="none" stroke="#b46c80" stroke-width="4.5" stroke-linecap="round"/>
<path d="M231.44 577L229.99 599.5M235.81 577L234.8 602M240.19 577L239.6 602M244.56 577L244.41 599.5" fill="none" stroke="#e7c3c6" stroke-width="0.8" opacity="0.45"/>
<path d="M248 569L251.5 579" fill="none" stroke="#b46c80" stroke-width="3.6" stroke-linecap="round"/>
<ellipse cx="236" cy="575" rx="5.06" ry="2.4" fill="#efd6d8" opacity="0.6"/>
<ellipse cx="242" cy="570" rx="2.2" ry="1.6" fill="#efd6d8" opacity="0.5"/>
<ellipse cx="242" cy="558" rx="8" ry="10" fill="#6a3c6c" opacity="0.4"/>
<path d="M329 521 L345 521 C345 536.5 337.8 540 336.8 556 L323.2 556 C322.2 540 329 536.5 329 521 Z" fill="url(#pg2)" />
<path d="M323.2 552 C322.2 558 313 567 313 573 C313 579 315 582 319 583 L331 583 C335 582 337 579 337 573 C337 567 337.8 558 336.8 552 Z" fill="#9c5a76" />
<path d="M318.16 577L316.68 599.5M322.72 577L321.69 602M327.28 577L326.71 602M331.84 577L331.72 599.5" fill="none" stroke="#a8627c" stroke-width="4.5" stroke-linecap="round"/>
<path d="M318.16 577L316.68 599.5M322.72 577L321.69 602M327.28 577L326.71 602M331.84 577L331.72 599.5" fill="none" stroke="#e7c3c6" stroke-width="0.8" opacity="0.45"/>
<path d="M335.5 569L339 579" fill="none" stroke="#a8627c" stroke-width="3.6" stroke-linecap="round"/>
<ellipse cx="323" cy="575" rx="5.28" ry="2.4" fill="#efd6d8" opacity="0.6"/>
<ellipse cx="329" cy="570" rx="2.2" ry="1.6" fill="#efd6d8" opacity="0.5"/>
<path d="M414 521 L428 521 C428 535.5 423.95 538 422.95 554 L411.05 554 C410.05 538 414 535.5 414 521 Z" fill="url(#pg3)" />
<path d="M411.05 550 C410.05 556 401 567.1 401 573.1 C401 579.1 403 582.1 406.5 583.1 L417.5 583.1 C421 582.1 423 579.1 423 573.1 C423 567.1 423.95 556 422.95 550 Z" fill="#bc6a7c" />
<path d="M405.73 577.1L404.3 602.5M409.91 577.1L408.9 605M414.09 577.1L413.5 605M418.27 577.1L418.1 602.5" fill="none" stroke="#c27282" stroke-width="4.5" stroke-linecap="round"/>
<path d="M405.73 577.1L404.3 602.5M409.91 577.1L408.9 605M414.09 577.1L413.5 605M418.27 577.1L418.1 602.5" fill="none" stroke="#e7c3c6" stroke-width="0.8" opacity="0.45"/>
<path d="M421.5 569.1L425 579.1" fill="none" stroke="#c27282" stroke-width="3.6" stroke-linecap="round"/>
<ellipse cx="410" cy="575.1" rx="4.84" ry="2.4" fill="#efd6d8" opacity="0.6"/>
<ellipse cx="416" cy="570.1" rx="2.2" ry="1.6" fill="#efd6d8" opacity="0.5"/>
<path d="M490.5 521 L507.5 521 C507.5 535.5 508.23 538 507.23 554 L492.77 554 C491.77 538 490.5 535.5 490.5 521 Z" fill="url(#pg4)" />
<path d="M492.77 550 C491.77 556 488.5 568.36 488.5 574.36 C488.5 580.36 490.5 583.36 494.25 584.36 L505.75 584.36 C509.5 583.36 511.5 580.36 511.5 574.36 C511.5 568.36 508.23 556 507.23 550 Z" fill="#9c5a76" />
<path d="M493.44 578.36L491.99 605.5M497.81 578.36L496.8 608M502.19 578.36L501.6 608M506.56 578.36L506.41 605.5" fill="none" stroke="#a8627c" stroke-width="4.5" stroke-linecap="round"/>
<path d="M493.44 578.36L491.99 605.5M497.81 578.36L496.8 608M502.19 578.36L501.6 608M506.56 578.36L506.41 605.5" fill="none" stroke="#e7c3c6" stroke-width="0.8" opacity="0.45"/>
<path d="M510 570.36L513.5 580.36" fill="none" stroke="#a8627c" stroke-width="3.6" stroke-linecap="round"/>
<ellipse cx="498" cy="576.36" rx="5.06" ry="2.4" fill="#efd6d8" opacity="0.6"/>
<ellipse cx="504" cy="571.36" rx="2.2" ry="1.6" fill="#efd6d8" opacity="0.5"/>
<path d="M581.5 521 L598.5 521 C598.5 539 599.23 545 598.23 561 L583.77 561 C582.77 545 581.5 539 581.5 521 Z" fill="url(#pg5)" />
<path d="M583.77 557 C582.77 563 579 569.48 579 575.48 C579 581.48 581 584.48 584.5 585.48 L595.5 585.48 C599 584.48 601 581.48 601 575.48 C601 569.48 599.23 563 598.23 557 Z" fill="#9c5a76" />
<path d="M583.73 579.48L582.3 598.5M587.91 579.48L586.9 601M592.09 579.48L591.5 601M596.27 579.48L596.1 598.5" fill="none" stroke="#a8627c" stroke-width="4.5" stroke-linecap="round"/>
<path d="M583.73 579.48L582.3 598.5M587.91 579.48L586.9 601M592.09 579.48L591.5 601M596.27 579.48L596.1 598.5" fill="none" stroke="#e7c3c6" stroke-width="0.8" opacity="0.45"/>
<path d="M599.5 571.48L603 581.48" fill="none" stroke="#a8627c" stroke-width="3.6" stroke-linecap="round"/>
<ellipse cx="588" cy="577.48" rx="4.84" ry="2.4" fill="#efd6d8" opacity="0.6"/>
<ellipse cx="594" cy="572.48" rx="2.2" ry="1.6" fill="#efd6d8" opacity="0.5"/>
<path d="M668.5 521 L685.5 521 C685.5 537.5 678.23 542 677.23 558 L662.77 558 C661.77 542 668.5 537.5 668.5 521 Z" fill="url(#pg6)" />
<path d="M662.77 554 C661.77 560 653.5 570.26 653.5 576.26 C653.5 582.26 655.5 585.26 658.75 586.26 L669.25 586.26 C672.5 585.26 674.5 582.26 674.5 576.26 C674.5 570.26 678.23 560 677.23 554 Z" fill="#bc6a7c" />
<path d="M658.01 580.26L656.62 604.5M662 580.26L661.01 607M666 580.26L665.39 607M669.99 580.26L669.78 604.5" fill="none" stroke="#c27282" stroke-width="4.5" stroke-linecap="round"/>
<path d="M658.01 580.26L656.62 604.5M662 580.26L661.01 607M666 580.26L665.39 607M669.99 580.26L669.78 604.5" fill="none" stroke="#e7c3c6" stroke-width="0.8" opacity="0.45"/>
<path d="M673 572.26L676.5 582.26" fill="none" stroke="#c27282" stroke-width="3.6" stroke-linecap="round"/>
<ellipse cx="662" cy="578.26" rx="4.62" ry="2.4" fill="#efd6d8" opacity="0.6"/>
<ellipse cx="668" cy="573.26" rx="2.2" ry="1.6" fill="#efd6d8" opacity="0.5"/></g>
<path d="M124.83 610.6V622.8M127.46 610.6V622.8M130.09 610.6V622.8M132.72 610.6V622.8M137.98 610.6V622.8M140.61 610.6V622.8M143.24 610.6V622.8M145.87 610.6V622.8M151.13 610.6V622.8M153.76 610.6V622.8M156.39 610.6V622.8M159.02 610.6V622.8M164.28 610.6V622.8M166.91 610.6V622.8M169.54 610.6V622.8M172.17 610.6V622.8M177.43 610.6V622.8M180.06 610.6V622.8M182.69 610.6V622.8M185.32 610.6V622.8M190.58 610.6V622.8M193.21 610.6V622.8M195.84 610.6V622.8M198.47 610.6V622.8M203.73 610.6V622.8M206.36 610.6V622.8M210.33 610.6V622.8M212.96 610.6V622.8M215.59 610.6V622.8M218.22 610.6V622.8M223.48 610.6V622.8M226.11 610.6V622.8M228.74 610.6V622.8M231.37 610.6V622.8M236.63 610.6V622.8M239.26 610.6V622.8M241.89 610.6V622.8M244.52 610.6V622.8M249.78 610.6V622.8M252.41 610.6V622.8M255.04 610.6V622.8M257.67 610.6V622.8M262.93 610.6V622.8M265.56 610.6V622.8M268.19 610.6V622.8M270.82 610.6V622.8M276.08 610.6V622.8M278.71 610.6V622.8M281.34 610.6V622.8M283.97 610.6V622.8M289.23 610.6V622.8M291.86 610.6V622.8M295.83 610.6V622.8M298.46 610.6V622.8M301.09 610.6V622.8M303.72 610.6V622.8M308.98 610.6V622.8M311.61 610.6V622.8M314.24 610.6V622.8M316.87 610.6V622.8M322.13 610.6V622.8M324.76 610.6V622.8M327.39 610.6V622.8M330.02 610.6V622.8M335.28 610.6V622.8M337.91 610.6V622.8M340.54 610.6V622.8M343.17 610.6V622.8M348.43 610.6V622.8M351.06 610.6V622.8M353.69 610.6V622.8M356.32 610.6V622.8M361.58 610.6V622.8M364.21 610.6V622.8M366.84 610.6V622.8M369.47 610.6V622.8M374.73 610.6V622.8M377.36 610.6V622.8M381.33 610.6V622.8M383.96 610.6V622.8M386.59 610.6V622.8M389.22 610.6V622.8M394.48 610.6V622.8M397.11 610.6V622.8M399.74 610.6V622.8M402.37 610.6V622.8M407.63 610.6V622.8M410.26 610.6V622.8M412.89 610.6V622.8M415.52 610.6V622.8M420.78 610.6V622.8M423.41 610.6V622.8M426.04 610.6V622.8M428.67 610.6V622.8M433.93 610.6V622.8M436.56 610.6V622.8M439.19 610.6V622.8M441.82 610.6V622.8M447.08 610.6V622.8M449.71 610.6V622.8M452.34 610.6V622.8M454.97 610.6V622.8M460.23 610.6V622.8M462.86 610.6V622.8M466.83 610.6V622.8M469.46 610.6V622.8M472.09 610.6V622.8M474.72 610.6V622.8M479.98 610.6V622.8M482.61 610.6V622.8M485.24 610.6V622.8M487.87 610.6V622.8M493.13 610.6V622.8M495.76 610.6V622.8M498.39 610.6V622.8M501.02 610.6V622.8M506.28 610.6V622.8M508.91 610.6V622.8M511.54 610.6V622.8M514.17 610.6V622.8M519.43 610.6V622.8M522.06 610.6V622.8M524.69 610.6V622.8M527.32 610.6V622.8M532.58 610.6V622.8M535.21 610.6V622.8M537.84 610.6V622.8M540.47 610.6V622.8M545.73 610.6V622.8M548.36 610.6V622.8M552.33 610.6V622.8M554.96 610.6V622.8M557.59 610.6V622.8M560.22 610.6V622.8M565.48 610.6V622.8M568.11 610.6V622.8M570.74 610.6V622.8M573.37 610.6V622.8M578.63 610.6V622.8M581.26 610.6V622.8M583.89 610.6V622.8M586.52 610.6V622.8M591.78 610.6V622.8M594.41 610.6V622.8M597.04 610.6V622.8M599.67 610.6V622.8M604.93 610.6V622.8M607.56 610.6V622.8M610.19 610.6V622.8M612.82 610.6V622.8M618.08 610.6V622.8M620.71 610.6V622.8M623.34 610.6V622.8M625.97 610.6V622.8M631.23 610.6V622.8M633.86 610.6V622.8M637.83 610.6V622.8M640.46 610.6V622.8M643.09 610.6V622.8M645.72 610.6V622.8M650.98 610.6V622.8M653.61 610.6V622.8M656.24 610.6V622.8M658.87 610.6V622.8M664.13 610.6V622.8M666.76 610.6V622.8M669.39 610.6V622.8M672.02 610.6V622.8M677.28 610.6V622.8M679.91 610.6V622.8M682.54 610.6V622.8M685.17 610.6V622.8M690.43 610.6V622.8M693.06 610.6V622.8M695.69 610.6V622.8M698.32 610.6V622.8M703.58 610.6V622.8M706.21 610.6V622.8M708.84 610.6V622.8M711.47 610.6V622.8M716.73 610.6V622.8M719.36 610.6V622.8" fill="none" stroke="#8c8c8c" stroke-width="0.7" />
<path d="M135.35 610.6V630.4M161.65 610.6V630.4M187.95 610.6V630.4M220.85 610.6V630.4M247.15 610.6V630.4M273.45 610.6V630.4M306.35 610.6V630.4M332.65 610.6V630.4M358.95 610.6V630.4M391.85 610.6V630.4M418.15 610.6V630.4M444.45 610.6V630.4M477.35 610.6V630.4M503.65 610.6V630.4M529.95 610.6V630.4M562.85 610.6V630.4M589.15 610.6V630.4M615.45 610.6V630.4M648.35 610.6V630.4M674.65 610.6V630.4M700.95 610.6V630.4" fill="none" stroke="#6f6f6f" stroke-width="0.8" />
<path d="M122.2 610.6V638.3M148.5 610.6V638.3M174.8 610.6V638.3M201.1 610.6V638.3M207.7 610.6V638.3M234 610.6V638.3M260.3 610.6V638.3M286.6 610.6V638.3M293.2 610.6V638.3M319.5 610.6V638.3M345.8 610.6V638.3M372.1 610.6V638.3M378.7 610.6V638.3M405 610.6V638.3M431.3 610.6V638.3M457.6 610.6V638.3M464.2 610.6V638.3M490.5 610.6V638.3M516.8 610.6V638.3M543.1 610.6V638.3M549.7 610.6V638.3M576 610.6V638.3M602.3 610.6V638.3M628.6 610.6V638.3M635.2 610.6V638.3M661.5 610.6V638.3M687.8 610.6V638.3M714.1 610.6V638.3" fill="none" stroke="#6a6a6a" stroke-width="0.8" />
<text transform="translate(127.8 650) rotate(-90)" x="0" y="0" text-anchor="middle" textLength="9.4" lengthAdjust="spacingAndGlyphs" fill="#555" font-size="5.2" >0cm</text>
<text transform="translate(150.3 650) rotate(-90)" x="0" y="0" text-anchor="middle" textLength="9.4" lengthAdjust="spacingAndGlyphs" fill="#555" font-size="5.2" >1cm</text>
<text transform="translate(176.6 650) rotate(-90)" x="0" y="0" text-anchor="middle" textLength="9.4" lengthAdjust="spacingAndGlyphs" fill="#555" font-size="5.2" >2cm</text>
<text transform="translate(201.6 650) rotate(-90)" x="0" y="0" text-anchor="middle" textLength="9.4" lengthAdjust="spacingAndGlyphs" fill="#555" font-size="5.2" >3cm</text>
<text transform="translate(213.3 650) rotate(-90)" x="0" y="0" text-anchor="middle" textLength="9.4" lengthAdjust="spacingAndGlyphs" fill="#555" font-size="5.2" >0cm</text>
<text transform="translate(235.8 650) rotate(-90)" x="0" y="0" text-anchor="middle" textLength="9.4" lengthAdjust="spacingAndGlyphs" fill="#555" font-size="5.2" >1cm</text>
<text transform="translate(262.1 650) rotate(-90)" x="0" y="0" text-anchor="middle" textLength="9.4" lengthAdjust="spacingAndGlyphs" fill="#555" font-size="5.2" >2cm</text>
<text transform="translate(287.1 650) rotate(-90)" x="0" y="0" text-anchor="middle" textLength="9.4" lengthAdjust="spacingAndGlyphs" fill="#555" font-size="5.2" >3cm</text>
<text transform="translate(298.8 650) rotate(-90)" x="0" y="0" text-anchor="middle" textLength="9.4" lengthAdjust="spacingAndGlyphs" fill="#555" font-size="5.2" >0cm</text>
<text transform="translate(321.3 650) rotate(-90)" x="0" y="0" text-anchor="middle" textLength="9.4" lengthAdjust="spacingAndGlyphs" fill="#555" font-size="5.2" >1cm</text>
<text transform="translate(347.6 650) rotate(-90)" x="0" y="0" text-anchor="middle" textLength="9.4" lengthAdjust="spacingAndGlyphs" fill="#555" font-size="5.2" >2cm</text>
<text transform="translate(372.6 650) rotate(-90)" x="0" y="0" text-anchor="middle" textLength="9.4" lengthAdjust="spacingAndGlyphs" fill="#555" font-size="5.2" >3cm</text>
<text transform="translate(384.3 650) rotate(-90)" x="0" y="0" text-anchor="middle" textLength="9.4" lengthAdjust="spacingAndGlyphs" fill="#555" font-size="5.2" >0cm</text>
<text transform="translate(406.8 650) rotate(-90)" x="0" y="0" text-anchor="middle" textLength="9.4" lengthAdjust="spacingAndGlyphs" fill="#555" font-size="5.2" >1cm</text>
<text transform="translate(433.1 650) rotate(-90)" x="0" y="0" text-anchor="middle" textLength="9.4" lengthAdjust="spacingAndGlyphs" fill="#555" font-size="5.2" >2cm</text>
<text transform="translate(458.1 650) rotate(-90)" x="0" y="0" text-anchor="middle" textLength="9.4" lengthAdjust="spacingAndGlyphs" fill="#555" font-size="5.2" >3cm</text>
<text transform="translate(469.8 650) rotate(-90)" x="0" y="0" text-anchor="middle" textLength="9.4" lengthAdjust="spacingAndGlyphs" fill="#555" font-size="5.2" >0cm</text>
<text transform="translate(492.3 650) rotate(-90)" x="0" y="0" text-anchor="middle" textLength="9.4" lengthAdjust="spacingAndGlyphs" fill="#555" font-size="5.2" >1cm</text>
<text transform="translate(518.6 650) rotate(-90)" x="0" y="0" text-anchor="middle" textLength="9.4" lengthAdjust="spacingAndGlyphs" fill="#555" font-size="5.2" >2cm</text>
<text transform="translate(543.6 650) rotate(-90)" x="0" y="0" text-anchor="middle" textLength="9.4" lengthAdjust="spacingAndGlyphs" fill="#555" font-size="5.2" >3cm</text>
<text transform="translate(555.3 650) rotate(-90)" x="0" y="0" text-anchor="middle" textLength="9.4" lengthAdjust="spacingAndGlyphs" fill="#555" font-size="5.2" >0cm</text>
<text transform="translate(577.8 650) rotate(-90)" x="0" y="0" text-anchor="middle" textLength="9.4" lengthAdjust="spacingAndGlyphs" fill="#555" font-size="5.2" >1cm</text>
<text transform="translate(604.1 650) rotate(-90)" x="0" y="0" text-anchor="middle" textLength="9.4" lengthAdjust="spacingAndGlyphs" fill="#555" font-size="5.2" >2cm</text>
<text transform="translate(629.1 650) rotate(-90)" x="0" y="0" text-anchor="middle" textLength="9.4" lengthAdjust="spacingAndGlyphs" fill="#555" font-size="5.2" >3cm</text>
<text transform="translate(640.8 650) rotate(-90)" x="0" y="0" text-anchor="middle" textLength="9.4" lengthAdjust="spacingAndGlyphs" fill="#555" font-size="5.2" >0cm</text>
<text transform="translate(663.3 650) rotate(-90)" x="0" y="0" text-anchor="middle" textLength="9.4" lengthAdjust="spacingAndGlyphs" fill="#555" font-size="5.2" >1cm</text>
<text transform="translate(689.6 650) rotate(-90)" x="0" y="0" text-anchor="middle" textLength="9.4" lengthAdjust="spacingAndGlyphs" fill="#555" font-size="5.2" >2cm</text>
<text transform="translate(714.6 650) rotate(-90)" x="0" y="0" text-anchor="middle" textLength="9.4" lengthAdjust="spacingAndGlyphs" fill="#555" font-size="5.2" >3cm</text>
<defs><clipPath id="hclip"><rect x="122.2" y="668.8" width="596.3" height="88.5"/></clipPath><clipPath id="sclip"><rect x="122.2" y="758.9" width="596.3" height="87.6"/></clipPath></defs>
<g clip-path="url(#hclip)">
<rect x="122.2" y="668.8" width="596.3" height="88.5" fill="#c9449e" />
<polygon points="122,677 137,685 143,694 134,702 122,707" fill="#e0b6dc" stroke="#e0b6dc" stroke-width="2" stroke-linejoin="round" opacity="0.85"/>
<path d="M135.08 699.25l9.79 -3.4M137.54 704.67l3.44 -2.46M141.81 696.47l7.55 -8.29M131.85 684.4l7.09 -4.4M122.28 683.5l5.86 -2.14M138.08 681.79l7.1 -7.56M134.97 680.8l3.73 -1.48M126.4 683.46l11.03 -4.36M128.08 705.84l7.32 -3.94M126.3 705.23l9.04 -3M140.77 685.96l4.8 -4.94M125.06 678.95l5.5 -3.29M122.07 697.34l5.07 -4.39M139.19 691.42l5.34 -3.75" stroke="#c04ca4" stroke-width="1.0" opacity="0.55" fill="none"/>
<g fill="#c04ca4"><ellipse cx="136.8" cy="678.71" rx="1.57" ry="0.73" transform="rotate(134.96 136.8 678.71)"/><ellipse cx="138.54" cy="687.99" rx="1.14" ry="0.52" transform="rotate(8.41 138.54 687.99)"/><ellipse cx="126.13" cy="699.67" rx="1.52" ry="1.62" transform="rotate(61.99 126.13 699.67)"/><ellipse cx="129.45" cy="692.74" rx="1.35" ry="0.7" transform="rotate(134.71 129.45 692.74)"/><ellipse cx="138.74" cy="702.79" rx="0.54" ry="0.58" transform="rotate(16.41 138.74 702.79)"/><ellipse cx="129.16" cy="695.32" rx="1.51" ry="1.01" transform="rotate(166.36 129.16 695.32)"/><ellipse cx="133.45" cy="686.37" rx="0.85" ry="0.48" transform="rotate(14.08 133.45 686.37)"/><ellipse cx="125.13" cy="697.68" rx="1.6" ry="0.89" transform="rotate(8.74 125.13 697.68)"/><ellipse cx="142.72" cy="693.01" rx="0.95" ry="0.57" transform="rotate(106.91 142.72 693.01)"/><ellipse cx="139.35" cy="690.67" rx="0.96" ry="0.47" transform="rotate(164.89 139.35 690.67)"/></g>
<polygon points="122,707 142,694 162,682 164,688 147,703 132,716 122,720" fill="#e0b6dc" stroke="#e0b6dc" stroke-width="2" stroke-linejoin="round" opacity="0.85"/>
<path d="M123.37 700.76l7.29 -7.84M152.73 718.09l8.23 -3.75M126.48 698.51l4.8 -1.99M134.38 699.22l11.1 -4.55M162.99 699.23l7.08 -3.53M142.12 693.06l4.97 -5.25M137.83 719.56l10.11 -5.84M142.97 694.86l3.49 -3.17M154.84 714.96l6.27 -2.86M154.55 708.39l8.41 -4M137.26 708.77l5.13 -3.57M154.33 708.25l6 -2.07M149.29 704.07l3.44 -2.21M132.53 707.52l7.07 -3.07" stroke="#c04ca4" stroke-width="1.0" opacity="0.55" fill="none"/>
<g fill="#c04ca4"><ellipse cx="149.19" cy="712.31" rx="0.88" ry="0.77" transform="rotate(132.81 149.19 712.31)"/><ellipse cx="156.78" cy="695.3" rx="1.43" ry="1.45" transform="rotate(123.9 156.78 695.3)"/><ellipse cx="143.76" cy="702.11" rx="0.68" ry="0.68" transform="rotate(168.73 143.76 702.11)"/><ellipse cx="142.04" cy="708.27" rx="1.29" ry="1.19" transform="rotate(30.93 142.04 708.27)"/><ellipse cx="154.78" cy="704.07" rx="1.23" ry="0.89" transform="rotate(112.27 154.78 704.07)"/><ellipse cx="154.54" cy="706.2" rx="1.29" ry="0.6" transform="rotate(28.8 154.54 706.2)"/><ellipse cx="140.52" cy="706.7" rx="0.74" ry="0.66" transform="rotate(113.56 140.52 706.7)"/><ellipse cx="123.76" cy="699.92" rx="0.75" ry="0.36" transform="rotate(24.03 123.76 699.92)"/><ellipse cx="135.33" cy="688.9" rx="0.71" ry="0.34" transform="rotate(83.76 135.33 688.9)"/><ellipse cx="137.97" cy="705.25" rx="1.15" ry="0.69" transform="rotate(162.57 137.97 705.25)"/></g>
<polygon points="122,738 142,740 158,744 153,758 122,758" fill="#e0b6dc" stroke="#e0b6dc" stroke-width="2" stroke-linejoin="round" opacity="0.85"/>
<path d="M122.02 746.11l4.94 -3.79M126.14 754.63l4.46 -5.38M144.09 739.9l6.41 -5.36M142.91 757.17l8.41 -6.37M151.27 750.85l4.77 -5.06M143.45 749.28l11.07 -3.66M143.91 745.02l6.93 -8.73M125.89 749.32l6.12 -6.5M144.66 755.83l5.62 -4.19M130.15 743.83l9.22 -7.33M156.6 756.27l6.45 -5.94M157.32 747.93l5.56 -4.77M157.43 747.84l5.14 -3.62M126.39 750.43l5.65 -5" stroke="#c04ca4" stroke-width="1.0" opacity="0.55" fill="none"/>
<g fill="#c04ca4"><ellipse cx="150.14" cy="754.54" rx="0.51" ry="0.41" transform="rotate(49.28 150.14 754.54)"/><ellipse cx="130.84" cy="743.35" rx="0.67" ry="0.73" transform="rotate(52.77 130.84 743.35)"/><ellipse cx="143.89" cy="747.49" rx="1.21" ry="1.02" transform="rotate(133.83 143.89 747.49)"/><ellipse cx="126.25" cy="753.21" rx="0.83" ry="0.66" transform="rotate(60.5 126.25 753.21)"/><ellipse cx="132.69" cy="748.6" rx="1.01" ry="0.69" transform="rotate(134.1 132.69 748.6)"/><ellipse cx="143.27" cy="738.73" rx="0.78" ry="0.58" transform="rotate(164.98 143.27 738.73)"/><ellipse cx="153.97" cy="748.91" rx="0.52" ry="0.49" transform="rotate(76.99 153.97 748.91)"/><ellipse cx="142.72" cy="752.16" rx="1.2" ry="0.91" transform="rotate(164.11 142.72 752.16)"/><ellipse cx="135.88" cy="745.84" rx="1.44" ry="0.83" transform="rotate(53.36 135.88 745.84)"/><ellipse cx="152.11" cy="751.89" rx="0.98" ry="0.62" transform="rotate(140.53 152.11 751.89)"/></g>
<polygon points="192,669 208,669 208,704 200,702 194,682" fill="#e0b6dc" stroke="#e0b6dc" stroke-width="2" stroke-linejoin="round" opacity="0.85"/>
<path d="M206.57 673.99l6.59 -4.23M199.96 680.58l4.46 -2.73M204.99 671.39l5.36 -2.32M204.67 692.23l3.76 -1.89M207.66 703.94l6.19 -7.35M205.47 676.67l8.68 -2.96M203.4 673.71l5.96 -2.17M194.4 690.37l5.08 -5.26M201.96 670.52l3.81 -3.03M193.15 671.01l7.73 -3.78M206.06 673.7l5.65 -4.87M201.6 686.14l8.98 -7.2M192.89 693.41l4.52 -2.59M200.09 700.86l7.29 -4.25" stroke="#c04ca4" stroke-width="1.0" opacity="0.55" fill="none"/>
<g fill="#c04ca4"><ellipse cx="196.21" cy="688.31" rx="0.78" ry="0.73" transform="rotate(93.06 196.21 688.31)"/><ellipse cx="194.14" cy="677.2" rx="0.91" ry="0.84" transform="rotate(32.28 194.14 677.2)"/><ellipse cx="203.41" cy="691.93" rx="0.59" ry="0.52" transform="rotate(16.41 203.41 691.93)"/><ellipse cx="194" cy="689.79" rx="0.76" ry="0.78" transform="rotate(86.48 194 689.79)"/><ellipse cx="197.17" cy="696.88" rx="0.53" ry="0.49" transform="rotate(9.66 197.17 696.88)"/><ellipse cx="202.9" cy="676.81" rx="0.63" ry="0.68" transform="rotate(119.71 202.9 676.81)"/><ellipse cx="205.13" cy="673.89" rx="1.19" ry="0.81" transform="rotate(42.3 205.13 673.89)"/><ellipse cx="197.33" cy="690.48" rx="0.88" ry="0.62" transform="rotate(24.56 197.33 690.48)"/><ellipse cx="205.3" cy="691.68" rx="1.38" ry="1.01" transform="rotate(153.28 205.3 691.68)"/><ellipse cx="200.28" cy="689.74" rx="1.13" ry="1.05" transform="rotate(71.19 200.28 689.74)"/></g>
<g fill="#fbf6fa"><ellipse cx="145.34" cy="724.18" rx="2.52" ry="1.14" transform="rotate(84.63 145.34 724.18)"/><ellipse cx="145.35" cy="726.53" rx="1.86" ry="1.4" transform="rotate(17.95 145.35 726.53)"/><ellipse cx="134.32" cy="718.7" rx="1.75" ry="1.23" transform="rotate(158.46 134.32 718.7)"/><ellipse cx="134.28" cy="720.32" rx="1.55" ry="0.86" transform="rotate(51.67 134.28 720.32)"/><ellipse cx="135.53" cy="724.19" rx="1.06" ry="1.12" transform="rotate(66.41 135.53 724.19)"/><ellipse cx="146.07" cy="727.69" rx="2.35" ry="1.78" transform="rotate(170.17 146.07 727.69)"/><ellipse cx="133.77" cy="727.37" rx="1.58" ry="1.41" transform="rotate(131.27 133.77 727.37)"/><ellipse cx="134.45" cy="719.42" rx="1.05" ry="0.63" transform="rotate(14.08 134.45 719.42)"/><ellipse cx="138.02" cy="732.55" rx="1.73" ry="1.13" transform="rotate(84.25 138.02 732.55)"/><ellipse cx="136.25" cy="728.45" rx="2.44" ry="1.35" transform="rotate(43.3 136.25 728.45)"/><ellipse cx="142.08" cy="731.99" rx="2.29" ry="1.67" transform="rotate(175.58 142.08 731.99)"/><ellipse cx="143.69" cy="722.97" rx="1.09" ry="0.88" transform="rotate(178.13 143.69 722.97)"/></g>
<g fill="#f6eef4"><ellipse cx="139.78" cy="721.95" rx="0.58" ry="0.29" transform="rotate(161.78 139.78 721.95)"/><ellipse cx="139.37" cy="731.91" rx="0.55" ry="0.33" transform="rotate(9.08 139.37 731.91)"/><ellipse cx="137.96" cy="717.02" rx="0.72" ry="0.51" transform="rotate(55.07 137.96 717.02)"/><ellipse cx="139.63" cy="722.84" rx="0.95" ry="0.48" transform="rotate(56.5 139.63 722.84)"/><ellipse cx="133.62" cy="725.21" rx="1.28" ry="1.08" transform="rotate(154.22 133.62 725.21)"/><ellipse cx="140.09" cy="724.27" rx="0.99" ry="0.68" transform="rotate(112.52 140.09 724.27)"/><ellipse cx="142.88" cy="731.52" rx="0.76" ry="0.56" transform="rotate(148.75 142.88 731.52)"/><ellipse cx="135.36" cy="717.97" rx="0.76" ry="0.39" transform="rotate(139.03 135.36 717.97)"/><ellipse cx="144.29" cy="721.32" rx="0.61" ry="0.31" transform="rotate(44.07 144.29 721.32)"/><ellipse cx="133.26" cy="723.29" rx="0.99" ry="0.6" transform="rotate(11.06 133.26 723.29)"/><ellipse cx="142.51" cy="716.82" rx="0.67" ry="0.43" transform="rotate(67.28 142.51 716.82)"/><ellipse cx="133.48" cy="723.15" rx="0.77" ry="0.72" transform="rotate(100.1 133.48 723.15)"/><ellipse cx="145.44" cy="727.12" rx="1.15" ry="0.94" transform="rotate(79.59 145.44 727.12)"/><ellipse cx="144.25" cy="727.14" rx="1.31" ry="1.21" transform="rotate(126.21 144.25 727.14)"/></g>
<g fill="#fbf6fa"><ellipse cx="172.28" cy="739.05" rx="2.12" ry="1.13" transform="rotate(11.87 172.28 739.05)"/><ellipse cx="170.71" cy="718.72" rx="2.82" ry="1.79" transform="rotate(11.43 170.71 718.72)"/><ellipse cx="180.22" cy="729.62" rx="1.27" ry="0.61" transform="rotate(23.42 180.22 729.62)"/><ellipse cx="173.71" cy="740.81" rx="3.48" ry="2.95" transform="rotate(41.6 173.71 740.81)"/><ellipse cx="174.86" cy="722.41" rx="1.99" ry="0.91" transform="rotate(105.2 174.86 722.41)"/><ellipse cx="181.23" cy="735.89" rx="1.43" ry="1.14" transform="rotate(30.82 181.23 735.89)"/><ellipse cx="179.35" cy="725.51" rx="3.45" ry="3.34" transform="rotate(21.28 179.35 725.51)"/><ellipse cx="173.07" cy="742.85" rx="2.31" ry="1.69" transform="rotate(79.46 173.07 742.85)"/><ellipse cx="176.52" cy="744.88" rx="2.63" ry="1.36" transform="rotate(146.57 176.52 744.88)"/><ellipse cx="174.71" cy="710.94" rx="3.55" ry="1.67" transform="rotate(103.86 174.71 710.94)"/><ellipse cx="175.71" cy="741.63" rx="2.14" ry="1.26" transform="rotate(49.87 175.71 741.63)"/><ellipse cx="171.22" cy="729.81" rx="2.06" ry="1.93" transform="rotate(43.48 171.22 729.81)"/><ellipse cx="173.63" cy="718.18" rx="3.56" ry="3.54" transform="rotate(152.97 173.63 718.18)"/><ellipse cx="177.89" cy="723.83" rx="1.54" ry="1.53" transform="rotate(88.22 177.89 723.83)"/><ellipse cx="169.58" cy="735.55" rx="3.36" ry="1.95" transform="rotate(143.47 169.58 735.55)"/><ellipse cx="173.18" cy="734.27" rx="3.27" ry="2.8" transform="rotate(144.07 173.18 734.27)"/><ellipse cx="176.19" cy="730.71" rx="1.64" ry="1.16" transform="rotate(57.1 176.19 730.71)"/><ellipse cx="174.13" cy="726.62" rx="2.89" ry="2.05" transform="rotate(176.83 174.13 726.62)"/></g>
<g fill="#f6eef4"><ellipse cx="179.08" cy="733.8" rx="1.1" ry="1.07" transform="rotate(65.3 179.08 733.8)"/><ellipse cx="177.5" cy="734.14" rx="1.08" ry="0.69" transform="rotate(13.99 177.5 734.14)"/><ellipse cx="169.4" cy="722.17" rx="1.15" ry="1.09" transform="rotate(128.6 169.4 722.17)"/><ellipse cx="172.91" cy="743.38" rx="0.81" ry="0.74" transform="rotate(12.97 172.91 743.38)"/><ellipse cx="180.05" cy="733.79" rx="1.57" ry="1.62" transform="rotate(123.78 180.05 733.79)"/><ellipse cx="181.41" cy="736.33" rx="1.18" ry="0.69" transform="rotate(93 181.41 736.33)"/><ellipse cx="182.34" cy="717.85" rx="1.59" ry="1.28" transform="rotate(70.81 182.34 717.85)"/><ellipse cx="170.85" cy="733.16" rx="1.51" ry="1.57" transform="rotate(110.44 170.85 733.16)"/><ellipse cx="174.19" cy="713.03" rx="1.27" ry="1.03" transform="rotate(128.75 174.19 713.03)"/><ellipse cx="173.98" cy="741.81" rx="0.74" ry="0.48" transform="rotate(48.18 173.98 741.81)"/><ellipse cx="177.95" cy="742.2" rx="0.69" ry="0.59" transform="rotate(137.97 177.95 742.2)"/><ellipse cx="177.05" cy="739.72" rx="1.48" ry="1.37" transform="rotate(75.03 177.05 739.72)"/><ellipse cx="174.81" cy="728.56" rx="1.51" ry="0.98" transform="rotate(50.53 174.81 728.56)"/><ellipse cx="177.69" cy="744.76" rx="0.71" ry="0.33" transform="rotate(20.81 177.69 744.76)"/><ellipse cx="177" cy="731.33" rx="0.71" ry="0.4" transform="rotate(107.01 177 731.33)"/><ellipse cx="178.34" cy="734.54" rx="1.32" ry="0.64" transform="rotate(87.25 178.34 734.54)"/><ellipse cx="173.1" cy="740.46" rx="1.22" ry="1.29" transform="rotate(41.23 173.1 740.46)"/><ellipse cx="179.15" cy="740.11" rx="1.03" ry="0.53" transform="rotate(34.83 179.15 740.11)"/><ellipse cx="170.43" cy="731.78" rx="0.62" ry="0.58" transform="rotate(132.52 170.43 731.78)"/><ellipse cx="181.06" cy="738.74" rx="1.3" ry="1.36" transform="rotate(172.24 181.06 738.74)"/><ellipse cx="178" cy="744.71" rx="0.62" ry="0.32" transform="rotate(11.6 178 744.71)"/></g>
<g fill="#fbf6fa"><ellipse cx="196.89" cy="686.99" rx="1.53" ry="1.37" transform="rotate(133.73 196.89 686.99)"/><ellipse cx="195.17" cy="687.68" rx="1.67" ry="1.16" transform="rotate(21.16 195.17 687.68)"/><ellipse cx="202.36" cy="686.99" rx="1.89" ry="1.46" transform="rotate(173.29 202.36 686.99)"/><ellipse cx="204.64" cy="695.31" rx="1.27" ry="0.67" transform="rotate(86.22 204.64 695.31)"/><ellipse cx="198.96" cy="695.7" rx="2.27" ry="1.58" transform="rotate(52.31 198.96 695.7)"/><ellipse cx="200.98" cy="694.72" rx="2.06" ry="1.7" transform="rotate(53.27 200.98 694.72)"/><ellipse cx="198.72" cy="698.35" rx="1.63" ry="0.79" transform="rotate(75.74 198.72 698.35)"/><ellipse cx="197.33" cy="693.99" rx="0.92" ry="0.57" transform="rotate(17.28 197.33 693.99)"/><ellipse cx="200.69" cy="701.63" rx="1.67" ry="1.17" transform="rotate(168.1 200.69 701.63)"/><ellipse cx="195.29" cy="686.54" rx="2.1" ry="0.95" transform="rotate(137.86 195.29 686.54)"/></g>
<g fill="#f6eef4"><ellipse cx="197.51" cy="689" rx="0.72" ry="0.57" transform="rotate(9.56 197.51 689)"/><ellipse cx="200.2" cy="689.33" rx="0.55" ry="0.35" transform="rotate(171.86 200.2 689.33)"/><ellipse cx="203.62" cy="690.19" rx="0.53" ry="0.37" transform="rotate(140.12 203.62 690.19)"/><ellipse cx="200.09" cy="692.24" rx="1.02" ry="0.89" transform="rotate(114.45 200.09 692.24)"/><ellipse cx="204.77" cy="687.92" rx="1.01" ry="0.99" transform="rotate(164.76 204.77 687.92)"/><ellipse cx="204.59" cy="699.4" rx="0.59" ry="0.56" transform="rotate(75.98 204.59 699.4)"/><ellipse cx="197.03" cy="688.11" rx="0.66" ry="0.5" transform="rotate(51.57 197.03 688.11)"/><ellipse cx="203.33" cy="680.96" rx="0.6" ry="0.45" transform="rotate(13.3 203.33 680.96)"/><ellipse cx="199.34" cy="699.54" rx="1.01" ry="0.59" transform="rotate(3.33 199.34 699.54)"/><ellipse cx="202.38" cy="681.27" rx="0.64" ry="0.67" transform="rotate(168.76 202.38 681.27)"/><ellipse cx="200.01" cy="684.4" rx="0.94" ry="0.65" transform="rotate(139.53 200.01 684.4)"/><ellipse cx="196.13" cy="690.44" rx="1.07" ry="0.97" transform="rotate(16.21 196.13 690.44)"/></g>
<polygon points="122,680 132,682 138,690 130,698 122,700" fill="#ffffff" stroke="#ffffff" stroke-width="1.5" stroke-linejoin="round"/>
<polygon points="144,758 152,742 158,744 162,758" fill="#ffffff" stroke="#ffffff" stroke-width="1.5" stroke-linejoin="round"/>
<polygon points="188,740 196,742 195,749 188,748" fill="#ffffff" stroke="#ffffff" stroke-width="1.5" stroke-linejoin="round"/>
<g fill="none" stroke="#ffffff" stroke-linecap="round"><path d="M157 669 C158.33 669.5 161.83 670.33 165 672 C168.17 673.67 172.83 676.17 176 679 C179.17 681.83 182 686.33 184 689 C186 691.67 187.33 694 188 695" stroke-width="4"/><path d="M182 696 C179.83 697.83 172.33 703.67 169 707 C165.67 710.33 163.67 712.83 162 716 C160.33 719.17 160 722.67 159 726 C158 729.33 157 733 156 736 C155 739 153.5 742.67 153 744" stroke-width="2.5"/><path d="M188 699 C187.67 700.33 185.33 704.25 186 707 C186.67 709.75 189.58 712.72 192 715.5 C194.42 718.28 197.83 721.28 200.5 723.7 C203.17 726.12 206.75 728.95 208 730" stroke-width="1.8"/></g>
<polygon points="231.8,676.3 241,671 269,669 293,670 293,725.8 279.3,707.2 264.8,691.7 250.4,685.5 238,683.5" fill="#e0b6dc" stroke="#e0b6dc" stroke-width="2" stroke-linejoin="round" opacity="0.85"/>
<path d="M238.59 705.55l5.45 -4.39M261.03 702.04l8.54 -8.04M266.6 683.94l7.49 -3.72M239.98 696.33l6.03 -7.53M278.99 692.79l6.92 -4.09M280.33 672.18l5.12 -6.15M255.39 688.64l3.13 -2.75M259.34 706.2l8.88 -7.15M264.24 709.51l10.88 -3.73M292.27 686.14l5.03 -1.78M236.54 694.49l8.26 -5.44M255.59 721.51l5.39 -3.44M282.58 676.84l5.61 -3.86M266.43 680.78l4.96 -5.8" stroke="#c04ca4" stroke-width="1.0" opacity="0.55" fill="none"/>
<g fill="#c04ca4"><ellipse cx="237.18" cy="688.43" rx="0.66" ry="0.71" transform="rotate(47.39 237.18 688.43)"/><ellipse cx="248.68" cy="713.51" rx="1.32" ry="0.82" transform="rotate(149.25 248.68 713.51)"/><ellipse cx="270.09" cy="691.07" rx="1.19" ry="0.73" transform="rotate(47.41 270.09 691.07)"/><ellipse cx="285.44" cy="693.91" rx="1.49" ry="0.84" transform="rotate(24.71 285.44 693.91)"/><ellipse cx="266.15" cy="669.55" rx="0.55" ry="0.54" transform="rotate(88.99 266.15 669.55)"/><ellipse cx="267.84" cy="675.67" rx="1.29" ry="1.1" transform="rotate(110.17 267.84 675.67)"/><ellipse cx="273.66" cy="674.27" rx="0.57" ry="0.43" transform="rotate(116.8 273.66 674.27)"/><ellipse cx="286.39" cy="709.95" rx="0.58" ry="0.5" transform="rotate(151.85 286.39 709.95)"/><ellipse cx="239.18" cy="711.86" rx="0.78" ry="0.51" transform="rotate(0.27 239.18 711.86)"/><ellipse cx="278.2" cy="698.29" rx="1.49" ry="1.12" transform="rotate(27.98 278.2 698.29)"/></g>
<polygon points="207,719.6 222.5,734 231.8,758 207,758" fill="#e0b6dc" stroke="#e0b6dc" stroke-width="2" stroke-linejoin="round" opacity="0.85"/>
<path d="M212.37 729.71l8.25 -8.11M209.19 733.15l3.7 -2.78M222.42 744.58l3.7 -3.93M219.18 745.99l6.44 -4M229.62 725.17l5.06 -3.49M220.3 754.17l7.4 -4.07M217.41 749.72l8.01 -7.08M209.67 729.55l6.41 -2.46M213.56 743.77l8.64 -2.92M209.89 749.16l4.48 -4.97M222.67 752.02l5.58 -6.62M231.11 734.35l8.12 -4.08M213.46 735.28l4.42 -4.95M208.6 747.13l6.77 -2.69" stroke="#c04ca4" stroke-width="1.0" opacity="0.55" fill="none"/>
<g fill="#c04ca4"><ellipse cx="208.56" cy="731.17" rx="0.7" ry="0.74" transform="rotate(142.3 208.56 731.17)"/><ellipse cx="229.23" cy="739.04" rx="0.61" ry="0.44" transform="rotate(40.71 229.23 739.04)"/><ellipse cx="207.67" cy="741.29" rx="0.82" ry="0.43" transform="rotate(92.08 207.67 741.29)"/><ellipse cx="218.56" cy="723.55" rx="1.35" ry="0.71" transform="rotate(96.73 218.56 723.55)"/><ellipse cx="220.46" cy="736.4" rx="0.8" ry="0.65" transform="rotate(175.13 220.46 736.4)"/><ellipse cx="217.61" cy="727.64" rx="1.07" ry="1.12" transform="rotate(68.72 217.61 727.64)"/><ellipse cx="222.72" cy="754.88" rx="0.86" ry="0.84" transform="rotate(95.22 222.72 754.88)"/><ellipse cx="230.29" cy="737.49" rx="0.99" ry="1.03" transform="rotate(103.32 230.29 737.49)"/><ellipse cx="219.4" cy="730.51" rx="1.32" ry="0.81" transform="rotate(84.69 219.4 730.51)"/><ellipse cx="225.81" cy="742.83" rx="0.65" ry="0.38" transform="rotate(125.1 225.81 742.83)"/></g>
<polygon points="230.7,713 252,713 274,728 274,758 230.7,758" fill="#e0b6dc" stroke="#e0b6dc" stroke-width="2" stroke-linejoin="round" opacity="0.85"/>
<path d="M262.27 717.62l8.17 -8.76M237.96 717.04l6.54 -3.82M267.82 720.34l6.42 -7.12M255.83 724.33l4.42 -5.23M261.9 718.5l7.75 -6.5M256.32 741.76l7.36 -2.9M270.51 725.69l6.21 -2.44M236.45 731.9l6.96 -2.26M236.25 742.48l9 -4.49M230.75 755.46l6.02 -2.46M259.34 731.94l9.42 -5.08M245.42 745.93l7.16 -3.66M257.3 748.82l4.34 -2.99M230.75 748.59l9.38 -3.94" stroke="#c04ca4" stroke-width="1.0" opacity="0.55" fill="none"/>
<g fill="#c04ca4"><ellipse cx="232.57" cy="737.09" rx="1.03" ry="0.54" transform="rotate(36.46 232.57 737.09)"/><ellipse cx="241.01" cy="750.31" rx="1.22" ry="0.85" transform="rotate(116.05 241.01 750.31)"/><ellipse cx="240.62" cy="725.32" rx="0.51" ry="0.45" transform="rotate(104.65 240.62 725.32)"/><ellipse cx="262.89" cy="735.67" rx="0.98" ry="0.64" transform="rotate(132.36 262.89 735.67)"/><ellipse cx="246.84" cy="739.85" rx="1.33" ry="0.99" transform="rotate(123.51 246.84 739.85)"/><ellipse cx="233.37" cy="724.72" rx="1.42" ry="0.78" transform="rotate(10.23 233.37 724.72)"/><ellipse cx="235.3" cy="733.61" rx="0.98" ry="0.95" transform="rotate(85.79 235.3 733.61)"/><ellipse cx="253.29" cy="714.12" rx="1.37" ry="1.3" transform="rotate(112.23 253.29 714.12)"/><ellipse cx="266.85" cy="740.63" rx="1.29" ry="1.29" transform="rotate(111.12 266.85 740.63)"/><ellipse cx="233.56" cy="728.3" rx="0.61" ry="0.42" transform="rotate(16.06 233.56 728.3)"/></g>
<g fill="#fbf6fa"><ellipse cx="223.37" cy="712.39" rx="2.17" ry="1.52" transform="rotate(29.88 223.37 712.39)"/><ellipse cx="227.67" cy="711.54" rx="1.64" ry="1.22" transform="rotate(73.57 227.67 711.54)"/><ellipse cx="216.73" cy="713.99" rx="2.23" ry="2.01" transform="rotate(154.85 216.73 713.99)"/><ellipse cx="227.57" cy="717.16" rx="2.39" ry="2.5" transform="rotate(142.75 227.57 717.16)"/><ellipse cx="223.17" cy="716.1" rx="2.05" ry="2.1" transform="rotate(128.45 223.17 716.1)"/><ellipse cx="223.62" cy="711.26" rx="1.52" ry="0.93" transform="rotate(122.74 223.62 711.26)"/><ellipse cx="228.99" cy="711.28" rx="1.85" ry="1.85" transform="rotate(65.81 228.99 711.28)"/><ellipse cx="217.86" cy="715.54" rx="1.58" ry="0.86" transform="rotate(51.84 217.86 715.54)"/></g>
<g fill="#f6eef4"><ellipse cx="223.32" cy="710.38" rx="0.5" ry="0.41" transform="rotate(172.4 223.32 710.38)"/><ellipse cx="230.06" cy="712.66" rx="1.12" ry="0.56" transform="rotate(27.08 230.06 712.66)"/><ellipse cx="226.23" cy="717.1" rx="0.82" ry="0.8" transform="rotate(81.23 226.23 717.1)"/><ellipse cx="231.46" cy="715.56" rx="0.86" ry="0.48" transform="rotate(76.77 231.46 715.56)"/><ellipse cx="223.57" cy="717.77" rx="0.65" ry="0.42" transform="rotate(146.99 223.57 717.77)"/><ellipse cx="217.47" cy="714.83" rx="0.65" ry="0.57" transform="rotate(106.99 217.47 714.83)"/><ellipse cx="217.86" cy="716.82" rx="0.77" ry="0.51" transform="rotate(154.18 217.86 716.82)"/><ellipse cx="229.15" cy="712.49" rx="0.95" ry="0.51" transform="rotate(93.4 229.15 712.49)"/><ellipse cx="217.66" cy="715.9" rx="1.11" ry="0.96" transform="rotate(7.32 217.66 715.9)"/></g>
<g fill="#fbf6fa"><ellipse cx="255.99" cy="738.49" rx="1.89" ry="1.03" transform="rotate(50.08 255.99 738.49)"/><ellipse cx="253.63" cy="725.35" rx="2.35" ry="1.43" transform="rotate(52.25 253.63 725.35)"/><ellipse cx="240.36" cy="732.99" rx="2.86" ry="1.83" transform="rotate(17.27 240.36 732.99)"/><ellipse cx="249.79" cy="754.19" rx="1.18" ry="0.79" transform="rotate(37.62 249.79 754.19)"/><ellipse cx="262.23" cy="738.23" rx="1.2" ry="1.21" transform="rotate(59.06 262.23 738.23)"/><ellipse cx="262.38" cy="737.94" rx="2.74" ry="1.34" transform="rotate(41.05 262.38 737.94)"/><ellipse cx="247.57" cy="731.72" rx="2.64" ry="2.05" transform="rotate(62.41 247.57 731.72)"/><ellipse cx="255.75" cy="750.91" rx="2.14" ry="1.59" transform="rotate(118.23 255.75 750.91)"/><ellipse cx="259.76" cy="736.38" rx="1.85" ry="0.99" transform="rotate(79.03 259.76 736.38)"/><ellipse cx="269.52" cy="733.1" rx="1.73" ry="1.46" transform="rotate(106.28 269.52 733.1)"/><ellipse cx="243.49" cy="737.72" rx="2.47" ry="1.18" transform="rotate(19.58 243.49 737.72)"/><ellipse cx="264.95" cy="752.87" rx="1.14" ry="0.57" transform="rotate(112.79 264.95 752.87)"/><ellipse cx="247.53" cy="744.67" rx="1.07" ry="0.8" transform="rotate(29.1 247.53 744.67)"/><ellipse cx="249.29" cy="745.89" rx="2.02" ry="2.03" transform="rotate(151.51 249.29 745.89)"/><ellipse cx="259.92" cy="750.97" rx="1.35" ry="1.03" transform="rotate(57.52 259.92 750.97)"/><ellipse cx="260.12" cy="726.67" rx="2.77" ry="1.91" transform="rotate(141.08 260.12 726.67)"/><ellipse cx="251.44" cy="751.28" rx="2.99" ry="1.6" transform="rotate(134.54 251.44 751.28)"/><ellipse cx="263.91" cy="738.1" rx="1.56" ry="0.88" transform="rotate(74.1 263.91 738.1)"/><ellipse cx="271.48" cy="736.27" rx="1.51" ry="1.29" transform="rotate(78.73 271.48 736.27)"/><ellipse cx="259.7" cy="738" rx="1.57" ry="0.74" transform="rotate(147.3 259.7 738)"/><ellipse cx="261.38" cy="731.04" rx="2" ry="1.65" transform="rotate(90.64 261.38 731.04)"/><ellipse cx="270.33" cy="748.69" rx="1.61" ry="1.08" transform="rotate(110.12 270.33 748.69)"/></g>
<g fill="#f6eef4"><ellipse cx="238.68" cy="739.48" rx="0.73" ry="0.58" transform="rotate(8.21 238.68 739.48)"/><ellipse cx="266.16" cy="730.29" rx="0.89" ry="0.42" transform="rotate(21.96 266.16 730.29)"/><ellipse cx="248.54" cy="731.17" rx="0.56" ry="0.29" transform="rotate(179.16 248.54 731.17)"/><ellipse cx="264.39" cy="753.37" rx="1.21" ry="1.16" transform="rotate(45.9 264.39 753.37)"/><ellipse cx="243.26" cy="731.91" rx="0.56" ry="0.31" transform="rotate(129.58 243.26 731.91)"/><ellipse cx="255.17" cy="723.35" rx="0.76" ry="0.76" transform="rotate(153.17 255.17 723.35)"/><ellipse cx="263.99" cy="747.14" rx="1.27" ry="1.04" transform="rotate(69 263.99 747.14)"/><ellipse cx="258.21" cy="732.32" rx="0.53" ry="0.33" transform="rotate(82.37 258.21 732.32)"/><ellipse cx="246.15" cy="735.15" rx="1.31" ry="1.01" transform="rotate(150.65 246.15 735.15)"/><ellipse cx="264.54" cy="742.55" rx="0.77" ry="0.55" transform="rotate(57.09 264.54 742.55)"/><ellipse cx="260.47" cy="751.22" rx="1.17" ry="0.75" transform="rotate(26.92 260.47 751.22)"/><ellipse cx="237.33" cy="742.29" rx="0.69" ry="0.31" transform="rotate(54.37 237.33 742.29)"/><ellipse cx="245.45" cy="729.77" rx="1.06" ry="0.88" transform="rotate(50.71 245.45 729.77)"/><ellipse cx="264.03" cy="729.81" rx="1.28" ry="0.68" transform="rotate(106.56 264.03 729.81)"/><ellipse cx="263.08" cy="747.17" rx="0.91" ry="0.93" transform="rotate(113.25 263.08 747.17)"/><ellipse cx="262.56" cy="725.61" rx="0.66" ry="0.5" transform="rotate(98.15 262.56 725.61)"/><ellipse cx="240.52" cy="747.48" rx="0.79" ry="0.6" transform="rotate(93.96 240.52 747.48)"/><ellipse cx="268.04" cy="732.97" rx="0.98" ry="0.82" transform="rotate(117.97 268.04 732.97)"/><ellipse cx="248.55" cy="732.21" rx="0.9" ry="0.76" transform="rotate(116.04 248.55 732.21)"/><ellipse cx="241.95" cy="737.72" rx="0.98" ry="0.56" transform="rotate(18.39 241.95 737.72)"/><ellipse cx="255.45" cy="732.72" rx="0.53" ry="0.33" transform="rotate(29.06 255.45 732.72)"/><ellipse cx="251.81" cy="753.02" rx="0.57" ry="0.39" transform="rotate(125.09 251.81 753.02)"/><ellipse cx="260.12" cy="723.69" rx="0.69" ry="0.44" transform="rotate(161.09 260.12 723.69)"/><ellipse cx="253.36" cy="731.5" rx="0.91" ry="0.7" transform="rotate(26.9 253.36 731.5)"/><ellipse cx="261.68" cy="746.79" rx="0.91" ry="0.72" transform="rotate(138.7 261.68 746.79)"/><ellipse cx="272.38" cy="743.22" rx="0.54" ry="0.42" transform="rotate(119.21 272.38 743.22)"/></g>
<g fill="#fbf6fa"><ellipse cx="262.22" cy="693.53" rx="1.46" ry="1.24" transform="rotate(110.55 262.22 693.53)"/><ellipse cx="277.82" cy="700.76" rx="2.07" ry="1.89" transform="rotate(126.75 277.82 700.76)"/><ellipse cx="257.61" cy="691.42" rx="1.92" ry="0.94" transform="rotate(135.77 257.61 691.42)"/><ellipse cx="257.43" cy="687.76" rx="1.74" ry="1.6" transform="rotate(137.75 257.43 687.76)"/><ellipse cx="268.53" cy="701.19" rx="1.6" ry="1.31" transform="rotate(178.48 268.53 701.19)"/><ellipse cx="261.89" cy="694.42" rx="2.52" ry="1.27" transform="rotate(139.89 261.89 694.42)"/><ellipse cx="276.99" cy="689.19" rx="2.22" ry="2.24" transform="rotate(26.39 276.99 689.19)"/><ellipse cx="269.38" cy="691.46" rx="2.06" ry="2.21" transform="rotate(144.52 269.38 691.46)"/><ellipse cx="266.61" cy="700.4" rx="2.5" ry="2.36" transform="rotate(60.05 266.61 700.4)"/><ellipse cx="282.41" cy="688.95" rx="2" ry="1.73" transform="rotate(155.75 282.41 688.95)"/><ellipse cx="269.7" cy="687.81" rx="1.98" ry="1.62" transform="rotate(8.84 269.7 687.81)"/><ellipse cx="291.13" cy="682.56" rx="1.7" ry="0.81" transform="rotate(34.26 291.13 682.56)"/><ellipse cx="289.72" cy="681.32" rx="1.34" ry="1.31" transform="rotate(43.45 289.72 681.32)"/><ellipse cx="277.7" cy="690.05" rx="2.41" ry="1.83" transform="rotate(59.16 277.7 690.05)"/><ellipse cx="258.92" cy="683.91" rx="0.8" ry="0.42" transform="rotate(26.78 258.92 683.91)"/><ellipse cx="261.47" cy="696.05" rx="2.5" ry="1.7" transform="rotate(44.97 261.47 696.05)"/><ellipse cx="260.49" cy="691.87" rx="1.66" ry="0.87" transform="rotate(94.28 260.49 691.87)"/><ellipse cx="259.37" cy="677.32" rx="2.21" ry="1.15" transform="rotate(79.08 259.37 677.32)"/></g>
<g fill="#f6eef4"><ellipse cx="282.23" cy="689.28" rx="1.09" ry="0.71" transform="rotate(170.34 282.23 689.28)"/><ellipse cx="279.95" cy="695.12" rx="1.04" ry="0.47" transform="rotate(55.24 279.95 695.12)"/><ellipse cx="268.42" cy="700.28" rx="1.11" ry="0.61" transform="rotate(177.72 268.42 700.28)"/><ellipse cx="272.5" cy="682.14" rx="0.56" ry="0.4" transform="rotate(93.71 272.5 682.14)"/><ellipse cx="267.86" cy="682.31" rx="1.14" ry="0.86" transform="rotate(55.38 267.86 682.31)"/><ellipse cx="282.77" cy="680.33" rx="0.78" ry="0.41" transform="rotate(42.85 282.77 680.33)"/><ellipse cx="271.09" cy="693.2" rx="0.95" ry="0.75" transform="rotate(66.01 271.09 693.2)"/><ellipse cx="252.56" cy="685.16" rx="0.51" ry="0.45" transform="rotate(60.71 252.56 685.16)"/><ellipse cx="257.74" cy="682.41" rx="0.83" ry="0.49" transform="rotate(153.43 257.74 682.41)"/><ellipse cx="269.21" cy="675.06" rx="0.56" ry="0.57" transform="rotate(104.07 269.21 675.06)"/><ellipse cx="260.4" cy="694.39" rx="0.53" ry="0.55" transform="rotate(168.57 260.4 694.39)"/><ellipse cx="277.56" cy="674.51" rx="0.79" ry="0.78" transform="rotate(106.82 277.56 674.51)"/><ellipse cx="256.61" cy="680.03" rx="0.54" ry="0.43" transform="rotate(32.65 256.61 680.03)"/><ellipse cx="267.49" cy="699.87" rx="1.1" ry="0.85" transform="rotate(141.11 267.49 699.87)"/><ellipse cx="286.81" cy="687.48" rx="1.09" ry="0.7" transform="rotate(176.48 286.81 687.48)"/><ellipse cx="261.85" cy="700.73" rx="1.06" ry="1.12" transform="rotate(130.85 261.85 700.73)"/><ellipse cx="250.37" cy="681.39" rx="0.94" ry="0.98" transform="rotate(122.56 250.37 681.39)"/><ellipse cx="248.8" cy="683.43" rx="0.73" ry="0.41" transform="rotate(40.5 248.8 683.43)"/><ellipse cx="270.74" cy="684.18" rx="0.68" ry="0.49" transform="rotate(170.5 270.74 684.18)"/><ellipse cx="274.45" cy="695.56" rx="1.12" ry="0.53" transform="rotate(158.48 274.45 695.56)"/><ellipse cx="281.01" cy="695.59" rx="0.91" ry="0.69" transform="rotate(129.99 281.01 695.59)"/></g>
<polygon points="209,679 217.3,678.3 218.4,683.5 213.2,685.5 215.3,697 209,699 207,688.6" fill="#ffffff" stroke="#ffffff" stroke-width="1.5" stroke-linejoin="round"/>
<polygon points="207,674 210,674 210,701 207,701" fill="#ffffff" stroke="#ffffff" stroke-width="1.5" stroke-linejoin="round"/>
<polygon points="232.8,698 252.4,693.8 253.4,699 246.2,705.2 240,711.4 237,721.7 234.9,732 227.6,739.2 224.5,739.2 232.8,732 235.9,719.6 238,709.3 233.8,702" fill="#ffffff" stroke="#ffffff" stroke-width="1.5" stroke-linejoin="round"/>
<polygon points="274,735 293,735 293,758 269,758" fill="#ffffff" stroke="#ffffff" stroke-width="1.5" stroke-linejoin="round"/>
<g fill="none" stroke="#ffffff" stroke-linecap="round"></g>
<polygon points="293,669 308.5,669 305.4,681.4 293,686.6" fill="#e0b6dc" stroke="#e0b6dc" stroke-width="2" stroke-linejoin="round" opacity="0.85"/>
<path d="M299.63 672.42l3.87 -4.26M293.57 685.75l8.94 -7.39M299.39 673.91l8.43 -5.83M295.64 684.56l7.35 -8.75M300.12 672.89l7.06 -5.76M297.62 674.32l7.32 -4.99M300.56 680.98l7.36 -2.54M299.8 682.93l9.89 -5.76M302.14 682.9l6.87 -6.85M299.46 671.76l3.68 -1.95M298.1 673.48l2.66 -3.26M303.41 675.3l6.59 -3.55M307.07 681.34l5.49 -1.74M295.85 679.22l6.83 -6.09" stroke="#c04ca4" stroke-width="1.0" opacity="0.55" fill="none"/>
<g fill="#c04ca4"><ellipse cx="306.78" cy="679.74" rx="1.28" ry="0.69" transform="rotate(149.81 306.78 679.74)"/><ellipse cx="297.45" cy="679.88" rx="1.31" ry="0.86" transform="rotate(47.74 297.45 679.88)"/><ellipse cx="303.19" cy="677.29" rx="1.12" ry="0.98" transform="rotate(47.18 303.19 677.29)"/><ellipse cx="302.02" cy="679.54" rx="1.58" ry="1.35" transform="rotate(153.54 302.02 679.54)"/><ellipse cx="308.3" cy="677.74" rx="0.96" ry="0.73" transform="rotate(66.9 308.3 677.74)"/><ellipse cx="304.78" cy="679.12" rx="0.63" ry="0.68" transform="rotate(94.76 304.78 679.12)"/><ellipse cx="304.61" cy="678.63" rx="1.15" ry="0.95" transform="rotate(20.64 304.61 678.63)"/><ellipse cx="295.03" cy="681.86" rx="0.88" ry="0.47" transform="rotate(146.79 295.03 681.86)"/><ellipse cx="304.59" cy="682.44" rx="0.93" ry="0.5" transform="rotate(136.72 304.59 682.44)"/><ellipse cx="296.34" cy="680.76" rx="1.27" ry="0.79" transform="rotate(0.39 296.34 680.76)"/></g>
<polygon points="342.6,669 379,669 379,702 353,698" fill="#e0b6dc" stroke="#e0b6dc" stroke-width="2" stroke-linejoin="round" opacity="0.85"/>
<path d="M364.09 695.08l8.29 -2.65M350.92 693.13l6.37 -3.92M353.6 676.6l7.21 -4.28M375.71 688.93l6.98 -3.9M365.46 682.46l5.41 -2.89M356.68 670.23l4.15 -3.39M367.59 690.65l7.26 -3.16M354.48 680.58l8.82 -4.73M358.1 698.35l3.53 -2.3M373.84 698.01l5.07 -2.24M362 699.86l5.81 -3.18M365.96 701.69l5.28 -4.15M347.14 691.56l4.22 -1.74M347.92 675.29l9.57 -6.56" stroke="#c04ca4" stroke-width="1.0" opacity="0.55" fill="none"/>
<g fill="#c04ca4"><ellipse cx="370.07" cy="680.41" rx="0.77" ry="0.53" transform="rotate(176.9 370.07 680.41)"/><ellipse cx="374.74" cy="691.46" rx="0.79" ry="0.73" transform="rotate(162.91 374.74 691.46)"/><ellipse cx="364.18" cy="676.26" rx="1.17" ry="1.25" transform="rotate(106.34 364.18 676.26)"/><ellipse cx="348.04" cy="675.68" rx="1.19" ry="0.57" transform="rotate(0.24 348.04 675.68)"/><ellipse cx="356.22" cy="677.49" rx="1.04" ry="0.52" transform="rotate(100.74 356.22 677.49)"/><ellipse cx="367.19" cy="679.46" rx="1.14" ry="0.9" transform="rotate(142.05 367.19 679.46)"/><ellipse cx="363.58" cy="690.06" rx="1.12" ry="1.1" transform="rotate(17.37 363.58 690.06)"/><ellipse cx="375.15" cy="689.1" rx="1.44" ry="1.31" transform="rotate(67.72 375.15 689.1)"/><ellipse cx="346.74" cy="694.24" rx="1.28" ry="0.97" transform="rotate(48.75 346.74 694.24)"/><ellipse cx="355.86" cy="699.89" rx="1.01" ry="0.59" transform="rotate(177.54 355.86 699.89)"/></g>
<polygon points="293,732 306.4,732 313.6,746.5 307.5,758 293,758" fill="#e0b6dc" stroke="#e0b6dc" stroke-width="2" stroke-linejoin="round" opacity="0.85"/>
<path d="M313.15 736.6l4.99 -2.49M300.97 744.32l7.02 -6.36M305.24 737.31l4.85 -3.13M301.81 755.26l4.83 -1.77M298.39 740.92l3.68 -3.16M313.2 741.41l10.16 -3.3M307.33 736.79l5.19 -5.34M298.14 740.71l4.69 -2.52M303.77 739.56l4.14 -4.39M295.36 743.41l3.83 -2.55M298.26 752.08l5.68 -2.31M312.47 756.17l5.48 -1.96M302.72 755l6.47 -4.2M298.33 751.69l6.47 -2.51" stroke="#c04ca4" stroke-width="1.0" opacity="0.55" fill="none"/>
<g fill="#c04ca4"><ellipse cx="307.57" cy="743.15" rx="0.53" ry="0.33" transform="rotate(75.1 307.57 743.15)"/><ellipse cx="300.63" cy="747.15" rx="0.51" ry="0.38" transform="rotate(160.65 300.63 747.15)"/><ellipse cx="312.63" cy="749.91" rx="1.26" ry="1.06" transform="rotate(179.87 312.63 749.91)"/><ellipse cx="309.28" cy="743.97" rx="1.05" ry="1.11" transform="rotate(99.32 309.28 743.97)"/><ellipse cx="305.32" cy="740" rx="1.23" ry="0.94" transform="rotate(169.82 305.32 740)"/><ellipse cx="294.5" cy="740.82" rx="1.41" ry="1.15" transform="rotate(46.22 294.5 740.82)"/><ellipse cx="295.07" cy="738.5" rx="0.64" ry="0.35" transform="rotate(134.08 295.07 738.5)"/><ellipse cx="296.98" cy="736.34" rx="1.18" ry="0.63" transform="rotate(150.01 296.98 736.34)"/><ellipse cx="306.39" cy="754.82" rx="1.3" ry="1.2" transform="rotate(48.13 306.39 754.82)"/><ellipse cx="301.71" cy="741.88" rx="0.93" ry="0.97" transform="rotate(78.49 301.71 741.88)"/></g>
<polygon points="332,748 344.6,748 344.6,758 332,758" fill="#e0b6dc" stroke="#e0b6dc" stroke-width="2" stroke-linejoin="round" opacity="0.85"/>
<path d="M342.07 754.31l3.33 -3.26M339.28 755.89l4.29 -4M336.75 752.59l6.93 -2.49M339.66 750.78l5.59 -3.79M334.02 751.92l3.95 -2.19M342.93 756.99l6.88 -5.45M339.06 753.56l4.54 -2.95M338.26 749.97l6.95 -2.93M340.08 751.29l5.12 -2.95M338.96 750.98l6.16 -4.74M339.9 756.78l5.85 -3.81M339.08 754.67l4.34 -4.06M343.62 749.45l6.95 -6.4M338.19 752.51l4.14 -4.22" stroke="#c04ca4" stroke-width="1.0" opacity="0.55" fill="none"/>
<g fill="#c04ca4"><ellipse cx="333.8" cy="755.39" rx="0.91" ry="0.52" transform="rotate(139.74 333.8 755.39)"/><ellipse cx="340.91" cy="751.96" rx="1.6" ry="1.34" transform="rotate(161.08 340.91 751.96)"/><ellipse cx="340.36" cy="749.32" rx="0.99" ry="0.9" transform="rotate(27.53 340.36 749.32)"/><ellipse cx="343.64" cy="754.51" rx="0.57" ry="0.52" transform="rotate(177.99 343.64 754.51)"/><ellipse cx="341.86" cy="755.15" rx="0.98" ry="0.85" transform="rotate(166.75 341.86 755.15)"/><ellipse cx="338.29" cy="748.75" rx="0.66" ry="0.71" transform="rotate(127.71 338.29 748.75)"/><ellipse cx="333.33" cy="754.83" rx="0.97" ry="0.73" transform="rotate(41.88 333.33 754.83)"/><ellipse cx="341.62" cy="755.81" rx="1.3" ry="0.95" transform="rotate(88.35 341.62 755.81)"/><ellipse cx="336.98" cy="752.65" rx="0.86" ry="0.65" transform="rotate(173.21 336.98 752.65)"/><ellipse cx="342.1" cy="749.35" rx="1.24" ry="1.22" transform="rotate(62.06 342.1 749.35)"/></g>
<g fill="#fbf6fa"><ellipse cx="294.09" cy="709.29" rx="1.76" ry="1.33" transform="rotate(98.7 294.09 709.29)"/><ellipse cx="306.32" cy="709.48" rx="2.78" ry="1.7" transform="rotate(143.44 306.32 709.48)"/><ellipse cx="299.07" cy="694.64" rx="2.61" ry="2.15" transform="rotate(40.58 299.07 694.64)"/><ellipse cx="306.85" cy="704.87" rx="2.35" ry="2.56" transform="rotate(58.83 306.85 704.87)"/><ellipse cx="301.43" cy="706.69" rx="1.57" ry="1.25" transform="rotate(173.88 301.43 706.69)"/><ellipse cx="303.81" cy="697.38" rx="2.37" ry="2.01" transform="rotate(66.37 303.81 697.38)"/><ellipse cx="303.4" cy="701.04" rx="2.56" ry="1.8" transform="rotate(148.34 303.4 701.04)"/><ellipse cx="297.61" cy="694.29" rx="1.66" ry="0.88" transform="rotate(157.49 297.61 694.29)"/><ellipse cx="296.72" cy="717.79" rx="2.7" ry="1.65" transform="rotate(55 296.72 717.79)"/><ellipse cx="300.71" cy="692.97" rx="1.42" ry="1.01" transform="rotate(21.5 300.71 692.97)"/><ellipse cx="295.24" cy="708.62" rx="1.6" ry="1.67" transform="rotate(173.06 295.24 708.62)"/><ellipse cx="303.39" cy="697.7" rx="2.52" ry="1.69" transform="rotate(156.59 303.39 697.7)"/><ellipse cx="299.57" cy="711.5" rx="2.5" ry="2.27" transform="rotate(135.47 299.57 711.5)"/><ellipse cx="298.31" cy="693.62" rx="1.74" ry="1.86" transform="rotate(6.63 298.31 693.62)"/></g>
<g fill="#f6eef4"><ellipse cx="297.37" cy="698.84" rx="0.87" ry="0.89" transform="rotate(30.94 297.37 698.84)"/><ellipse cx="298.27" cy="712.65" rx="0.88" ry="0.77" transform="rotate(92.3 298.27 712.65)"/><ellipse cx="298.59" cy="702.09" rx="0.53" ry="0.57" transform="rotate(131.87 298.59 702.09)"/><ellipse cx="305.14" cy="705.4" rx="1.14" ry="1.07" transform="rotate(26.19 305.14 705.4)"/><ellipse cx="305.75" cy="695.26" rx="0.62" ry="0.58" transform="rotate(146.73 305.75 695.26)"/><ellipse cx="297.69" cy="701.36" rx="1.12" ry="0.72" transform="rotate(80.06 297.69 701.36)"/><ellipse cx="296.07" cy="703.08" rx="0.65" ry="0.68" transform="rotate(102.77 296.07 703.08)"/><ellipse cx="306.05" cy="704.87" rx="0.92" ry="0.99" transform="rotate(22.51 306.05 704.87)"/><ellipse cx="296.5" cy="716.95" rx="1" ry="0.96" transform="rotate(179.11 296.5 716.95)"/><ellipse cx="304.97" cy="708.79" rx="1.14" ry="0.91" transform="rotate(39.43 304.97 708.79)"/><ellipse cx="298.04" cy="719.21" rx="0.95" ry="0.45" transform="rotate(115.48 298.04 719.21)"/><ellipse cx="300.63" cy="703.69" rx="1.04" ry="0.88" transform="rotate(87.9 300.63 703.69)"/><ellipse cx="305.12" cy="712.61" rx="1.11" ry="0.64" transform="rotate(88.3 305.12 712.61)"/><ellipse cx="297.13" cy="695.38" rx="1.31" ry="0.78" transform="rotate(146.7 297.13 695.38)"/><ellipse cx="305.93" cy="702" rx="0.52" ry="0.29" transform="rotate(116.17 305.93 702)"/><ellipse cx="303.99" cy="700.35" rx="1.01" ry="0.56" transform="rotate(118.41 303.99 700.35)"/></g>
<g fill="#fbf6fa"><ellipse cx="339.89" cy="731.76" rx="2.55" ry="2.1" transform="rotate(0.37 339.89 731.76)"/><ellipse cx="328.75" cy="716.97" rx="1.37" ry="0.68" transform="rotate(172.32 328.75 716.97)"/><ellipse cx="337.76" cy="723.1" rx="2.85" ry="2.9" transform="rotate(114.29 337.76 723.1)"/><ellipse cx="332.22" cy="716.42" rx="3.53" ry="3.78" transform="rotate(27.34 332.22 716.42)"/><ellipse cx="340.68" cy="726.26" rx="2.02" ry="1.83" transform="rotate(49.43 340.68 726.26)"/><ellipse cx="339.1" cy="722.97" rx="2.6" ry="1.27" transform="rotate(162.58 339.1 722.97)"/><ellipse cx="329.34" cy="729.4" rx="1.48" ry="1.19" transform="rotate(62.17 329.34 729.4)"/><ellipse cx="333.18" cy="712.38" rx="1.37" ry="1" transform="rotate(42.75 333.18 712.38)"/><ellipse cx="326.78" cy="714.03" rx="1.5" ry="0.7" transform="rotate(175.28 326.78 714.03)"/><ellipse cx="332.07" cy="705.74" rx="2.23" ry="1.74" transform="rotate(10.02 332.07 705.74)"/><ellipse cx="334.72" cy="701.29" rx="1.92" ry="1.75" transform="rotate(152.01 334.72 701.29)"/><ellipse cx="326.84" cy="716.98" rx="3.47" ry="2.27" transform="rotate(21.23 326.84 716.98)"/><ellipse cx="328.33" cy="735.02" rx="2.03" ry="1.79" transform="rotate(168.8 328.33 735.02)"/><ellipse cx="336.43" cy="708.76" rx="2.35" ry="1.56" transform="rotate(86.29 336.43 708.76)"/><ellipse cx="336.29" cy="739.36" rx="2.85" ry="2.23" transform="rotate(145.98 336.29 739.36)"/><ellipse cx="333.95" cy="708.59" rx="2.81" ry="1.76" transform="rotate(38.21 333.95 708.59)"/><ellipse cx="331.4" cy="720.05" rx="1.28" ry="0.87" transform="rotate(172.98 331.4 720.05)"/><ellipse cx="334.01" cy="715.46" rx="2.3" ry="2.08" transform="rotate(90.51 334.01 715.46)"/><ellipse cx="331.75" cy="723.82" rx="1.86" ry="1.66" transform="rotate(76.31 331.75 723.82)"/><ellipse cx="338.24" cy="714.68" rx="2.73" ry="1.58" transform="rotate(87.33 338.24 714.68)"/></g>
<g fill="#f6eef4"><ellipse cx="333.63" cy="701.6" rx="0.64" ry="0.48" transform="rotate(137.73 333.63 701.6)"/><ellipse cx="340.53" cy="734.17" rx="1.4" ry="1.51" transform="rotate(35.23 340.53 734.17)"/><ellipse cx="340.12" cy="708.45" rx="0.85" ry="0.46" transform="rotate(163.59 340.12 708.45)"/><ellipse cx="327.52" cy="710.25" rx="1.17" ry="1.06" transform="rotate(6.92 327.52 710.25)"/><ellipse cx="335.53" cy="721.83" rx="1.12" ry="0.88" transform="rotate(143.58 335.53 721.83)"/><ellipse cx="340.77" cy="734.83" rx="0.87" ry="0.42" transform="rotate(84.72 340.77 734.83)"/><ellipse cx="323.57" cy="726.02" rx="1.04" ry="0.97" transform="rotate(149.99 323.57 726.02)"/><ellipse cx="338.82" cy="728.26" rx="0.87" ry="0.8" transform="rotate(115.09 338.82 728.26)"/><ellipse cx="327.73" cy="735.15" rx="1.03" ry="0.82" transform="rotate(35.57 327.73 735.15)"/><ellipse cx="340.95" cy="719.62" rx="1.33" ry="1.33" transform="rotate(93.43 340.95 719.62)"/><ellipse cx="335.64" cy="719.21" rx="0.77" ry="0.74" transform="rotate(165.72 335.64 719.21)"/><ellipse cx="333.15" cy="704.14" rx="0.99" ry="0.67" transform="rotate(43.36 333.15 704.14)"/><ellipse cx="339.75" cy="723.86" rx="1.53" ry="0.88" transform="rotate(68.49 339.75 723.86)"/><ellipse cx="336.33" cy="731.37" rx="0.98" ry="0.56" transform="rotate(69.41 336.33 731.37)"/><ellipse cx="335.27" cy="739.01" rx="1.23" ry="1.23" transform="rotate(150.08 335.27 739.01)"/><ellipse cx="332.26" cy="720.89" rx="1.43" ry="1.32" transform="rotate(71.94 332.26 720.89)"/><ellipse cx="327.08" cy="729.75" rx="0.83" ry="0.51" transform="rotate(45.16 327.08 729.75)"/><ellipse cx="337.83" cy="726.41" rx="1.55" ry="1.29" transform="rotate(87.03 337.83 726.41)"/><ellipse cx="335.72" cy="739.8" rx="0.87" ry="0.48" transform="rotate(20.48 335.72 739.8)"/><ellipse cx="331.91" cy="733.25" rx="1.44" ry="0.67" transform="rotate(55.18 331.91 733.25)"/><ellipse cx="328.7" cy="711.37" rx="0.53" ry="0.33" transform="rotate(61.17 328.7 711.37)"/><ellipse cx="332.77" cy="721.87" rx="1.6" ry="0.83" transform="rotate(24.15 332.77 721.87)"/><ellipse cx="342.51" cy="712.31" rx="1.1" ry="0.72" transform="rotate(161.16 342.51 712.31)"/><ellipse cx="343.18" cy="723.41" rx="0.61" ry="0.42" transform="rotate(126.72 343.18 723.41)"/></g>
<g fill="#fbf6fa"><ellipse cx="350.49" cy="732.01" rx="1.72" ry="0.84" transform="rotate(72.64 350.49 732.01)"/><ellipse cx="353.18" cy="733.54" rx="1.81" ry="1.01" transform="rotate(128.28 353.18 733.54)"/><ellipse cx="348.94" cy="733.51" rx="2.21" ry="1.42" transform="rotate(13.97 348.94 733.51)"/><ellipse cx="351.28" cy="738.56" rx="1.27" ry="0.86" transform="rotate(159.48 351.28 738.56)"/><ellipse cx="349.89" cy="733.82" rx="1.37" ry="0.87" transform="rotate(105.66 349.89 733.82)"/></g>
<g fill="#f6eef4"><ellipse cx="354.12" cy="737.47" rx="1.11" ry="0.79" transform="rotate(12.42 354.12 737.47)"/><ellipse cx="348.15" cy="733.24" rx="0.54" ry="0.27" transform="rotate(163.98 348.15 733.24)"/><ellipse cx="346.33" cy="732.31" rx="0.64" ry="0.38" transform="rotate(5.61 346.33 732.31)"/><ellipse cx="349.4" cy="739.09" rx="0.54" ry="0.42" transform="rotate(23.8 349.4 739.09)"/><ellipse cx="352.79" cy="740.93" rx="1.05" ry="0.83" transform="rotate(25.5 352.79 740.93)"/><ellipse cx="352.06" cy="729" rx="0.98" ry="0.63" transform="rotate(160.6 352.06 729)"/></g>
<g fill="#fbf6fa"><ellipse cx="354.69" cy="692.72" rx="1.69" ry="1.02" transform="rotate(88.42 354.69 692.72)"/><ellipse cx="359.64" cy="676.36" rx="1.78" ry="1.42" transform="rotate(125.99 359.64 676.36)"/><ellipse cx="356.55" cy="689.21" rx="1.16" ry="0.91" transform="rotate(43.16 356.55 689.21)"/><ellipse cx="371.72" cy="677.34" rx="1.32" ry="0.66" transform="rotate(53.87 371.72 677.34)"/><ellipse cx="363.4" cy="678.39" rx="1.02" ry="1.05" transform="rotate(55.87 363.4 678.39)"/><ellipse cx="352.34" cy="683.18" rx="2.31" ry="2.16" transform="rotate(162.47 352.34 683.18)"/><ellipse cx="363.55" cy="681.37" rx="1.7" ry="0.83" transform="rotate(122.84 363.55 681.37)"/><ellipse cx="373.23" cy="690.12" rx="2.25" ry="1.44" transform="rotate(101.18 373.23 690.12)"/><ellipse cx="362.42" cy="676.94" rx="2.57" ry="2.19" transform="rotate(38.23 362.42 676.94)"/><ellipse cx="373.75" cy="689.53" rx="1.92" ry="1.96" transform="rotate(56.86 373.75 689.53)"/><ellipse cx="354.44" cy="687.97" rx="1.17" ry="1.05" transform="rotate(85.86 354.44 687.97)"/><ellipse cx="351.81" cy="675.49" rx="1.09" ry="0.9" transform="rotate(164.59 351.81 675.49)"/><ellipse cx="372.1" cy="695.75" rx="1.82" ry="1.77" transform="rotate(59.46 372.1 695.75)"/><ellipse cx="357.51" cy="697.3" rx="1.27" ry="1.08" transform="rotate(102.15 357.51 697.3)"/><ellipse cx="346.77" cy="687.85" rx="2.23" ry="2.3" transform="rotate(75.35 346.77 687.85)"/><ellipse cx="375.83" cy="691.06" rx="2.26" ry="1.67" transform="rotate(105.74 375.83 691.06)"/></g>
<g fill="#f6eef4"><ellipse cx="373.07" cy="678.26" rx="0.62" ry="0.59" transform="rotate(157.69 373.07 678.26)"/><ellipse cx="352.74" cy="687.31" rx="0.84" ry="0.55" transform="rotate(151.75 352.74 687.31)"/><ellipse cx="354.62" cy="693.83" rx="0.78" ry="0.42" transform="rotate(173.17 354.62 693.83)"/><ellipse cx="346" cy="681.82" rx="0.52" ry="0.29" transform="rotate(169.38 346 681.82)"/><ellipse cx="353.65" cy="692.03" rx="0.64" ry="0.29" transform="rotate(1.27 353.65 692.03)"/><ellipse cx="360.53" cy="678.99" rx="0.53" ry="0.46" transform="rotate(56.91 360.53 678.99)"/><ellipse cx="351.13" cy="684.24" rx="0.98" ry="0.66" transform="rotate(101.03 351.13 684.24)"/><ellipse cx="351.41" cy="687.66" rx="0.53" ry="0.55" transform="rotate(167.1 351.41 687.66)"/><ellipse cx="364.58" cy="685.27" rx="0.77" ry="0.72" transform="rotate(104.14 364.58 685.27)"/><ellipse cx="369.13" cy="684.41" rx="0.77" ry="0.71" transform="rotate(32.58 369.13 684.41)"/><ellipse cx="356.63" cy="678.73" rx="0.64" ry="0.65" transform="rotate(56.18 356.63 678.73)"/><ellipse cx="376.43" cy="685.12" rx="1" ry="0.52" transform="rotate(108.64 376.43 685.12)"/><ellipse cx="372.6" cy="680.09" rx="0.56" ry="0.39" transform="rotate(138.47 372.6 680.09)"/><ellipse cx="356.02" cy="697.63" rx="0.69" ry="0.35" transform="rotate(156.3 356.02 697.63)"/><ellipse cx="372.87" cy="684.48" rx="0.97" ry="0.91" transform="rotate(150.61 372.87 684.48)"/><ellipse cx="351.43" cy="692.44" rx="1.12" ry="1.08" transform="rotate(93.97 351.43 692.44)"/><ellipse cx="358.39" cy="699.43" rx="1.17" ry="1.13" transform="rotate(91.16 358.39 699.43)"/><ellipse cx="362.15" cy="675.7" rx="0.91" ry="0.49" transform="rotate(60.26 362.15 675.7)"/><ellipse cx="364.33" cy="686.05" rx="0.93" ry="0.92" transform="rotate(170.72 364.33 686.05)"/></g>
<polygon points="306,732 314,720 312,734 307,740" fill="#ffffff" stroke="#ffffff" stroke-width="1.5" stroke-linejoin="round"/>
<polygon points="355,714.4 365.3,716.5 375.6,721.7 379,740.3 369.4,734 359,725.8 355,721.7" fill="#ffffff" stroke="#ffffff" stroke-width="1.5" stroke-linejoin="round"/>
<g fill="none" stroke="#ffffff" stroke-linecap="round"><path d="M338.4 679.4 C337.37 680.08 334.43 681.62 332.2 683.5 C329.97 685.38 327.07 688.12 325 690.7 C322.93 693.28 321.18 695.9 319.8 699 C318.42 702.1 317.73 705.87 316.7 709.3 C315.67 712.73 315.32 715.82 313.6 719.6 C311.88 723.38 307.6 729.93 306.4 732" stroke-width="2"/><path d="M338.4 679.4 C338.4 680.93 337.88 685.33 338.4 688.6 C338.92 691.87 339.95 695.55 341.5 699 C343.05 702.45 345.45 706.55 347.7 709.3 C349.95 712.05 353.78 714.47 355 715.5" stroke-width="2"/><path d="M330 669 L338.4 679.4" stroke-width="1.5"/></g>
<polygon points="403.8,669 464,669 464,702 433,700 408,680" fill="#e0b6dc" stroke="#e0b6dc" stroke-width="2" stroke-linejoin="round" opacity="0.85"/>
<path d="M422.48 700.49l5.07 -4.19M449.32 701.2l7.35 -3.3M453.52 679.39l8.44 -2.96M405.03 673.1l9.3 -5.84M429.07 695.18l5.17 -5.5M424.87 694.1l7.52 -5.18M404.47 701.89l3.44 -3.1M451.36 699.94l7.44 -5.91M448.74 691.05l7.85 -3.59M437.08 686.76l5.51 -2.55M410.24 672.14l5.81 -6.92M456.46 675.36l5.69 -5.24M432.82 689.34l4.68 -3.03M462.37 673.93l4.07 -4.05" stroke="#c04ca4" stroke-width="1.0" opacity="0.55" fill="none"/>
<g fill="#c04ca4"><ellipse cx="438.65" cy="675.85" rx="1.47" ry="0.77" transform="rotate(115.23 438.65 675.85)"/><ellipse cx="444.28" cy="692.06" rx="0.76" ry="0.42" transform="rotate(113.58 444.28 692.06)"/><ellipse cx="421.49" cy="688.98" rx="1.31" ry="0.62" transform="rotate(130.59 421.49 688.98)"/><ellipse cx="462.73" cy="682.31" rx="1.13" ry="0.75" transform="rotate(158.41 462.73 682.31)"/><ellipse cx="417.19" cy="672.3" rx="1.05" ry="0.78" transform="rotate(102.62 417.19 672.3)"/><ellipse cx="435.98" cy="681.83" rx="1.32" ry="0.63" transform="rotate(165.79 435.98 681.83)"/><ellipse cx="454.03" cy="677.47" rx="1" ry="0.47" transform="rotate(142.69 454.03 677.47)"/><ellipse cx="462.4" cy="688.68" rx="1.58" ry="1.19" transform="rotate(156.26 462.4 688.68)"/><ellipse cx="431.47" cy="685.78" rx="0.54" ry="0.58" transform="rotate(15.85 431.47 685.78)"/><ellipse cx="438.78" cy="688.89" rx="0.69" ry="0.47" transform="rotate(53.99 438.78 688.89)"/></g>
<polygon points="378,730 398.6,738 402.8,758 378,758" fill="#e0b6dc" stroke="#e0b6dc" stroke-width="2" stroke-linejoin="round" opacity="0.85"/>
<path d="M378.23 741.2l6.29 -3.19M395.35 756.54l8.05 -7.45M393.15 749.4l7.07 -7.51M386.24 747.19l6.12 -2.24M388.28 749.82l4.25 -1.61M402.12 757.02l6.2 -2.62M402.38 733l4.03 -2.21M402.51 730.86l9.37 -5.17M389.78 734l6.64 -4.55M383 755.2l6.91 -7.12M393.41 746.75l10.95 -3.52M400.07 731.52l5.09 -5.33M396.62 732.31l9.17 -5.38M393.93 756.46l9.81 -4.87" stroke="#c04ca4" stroke-width="1.0" opacity="0.55" fill="none"/>
<g fill="#c04ca4"><ellipse cx="393.57" cy="745.31" rx="1.07" ry="0.5" transform="rotate(35.28 393.57 745.31)"/><ellipse cx="395.08" cy="741.62" rx="1" ry="1" transform="rotate(69.52 395.08 741.62)"/><ellipse cx="396.05" cy="752.51" rx="1.42" ry="0.85" transform="rotate(109.36 396.05 752.51)"/><ellipse cx="389.58" cy="746.44" rx="0.59" ry="0.34" transform="rotate(44.2 389.58 746.44)"/><ellipse cx="397.45" cy="751.93" rx="0.92" ry="0.78" transform="rotate(79.29 397.45 751.93)"/><ellipse cx="391.32" cy="737.47" rx="0.88" ry="0.94" transform="rotate(159.28 391.32 737.47)"/><ellipse cx="399.45" cy="742.42" rx="1.2" ry="1.01" transform="rotate(108.78 399.45 742.42)"/><ellipse cx="399.34" cy="737.28" rx="0.58" ry="0.38" transform="rotate(92.68 399.34 737.28)"/><ellipse cx="397.9" cy="746.25" rx="1.57" ry="0.9" transform="rotate(68.26 397.9 746.25)"/><ellipse cx="392.23" cy="746.54" rx="1.27" ry="0.99" transform="rotate(18.13 392.23 746.54)"/></g>
<polygon points="438,711.4 450.3,711.4 450.3,758 438,758" fill="#e0b6dc" stroke="#e0b6dc" stroke-width="2" stroke-linejoin="round" opacity="0.85"/>
<path d="M447.62 748.42l4.19 -1.83M438.07 743.29l6.74 -5.93M439.1 723.41l7.53 -4.93M448.01 719.41l6.75 -5.9M438.52 720.12l3.39 -3.52M438.46 756.87l6.21 -2.96M443.19 735.21l5.68 -1.97M440.6 756.13l9.5 -3.81M439.2 757.38l7.85 -4.84M444.98 732.16l11.07 -3.56M449.71 717.99l7.31 -3.8M440.26 752.91l6.78 -7.38M441.65 743.12l10.56 -3.28M441.4 750.36l6.74 -5.48" stroke="#c04ca4" stroke-width="1.0" opacity="0.55" fill="none"/>
<g fill="#c04ca4"><ellipse cx="440.95" cy="716.32" rx="0.54" ry="0.39" transform="rotate(21.77 440.95 716.32)"/><ellipse cx="440.51" cy="726.4" rx="0.65" ry="0.38" transform="rotate(46.13 440.51 726.4)"/><ellipse cx="450" cy="731.16" rx="1.18" ry="0.95" transform="rotate(172.75 450 731.16)"/><ellipse cx="448.72" cy="745.8" rx="1.46" ry="0.97" transform="rotate(109.41 448.72 745.8)"/><ellipse cx="442.07" cy="754.53" rx="0.79" ry="0.87" transform="rotate(42.56 442.07 754.53)"/><ellipse cx="442.18" cy="746" rx="1.13" ry="0.67" transform="rotate(22.88 442.18 746)"/><ellipse cx="448.77" cy="721.06" rx="1.06" ry="1.05" transform="rotate(87.44 448.77 721.06)"/><ellipse cx="443.87" cy="719.04" rx="1.53" ry="1.29" transform="rotate(120.23 443.87 719.04)"/><ellipse cx="442.84" cy="744.56" rx="0.92" ry="0.52" transform="rotate(64.11 442.84 744.56)"/><ellipse cx="447.37" cy="751.65" rx="1.07" ry="0.94" transform="rotate(168.21 447.37 751.65)"/></g>
<g fill="#fbf6fa"><ellipse cx="384.7" cy="719.23" rx="1.4" ry="1.43" transform="rotate(135.15 384.7 719.23)"/><ellipse cx="383.88" cy="713.24" rx="1.27" ry="0.58" transform="rotate(5.62 383.88 713.24)"/><ellipse cx="387.18" cy="710.21" rx="1.96" ry="1.45" transform="rotate(158.16 387.18 710.21)"/><ellipse cx="385.59" cy="709.84" rx="2.02" ry="1.19" transform="rotate(169.74 385.59 709.84)"/><ellipse cx="383.52" cy="706.3" rx="2.57" ry="1.49" transform="rotate(122.11 383.52 706.3)"/><ellipse cx="380.68" cy="706.09" rx="2.27" ry="2.33" transform="rotate(160.56 380.68 706.09)"/></g>
<g fill="#f6eef4"><ellipse cx="384.93" cy="714.02" rx="0.61" ry="0.67" transform="rotate(58.99 384.93 714.02)"/><ellipse cx="384.58" cy="704.4" rx="0.71" ry="0.56" transform="rotate(85.27 384.58 704.4)"/><ellipse cx="382.26" cy="709.97" rx="0.51" ry="0.45" transform="rotate(63.85 382.26 709.97)"/><ellipse cx="379.16" cy="709.75" rx="0.95" ry="0.89" transform="rotate(74.82 379.16 709.75)"/><ellipse cx="379.2" cy="713.77" rx="0.9" ry="0.69" transform="rotate(174.57 379.2 713.77)"/><ellipse cx="381.77" cy="712.15" rx="0.52" ry="0.28" transform="rotate(34.96 381.77 712.15)"/><ellipse cx="379.92" cy="706.72" rx="0.57" ry="0.6" transform="rotate(105.72 379.92 706.72)"/></g>
<g fill="#fbf6fa"><ellipse cx="396.24" cy="723.16" rx="1.57" ry="1.59" transform="rotate(132.45 396.24 723.16)"/><ellipse cx="394.67" cy="714.74" rx="1" ry="0.47" transform="rotate(130.66 394.67 714.74)"/><ellipse cx="384.77" cy="721.41" rx="2.04" ry="1.41" transform="rotate(53.53 384.77 721.41)"/><ellipse cx="402.87" cy="722.78" rx="2.9" ry="2.63" transform="rotate(41.6 402.87 722.78)"/><ellipse cx="386.6" cy="720.48" rx="2.22" ry="1.3" transform="rotate(14.66 386.6 720.48)"/><ellipse cx="392.42" cy="721.54" rx="2.76" ry="2.84" transform="rotate(147.92 392.42 721.54)"/><ellipse cx="390.51" cy="727.24" rx="1.56" ry="1.3" transform="rotate(96.22 390.51 727.24)"/><ellipse cx="389.82" cy="722.84" rx="1.53" ry="1.48" transform="rotate(42.32 389.82 722.84)"/><ellipse cx="403.54" cy="717.34" rx="1.02" ry="0.75" transform="rotate(158.7 403.54 717.34)"/><ellipse cx="399.88" cy="718.34" rx="2.01" ry="1.34" transform="rotate(119.25 399.88 718.34)"/><ellipse cx="391.2" cy="717.02" rx="3" ry="1.42" transform="rotate(24.47 391.2 717.02)"/><ellipse cx="391.98" cy="719.58" rx="2.11" ry="1.63" transform="rotate(27.91 391.98 719.58)"/><ellipse cx="404.74" cy="725.46" rx="1.37" ry="0.76" transform="rotate(20.15 404.74 725.46)"/><ellipse cx="396.78" cy="724.33" rx="2.44" ry="1.48" transform="rotate(155.8 396.78 724.33)"/></g>
<g fill="#f6eef4"><ellipse cx="406.54" cy="721.78" rx="0.6" ry="0.34" transform="rotate(129.52 406.54 721.78)"/><ellipse cx="385.66" cy="724.14" rx="1.11" ry="0.51" transform="rotate(26.48 385.66 724.14)"/><ellipse cx="390.02" cy="721.24" rx="1.22" ry="1.19" transform="rotate(70.05 390.02 721.24)"/><ellipse cx="384.3" cy="722.84" rx="0.67" ry="0.42" transform="rotate(167.73 384.3 722.84)"/><ellipse cx="391.2" cy="720.56" rx="1.07" ry="1.13" transform="rotate(11.01 391.2 720.56)"/><ellipse cx="398.75" cy="724.73" rx="0.61" ry="0.31" transform="rotate(60 398.75 724.73)"/><ellipse cx="392.47" cy="725.3" rx="1.32" ry="1.17" transform="rotate(77.35 392.47 725.3)"/><ellipse cx="395" cy="721.74" rx="0.94" ry="0.49" transform="rotate(115.9 395 721.74)"/><ellipse cx="401.81" cy="721.82" rx="1" ry="1.04" transform="rotate(111.94 401.81 721.82)"/><ellipse cx="401.22" cy="728.18" rx="1.12" ry="0.84" transform="rotate(172.25 401.22 728.18)"/><ellipse cx="405.99" cy="724.42" rx="1.16" ry="0.79" transform="rotate(51.54 405.99 724.42)"/><ellipse cx="388.41" cy="716.3" rx="0.6" ry="0.33" transform="rotate(147.61 388.41 716.3)"/><ellipse cx="397.45" cy="727.79" rx="1.34" ry="0.98" transform="rotate(31.8 397.45 727.79)"/><ellipse cx="396.85" cy="727.58" rx="0.61" ry="0.38" transform="rotate(117.27 396.85 727.58)"/><ellipse cx="402.69" cy="723.05" rx="1.16" ry="0.63" transform="rotate(152.48 402.69 723.05)"/><ellipse cx="397.47" cy="720.38" rx="1.19" ry="0.89" transform="rotate(7.74 397.47 720.38)"/></g>
<g fill="#fbf6fa"><ellipse cx="425.75" cy="738.01" rx="1.66" ry="1.2" transform="rotate(125.73 425.75 738.01)"/><ellipse cx="427.86" cy="741.09" rx="1.37" ry="1.31" transform="rotate(11.73 427.86 741.09)"/><ellipse cx="426.34" cy="749.72" rx="2.01" ry="0.94" transform="rotate(14.84 426.34 749.72)"/><ellipse cx="427.99" cy="751.09" rx="2.01" ry="2.19" transform="rotate(126.04 427.99 751.09)"/><ellipse cx="421.93" cy="755.01" rx="1.38" ry="0.72" transform="rotate(70.26 421.93 755.01)"/><ellipse cx="410.78" cy="746.06" rx="1.85" ry="1.06" transform="rotate(109.9 410.78 746.06)"/><ellipse cx="423.14" cy="749.08" rx="2.26" ry="2.2" transform="rotate(123.04 423.14 749.08)"/><ellipse cx="412.79" cy="746.2" rx="2.07" ry="1.19" transform="rotate(66.89 412.79 746.2)"/><ellipse cx="424.59" cy="739.24" rx="1.13" ry="0.72" transform="rotate(74.51 424.59 739.24)"/><ellipse cx="437.53" cy="744.78" rx="1.99" ry="0.93" transform="rotate(129.71 437.53 744.78)"/><ellipse cx="433.41" cy="740.95" rx="1.98" ry="1.01" transform="rotate(168.73 433.41 740.95)"/><ellipse cx="422" cy="743.54" rx="1.35" ry="1.38" transform="rotate(171.57 422 743.54)"/></g>
<g fill="#f6eef4"><ellipse cx="421.54" cy="745.03" rx="0.69" ry="0.63" transform="rotate(111.51 421.54 745.03)"/><ellipse cx="424.11" cy="755.29" rx="0.52" ry="0.44" transform="rotate(67.7 424.11 755.29)"/><ellipse cx="413.24" cy="739.9" rx="1.15" ry="0.67" transform="rotate(85.45 413.24 739.9)"/><ellipse cx="410.62" cy="746.87" rx="0.92" ry="0.44" transform="rotate(150.86 410.62 746.87)"/><ellipse cx="431.49" cy="746.7" rx="0.66" ry="0.7" transform="rotate(39.69 431.49 746.7)"/><ellipse cx="435.45" cy="745.54" rx="0.91" ry="0.96" transform="rotate(78.76 435.45 745.54)"/><ellipse cx="434.05" cy="750.5" rx="0.64" ry="0.39" transform="rotate(10.44 434.05 750.5)"/><ellipse cx="433.43" cy="751.3" rx="1.16" ry="0.61" transform="rotate(145.87 433.43 751.3)"/><ellipse cx="433.69" cy="736.23" rx="0.99" ry="1.08" transform="rotate(86.88 433.69 736.23)"/><ellipse cx="421.83" cy="753.59" rx="0.93" ry="1.01" transform="rotate(124.41 421.83 753.59)"/><ellipse cx="422.49" cy="734.05" rx="1.1" ry="1.03" transform="rotate(24.98 422.49 734.05)"/><ellipse cx="429.34" cy="739.21" rx="0.79" ry="0.44" transform="rotate(14.89 429.34 739.21)"/><ellipse cx="423.09" cy="749.43" rx="0.98" ry="0.98" transform="rotate(164.23 423.09 749.43)"/><ellipse cx="430.87" cy="738.74" rx="1.02" ry="0.94" transform="rotate(20.85 430.87 738.74)"/></g>
<g fill="#fbf6fa"><ellipse cx="417.64" cy="694.51" rx="2.69" ry="1.95" transform="rotate(95.06 417.64 694.51)"/><ellipse cx="455.63" cy="687.83" rx="1.32" ry="0.76" transform="rotate(13.76 455.63 687.83)"/><ellipse cx="450.87" cy="678.35" rx="0.91" ry="0.89" transform="rotate(56.55 450.87 678.35)"/><ellipse cx="417.47" cy="686.27" rx="1.53" ry="1.21" transform="rotate(82.51 417.47 686.27)"/><ellipse cx="438.3" cy="678.2" rx="1.8" ry="1.93" transform="rotate(37.99 438.3 678.2)"/><ellipse cx="431.44" cy="683.48" rx="1.7" ry="1.14" transform="rotate(113.02 431.44 683.48)"/><ellipse cx="433.03" cy="697.46" rx="0.8" ry="0.72" transform="rotate(66.19 433.03 697.46)"/><ellipse cx="436.29" cy="690.62" rx="1.31" ry="0.65" transform="rotate(115.1 436.29 690.62)"/><ellipse cx="463.3" cy="683.29" rx="2.67" ry="2.09" transform="rotate(122.27 463.3 683.29)"/><ellipse cx="445.05" cy="691.71" rx="2.1" ry="1.88" transform="rotate(128.17 445.05 691.71)"/><ellipse cx="422.12" cy="694.84" rx="2.02" ry="1.57" transform="rotate(113.66 422.12 694.84)"/><ellipse cx="427.3" cy="677.48" rx="2.63" ry="1.55" transform="rotate(64.38 427.3 677.48)"/><ellipse cx="441.12" cy="684.4" rx="0.98" ry="0.62" transform="rotate(137.93 441.12 684.4)"/><ellipse cx="415.7" cy="684" rx="1.02" ry="0.51" transform="rotate(176.11 415.7 684)"/><ellipse cx="432.62" cy="683.63" rx="0.95" ry="0.52" transform="rotate(92.83 432.62 683.63)"/><ellipse cx="430.35" cy="684.82" rx="1.24" ry="1.23" transform="rotate(24.9 430.35 684.82)"/><ellipse cx="425.14" cy="676.18" rx="2.28" ry="2.31" transform="rotate(79.33 425.14 676.18)"/><ellipse cx="426.51" cy="695.75" rx="1" ry="0.95" transform="rotate(57.25 426.51 695.75)"/><ellipse cx="458.84" cy="677.93" rx="2.54" ry="2.55" transform="rotate(56.39 458.84 677.93)"/><ellipse cx="419.44" cy="688.08" rx="0.95" ry="0.78" transform="rotate(55.52 419.44 688.08)"/></g>
<g fill="#f6eef4"><ellipse cx="445.38" cy="673.84" rx="1.02" ry="0.64" transform="rotate(103.6 445.38 673.84)"/><ellipse cx="448.45" cy="675.51" rx="0.75" ry="0.68" transform="rotate(124 448.45 675.51)"/><ellipse cx="429.82" cy="680.43" rx="1.17" ry="0.91" transform="rotate(59.05 429.82 680.43)"/><ellipse cx="416.93" cy="682.99" rx="0.76" ry="0.35" transform="rotate(113.34 416.93 682.99)"/><ellipse cx="457.78" cy="681.97" rx="0.84" ry="0.86" transform="rotate(171.87 457.78 681.97)"/><ellipse cx="418.27" cy="680.78" rx="0.76" ry="0.74" transform="rotate(141.5 418.27 680.78)"/><ellipse cx="453.84" cy="675.15" rx="0.67" ry="0.74" transform="rotate(61.23 453.84 675.15)"/><ellipse cx="441.28" cy="682.54" rx="1.05" ry="0.47" transform="rotate(145.32 441.28 682.54)"/><ellipse cx="458.92" cy="689.76" rx="0.77" ry="0.69" transform="rotate(37.98 458.92 689.76)"/><ellipse cx="451.12" cy="692.57" rx="0.95" ry="0.89" transform="rotate(124.73 451.12 692.57)"/><ellipse cx="451.08" cy="695.38" rx="1.08" ry="1.12" transform="rotate(128.2 451.08 695.38)"/><ellipse cx="456.62" cy="690.39" rx="0.61" ry="0.62" transform="rotate(128.91 456.62 690.39)"/><ellipse cx="420.13" cy="680.28" rx="1.02" ry="0.87" transform="rotate(104.9 420.13 680.28)"/><ellipse cx="455.8" cy="679.59" rx="1.15" ry="1.24" transform="rotate(153.11 455.8 679.59)"/><ellipse cx="432.46" cy="677.61" rx="0.88" ry="0.62" transform="rotate(120.09 432.46 677.61)"/><ellipse cx="412.95" cy="678.91" rx="0.57" ry="0.3" transform="rotate(55.91 412.95 678.91)"/><ellipse cx="438.3" cy="692.36" rx="0.78" ry="0.81" transform="rotate(89.46 438.3 692.36)"/><ellipse cx="461.61" cy="680.03" rx="0.75" ry="0.41" transform="rotate(142.26 461.61 680.03)"/><ellipse cx="441.15" cy="696.64" rx="0.88" ry="0.83" transform="rotate(29.61 441.15 696.64)"/><ellipse cx="431.49" cy="692.41" rx="1.24" ry="0.99" transform="rotate(163.29 431.49 692.41)"/><ellipse cx="431.77" cy="691.15" rx="0.55" ry="0.48" transform="rotate(37.91 431.77 691.15)"/><ellipse cx="448.47" cy="678.63" rx="0.52" ry="0.39" transform="rotate(41.53 448.47 678.63)"/><ellipse cx="436.35" cy="671.18" rx="0.83" ry="0.49" transform="rotate(64.86 436.35 671.18)"/><ellipse cx="442.19" cy="690.97" rx="0.87" ry="0.63" transform="rotate(51.67 442.19 690.97)"/></g>
<polygon points="378,675.2 390.4,678.3 393.5,695.9 378,691.7" fill="#ffffff" stroke="#ffffff" stroke-width="1.5" stroke-linejoin="round"/>
<polygon points="398.6,734 407,734 404,748 400,746" fill="#ffffff" stroke="#ffffff" stroke-width="1.5" stroke-linejoin="round"/>
<g fill="none" stroke="#ffffff" stroke-linecap="round"><path d="M378 692.8 C380.58 693.5 389.2 695.3 393.5 697 C397.8 698.7 400.38 701.3 403.8 703 C407.22 704.7 409.7 706.32 414 707.2 C418.3 708.08 426.65 709.33 429.6 708.3 C432.55 707.27 431.35 702.22 431.7 701" stroke-width="2"/><path d="M431.7 701 C431.52 703.23 431.63 710.62 430.6 714.4 C429.57 718.18 427.73 720.93 425.5 723.7 C423.27 726.47 419.95 729.12 417.2 731 C414.45 732.88 411.4 733.45 409 735 C406.6 736.55 403.83 736.47 402.8 740.3 C401.77 744.13 402.8 755.05 402.8 758" stroke-width="2.5"/><path d="M431.7 701 C433.75 701.33 439.87 701.62 444 703 C448.13 704.38 453.17 707.57 456.5 709.3 C459.83 711.03 462.75 712.72 464 713.4" stroke-width="1.5"/></g>
<polygon points="477.4,669 511.5,669 513.6,688.6 500,680.4 484.6,674.2" fill="#e0b6dc" stroke="#e0b6dc" stroke-width="2" stroke-linejoin="round" opacity="0.85"/>
<path d="M499.43 683.52l4.02 -4.34M502.86 674.23l8.48 -5.4M480.76 675.73l10.56 -4.46M501.02 688.53l10.86 -4.97M509 678.8l8.32 -7.42M511.55 688.23l10.01 -3.36M502.07 682.32l4.37 -2.19M480.55 686.64l9.72 -3.82M504.18 674.45l7.24 -5.02M509.13 680.71l6.49 -3.29M505.61 681.45l6.11 -3.34M498.05 671.08l4.24 -4.48M495.95 671.2l8.65 -5.25M482.37 682.78l6.55 -7.93" stroke="#c04ca4" stroke-width="1.0" opacity="0.55" fill="none"/>
<g fill="#c04ca4"><ellipse cx="503.95" cy="678.29" rx="1.49" ry="1.56" transform="rotate(111.25 503.95 678.29)"/><ellipse cx="506.21" cy="672.67" rx="1.31" ry="1.19" transform="rotate(134.69 506.21 672.67)"/><ellipse cx="493.73" cy="673.6" rx="0.92" ry="0.51" transform="rotate(119.02 493.73 673.6)"/><ellipse cx="501.96" cy="681.17" rx="1.37" ry="0.87" transform="rotate(109.17 501.96 681.17)"/><ellipse cx="506.27" cy="681.34" rx="0.69" ry="0.44" transform="rotate(55.92 506.27 681.34)"/><ellipse cx="488.72" cy="682.41" rx="0.91" ry="0.54" transform="rotate(170.72 488.72 682.41)"/><ellipse cx="498.41" cy="686.84" rx="0.97" ry="0.51" transform="rotate(12.74 498.41 686.84)"/><ellipse cx="480.12" cy="680.71" rx="0.95" ry="0.45" transform="rotate(61.35 480.12 680.71)"/><ellipse cx="498.66" cy="672.23" rx="0.91" ry="0.56" transform="rotate(90.99 498.66 672.23)"/><ellipse cx="509.55" cy="680.55" rx="1.33" ry="1.31" transform="rotate(2.45 509.55 680.55)"/></g>
<polygon points="503.2,669 550,669 550,703 536.3,699 526,688.6 515.6,681.4" fill="#e0b6dc" stroke="#e0b6dc" stroke-width="2" stroke-linejoin="round" opacity="0.85"/>
<path d="M507.84 696.85l6.31 -4.8M543.6 677.6l7.15 -3.2M536.36 671.29l5.64 -2.27M531.91 682.46l9.33 -6.16M544.43 678.27l6.97 -5.55M503.37 691.39l6.18 -5.26M518 683.15l8.6 -2.85M537.24 701.1l4.08 -4.98M510.45 697.55l4.34 -2.07M549.56 695.76l5.64 -5.56M542.51 675.49l3.32 -2.33M546.38 702.87l5.19 -6.23M524.98 683.9l7.22 -5.76M522.23 698.07l7.59 -7.07" stroke="#c04ca4" stroke-width="1.0" opacity="0.55" fill="none"/>
<g fill="#c04ca4"><ellipse cx="528.7" cy="670.52" rx="1.05" ry="0.48" transform="rotate(113.54 528.7 670.52)"/><ellipse cx="521.36" cy="700.68" rx="1.06" ry="0.59" transform="rotate(136.23 521.36 700.68)"/><ellipse cx="521.49" cy="687.9" rx="1.3" ry="0.92" transform="rotate(95.15 521.49 687.9)"/><ellipse cx="505.51" cy="679.5" rx="0.58" ry="0.45" transform="rotate(86.8 505.51 679.5)"/><ellipse cx="513.1" cy="681.28" rx="0.51" ry="0.55" transform="rotate(156.1 513.1 681.28)"/><ellipse cx="537.37" cy="686.32" rx="0.84" ry="0.76" transform="rotate(149.22 537.37 686.32)"/><ellipse cx="540.14" cy="684.29" rx="1.46" ry="0.86" transform="rotate(142.6 540.14 684.29)"/><ellipse cx="510.95" cy="692.01" rx="1.24" ry="0.67" transform="rotate(3.88 510.95 692.01)"/><ellipse cx="538.11" cy="684.13" rx="0.91" ry="0.58" transform="rotate(127.85 538.11 684.13)"/><ellipse cx="521.82" cy="674.65" rx="0.54" ry="0.26" transform="rotate(75.95 521.82 674.65)"/></g>
<polygon points="464,735 489.8,730 498,740.3 507.4,758 495,758 479.5,742.3 464,740.3" fill="#e0b6dc" stroke="#e0b6dc" stroke-width="2" stroke-linejoin="round" opacity="0.85"/>
<path d="M495.47 746.09l10.93 -4.22M502.8 745.1l7.19 -3.78M491.51 734.88l6.79 -4.91M485.47 743.68l6.93 -4.12M477.57 734.3l10.79 -5.19M476.17 753.18l7.85 -6.63M476.33 735.48l3.02 -2.82M503.53 757.19l8.61 -2.81M466.26 745.32l8.67 -7.95M464.99 756.09l8.37 -2.95M467.6 753.28l8.06 -3.22M477.64 730.79l6.96 -5.81M470.81 734.34l4.07 -2.42M497.71 732.58l5.08 -2.18" stroke="#c04ca4" stroke-width="1.0" opacity="0.55" fill="none"/>
<g fill="#c04ca4"><ellipse cx="474.63" cy="746.47" rx="0.71" ry="0.69" transform="rotate(104.81 474.63 746.47)"/><ellipse cx="467.85" cy="739.45" rx="1.24" ry="0.75" transform="rotate(23.58 467.85 739.45)"/><ellipse cx="481.22" cy="730.6" rx="0.56" ry="0.3" transform="rotate(53.93 481.22 730.6)"/><ellipse cx="481.15" cy="750.72" rx="1.41" ry="1.52" transform="rotate(40.11 481.15 750.72)"/><ellipse cx="494.4" cy="755.11" rx="1.32" ry="0.63" transform="rotate(150.11 494.4 755.11)"/><ellipse cx="497.36" cy="746.73" rx="0.55" ry="0.27" transform="rotate(1.35 497.36 746.73)"/><ellipse cx="488.02" cy="746.75" rx="0.61" ry="0.61" transform="rotate(73.56 488.02 746.75)"/><ellipse cx="470.02" cy="746.4" rx="0.79" ry="0.47" transform="rotate(37.96 470.02 746.4)"/><ellipse cx="498.2" cy="732.77" rx="0.76" ry="0.41" transform="rotate(119.92 498.2 732.77)"/><ellipse cx="493.4" cy="741.99" rx="0.67" ry="0.31" transform="rotate(167.12 493.4 741.99)"/></g>
<polygon points="464,682 489,692 494,708 474,718 464,720" fill="#e0b6dc" stroke="#e0b6dc" stroke-width="2" stroke-linejoin="round" opacity="0.85"/>
<path d="M482.07 684.29l8.38 -3.54M470.11 717.9l4.3 -3.18M477.12 718.6l7.04 -3.46M485.66 692.74l6.24 -4.49M473.94 689.51l5.06 -1.6M491.79 688.11l9.17 -7.66M486.79 699.77l6.22 -4.67M465 701.79l5.67 -2.06M482.95 692.69l9.12 -5.59M483.06 710.01l7.06 -6.85M490.04 710.21l9.05 -4.42M471.02 719.28l9.22 -3.37M472.53 693.66l10.55 -3.28M484.95 687.65l5.29 -3.43" stroke="#c04ca4" stroke-width="1.0" opacity="0.55" fill="none"/>
<g fill="#c04ca4"><ellipse cx="480.99" cy="717.19" rx="1.26" ry="1.3" transform="rotate(37.11 480.99 717.19)"/><ellipse cx="490.16" cy="690.31" rx="0.78" ry="0.68" transform="rotate(44.07 490.16 690.31)"/><ellipse cx="465.93" cy="706.3" rx="0.61" ry="0.48" transform="rotate(161.76 465.93 706.3)"/><ellipse cx="476.55" cy="689.76" rx="1.48" ry="1.55" transform="rotate(85.43 476.55 689.76)"/><ellipse cx="486.15" cy="691.29" rx="0.52" ry="0.31" transform="rotate(107.4 486.15 691.29)"/><ellipse cx="487.53" cy="687.5" rx="0.66" ry="0.42" transform="rotate(46.8 487.53 687.5)"/><ellipse cx="474.54" cy="710.48" rx="0.9" ry="0.84" transform="rotate(117.62 474.54 710.48)"/><ellipse cx="491.45" cy="704.38" rx="1.57" ry="1.09" transform="rotate(98.34 491.45 704.38)"/><ellipse cx="470" cy="689.77" rx="0.89" ry="0.89" transform="rotate(162.47 470 689.77)"/><ellipse cx="477.71" cy="695.38" rx="0.86" ry="0.7" transform="rotate(82.69 477.71 695.38)"/></g>
<polygon points="540.4,725.8 550,725.8 550,740.3 540.4,740.3" fill="#e0b6dc" stroke="#e0b6dc" stroke-width="2" stroke-linejoin="round" opacity="0.85"/>
<path d="M549.93 735.78l5.82 -3.66M544.86 739.71l5 -2.22M543.12 731.5l3.16 -2.95M543.46 729.63l6.14 -6.67M543.34 733.67l7.05 -4.31M542.06 729.58l9.69 -3.06M542.02 727.04l10.54 -3.28M544.26 739.77l8.2 -3.08M540.81 726.12l8.72 -6.22M541.43 737.02l2.84 -2.83M547.53 736.56l6.98 -4.13M546.11 729.57l5.88 -3.42M542.65 737.25l9.82 -5.67M541.99 729.92l7.02 -5.15" stroke="#c04ca4" stroke-width="1.0" opacity="0.55" fill="none"/>
<g fill="#c04ca4"><ellipse cx="544.18" cy="726.07" rx="0.93" ry="0.64" transform="rotate(20.46 544.18 726.07)"/><ellipse cx="546.95" cy="736.22" rx="0.77" ry="0.65" transform="rotate(130.07 546.95 736.22)"/><ellipse cx="546.09" cy="733.71" rx="0.78" ry="0.48" transform="rotate(57.8 546.09 733.71)"/><ellipse cx="545.2" cy="731.85" rx="0.73" ry="0.35" transform="rotate(178.49 545.2 731.85)"/><ellipse cx="543.83" cy="738.64" rx="1.48" ry="0.82" transform="rotate(33.75 543.83 738.64)"/><ellipse cx="542.52" cy="734.72" rx="1.27" ry="0.72" transform="rotate(94.84 542.52 734.72)"/><ellipse cx="546.57" cy="736.29" rx="1.25" ry="1.18" transform="rotate(15.65 546.57 736.29)"/><ellipse cx="541.65" cy="736.31" rx="0.99" ry="0.9" transform="rotate(130.92 541.65 736.31)"/><ellipse cx="547.81" cy="736.13" rx="0.97" ry="1" transform="rotate(120.63 547.81 736.13)"/><ellipse cx="545.03" cy="737.75" rx="0.88" ry="0.59" transform="rotate(106.93 545.03 737.75)"/></g>
<g fill="#fbf6fa"><ellipse cx="473" cy="685.72" rx="2.17" ry="1.65" transform="rotate(86.01 473 685.72)"/><ellipse cx="475.08" cy="699.32" rx="2.04" ry="1.13" transform="rotate(86.23 475.08 699.32)"/><ellipse cx="468.55" cy="706.72" rx="1.89" ry="1.36" transform="rotate(56.75 468.55 706.72)"/><ellipse cx="488.8" cy="692.53" rx="1.95" ry="2.1" transform="rotate(65.92 488.8 692.53)"/><ellipse cx="477.03" cy="715.63" rx="1.9" ry="1.82" transform="rotate(159.72 477.03 715.63)"/><ellipse cx="471.28" cy="706.32" rx="1.85" ry="1.38" transform="rotate(114.69 471.28 706.32)"/><ellipse cx="469.94" cy="694.86" rx="1.44" ry="1.06" transform="rotate(56.61 469.94 694.86)"/><ellipse cx="473.27" cy="729.23" rx="2.11" ry="1.38" transform="rotate(17.51 473.27 729.23)"/><ellipse cx="483.66" cy="711.46" rx="2.03" ry="0.97" transform="rotate(108.97 483.66 711.46)"/><ellipse cx="488.71" cy="709.57" rx="2.2" ry="1.5" transform="rotate(68.37 488.71 709.57)"/><ellipse cx="472.07" cy="719.83" rx="2.34" ry="1.87" transform="rotate(91.81 472.07 719.83)"/><ellipse cx="465.21" cy="709.55" rx="1.56" ry="1.51" transform="rotate(174.09 465.21 709.55)"/><ellipse cx="482.13" cy="717.64" rx="1.37" ry="1.5" transform="rotate(81.29 482.13 717.64)"/><ellipse cx="474.28" cy="716.42" rx="1.31" ry="0.6" transform="rotate(58.77 474.28 716.42)"/><ellipse cx="485.59" cy="724.89" rx="1.34" ry="1.12" transform="rotate(156.49 485.59 724.89)"/><ellipse cx="487.66" cy="713.27" rx="1.88" ry="1.13" transform="rotate(49.6 487.66 713.27)"/><ellipse cx="481.48" cy="696.02" rx="2.26" ry="1.38" transform="rotate(112.23 481.48 696.02)"/><ellipse cx="470.54" cy="715.81" rx="2.59" ry="2.67" transform="rotate(75.46 470.54 715.81)"/><ellipse cx="476.17" cy="695.14" rx="1.7" ry="0.83" transform="rotate(64.83 476.17 695.14)"/><ellipse cx="482.49" cy="719.1" rx="1.8" ry="1.89" transform="rotate(121.48 482.49 719.1)"/></g>
<g fill="#f6eef4"><ellipse cx="486.97" cy="723.67" rx="0.77" ry="0.73" transform="rotate(86.77 486.97 723.67)"/><ellipse cx="472.91" cy="714.94" rx="1.04" ry="0.5" transform="rotate(128.45 472.91 714.94)"/><ellipse cx="493.31" cy="702.36" rx="1.21" ry="0.85" transform="rotate(81.91 493.31 702.36)"/><ellipse cx="484.33" cy="695.95" rx="0.68" ry="0.59" transform="rotate(60.9 484.33 695.95)"/><ellipse cx="491.78" cy="718.36" rx="0.6" ry="0.47" transform="rotate(107.99 491.78 718.36)"/><ellipse cx="469.4" cy="722.82" rx="1.24" ry="1.09" transform="rotate(141.77 469.4 722.82)"/><ellipse cx="476.55" cy="693.22" rx="1.01" ry="1.03" transform="rotate(132.32 476.55 693.22)"/><ellipse cx="492.06" cy="716.01" rx="0.66" ry="0.37" transform="rotate(21.07 492.06 716.01)"/><ellipse cx="488.28" cy="708.77" rx="1.25" ry="0.7" transform="rotate(64.92 488.28 708.77)"/><ellipse cx="472.69" cy="724.3" rx="1.08" ry="1" transform="rotate(89.25 472.69 724.3)"/><ellipse cx="472.35" cy="700.94" rx="0.59" ry="0.54" transform="rotate(108.86 472.35 700.94)"/><ellipse cx="480.73" cy="725.36" rx="0.6" ry="0.52" transform="rotate(19.39 480.73 725.36)"/><ellipse cx="471.9" cy="714.06" rx="0.89" ry="0.9" transform="rotate(40.44 471.9 714.06)"/><ellipse cx="475.14" cy="699.89" rx="0.73" ry="0.64" transform="rotate(60.53 475.14 699.89)"/><ellipse cx="476.4" cy="720.92" rx="0.56" ry="0.49" transform="rotate(89.2 476.4 720.92)"/><ellipse cx="476.73" cy="703.13" rx="0.63" ry="0.34" transform="rotate(129.34 476.73 703.13)"/><ellipse cx="474.04" cy="693.26" rx="0.65" ry="0.56" transform="rotate(125.75 474.04 693.26)"/><ellipse cx="482.83" cy="681.67" rx="0.84" ry="0.6" transform="rotate(31.71 482.83 681.67)"/><ellipse cx="487.08" cy="701.2" rx="1.14" ry="0.88" transform="rotate(43.41 487.08 701.2)"/><ellipse cx="474.81" cy="699.12" rx="0.58" ry="0.5" transform="rotate(54.23 474.81 699.12)"/><ellipse cx="484.67" cy="716.83" rx="0.67" ry="0.45" transform="rotate(177.43 484.67 716.83)"/><ellipse cx="492.99" cy="699.19" rx="1.03" ry="1.12" transform="rotate(118.13 492.99 699.19)"/><ellipse cx="477" cy="728.62" rx="0.94" ry="0.84" transform="rotate(162.54 477 728.62)"/><ellipse cx="466.02" cy="694.71" rx="1.24" ry="1.13" transform="rotate(65.37 466.02 694.71)"/></g>
<g fill="#fbf6fa"><ellipse cx="520.15" cy="728.65" rx="2.27" ry="1.53" transform="rotate(166.58 520.15 728.65)"/><ellipse cx="520.45" cy="748.12" rx="2.05" ry="1.09" transform="rotate(9.06 520.45 748.12)"/><ellipse cx="517.94" cy="725.98" rx="2.41" ry="2.15" transform="rotate(78.27 517.94 725.98)"/><ellipse cx="520.38" cy="734.78" rx="2.46" ry="1.93" transform="rotate(37.9 520.38 734.78)"/><ellipse cx="508.57" cy="737.85" rx="3.26" ry="1.69" transform="rotate(9.37 508.57 737.85)"/><ellipse cx="514.88" cy="748.3" rx="3.14" ry="1.86" transform="rotate(110.37 514.88 748.3)"/><ellipse cx="511.52" cy="723.55" rx="1.95" ry="1.02" transform="rotate(64.35 511.52 723.55)"/><ellipse cx="515.52" cy="744.08" rx="2.87" ry="2.3" transform="rotate(21.93 515.52 744.08)"/><ellipse cx="515.08" cy="721.39" rx="2.22" ry="2.26" transform="rotate(35.11 515.08 721.39)"/><ellipse cx="517.77" cy="729.77" rx="2.17" ry="1.08" transform="rotate(164.79 517.77 729.77)"/><ellipse cx="530.46" cy="719.9" rx="3.1" ry="2.31" transform="rotate(154.55 530.46 719.9)"/><ellipse cx="509.87" cy="713.61" rx="3.37" ry="2.31" transform="rotate(7.6 509.87 713.61)"/><ellipse cx="506.79" cy="724.46" rx="3.03" ry="3.27" transform="rotate(49.43 506.79 724.46)"/><ellipse cx="533.72" cy="730" rx="1.49" ry="0.97" transform="rotate(92.4 533.72 730)"/><ellipse cx="521.07" cy="732.32" rx="2.9" ry="2.15" transform="rotate(151.29 521.07 732.32)"/><ellipse cx="523.11" cy="735.15" rx="1.42" ry="0.93" transform="rotate(50.02 523.11 735.15)"/><ellipse cx="523.71" cy="738.09" rx="1.5" ry="0.69" transform="rotate(14.09 523.71 738.09)"/><ellipse cx="514.72" cy="722.75" rx="3.38" ry="1.73" transform="rotate(112.06 514.72 722.75)"/><ellipse cx="509.87" cy="718.57" rx="2.99" ry="2.94" transform="rotate(86.06 509.87 718.57)"/><ellipse cx="516.02" cy="715.95" rx="2.52" ry="2.36" transform="rotate(159.58 516.02 715.95)"/><ellipse cx="527.89" cy="743" rx="1.63" ry="1.71" transform="rotate(15.93 527.89 743)"/><ellipse cx="507.34" cy="732.78" rx="2.77" ry="2.39" transform="rotate(110.7 507.34 732.78)"/></g>
<g fill="#f6eef4"><ellipse cx="524.15" cy="727.16" rx="0.54" ry="0.35" transform="rotate(104.16 524.15 727.16)"/><ellipse cx="524.27" cy="727.27" rx="1.07" ry="1.07" transform="rotate(110.91 524.27 727.27)"/><ellipse cx="515.85" cy="727.25" rx="0.61" ry="0.42" transform="rotate(175.37 515.85 727.25)"/><ellipse cx="516.88" cy="729.51" rx="1.18" ry="0.7" transform="rotate(79.92 516.88 729.51)"/><ellipse cx="507.6" cy="732.03" rx="1.02" ry="0.99" transform="rotate(136.61 507.6 732.03)"/><ellipse cx="518.91" cy="726.63" rx="0.67" ry="0.31" transform="rotate(63.82 518.91 726.63)"/><ellipse cx="520.58" cy="722" rx="0.63" ry="0.48" transform="rotate(23.11 520.58 722)"/><ellipse cx="506.73" cy="730.94" rx="1.24" ry="0.83" transform="rotate(123.78 506.73 730.94)"/><ellipse cx="510.22" cy="716.84" rx="1.32" ry="1.15" transform="rotate(118.17 510.22 716.84)"/><ellipse cx="525.19" cy="731.48" rx="0.57" ry="0.31" transform="rotate(97.42 525.19 731.48)"/><ellipse cx="522.13" cy="712.83" rx="1.25" ry="1.31" transform="rotate(108.43 522.13 712.83)"/><ellipse cx="530.12" cy="730.61" rx="1.28" ry="0.6" transform="rotate(96.07 530.12 730.61)"/><ellipse cx="525.32" cy="742.35" rx="1.45" ry="1.04" transform="rotate(8.69 525.32 742.35)"/><ellipse cx="531.46" cy="723.21" rx="1.14" ry="0.95" transform="rotate(68.86 531.46 723.21)"/><ellipse cx="505.05" cy="740.71" rx="1.29" ry="0.98" transform="rotate(156.5 505.05 740.71)"/><ellipse cx="505.81" cy="721.15" rx="0.54" ry="0.54" transform="rotate(54.36 505.81 721.15)"/><ellipse cx="520.48" cy="730.32" rx="1.06" ry="0.66" transform="rotate(21.88 520.48 730.32)"/><ellipse cx="527.24" cy="728.83" rx="0.86" ry="0.69" transform="rotate(8.64 527.24 728.83)"/><ellipse cx="525.23" cy="724.67" rx="0.84" ry="0.52" transform="rotate(7.84 525.23 724.67)"/><ellipse cx="524.71" cy="737.55" rx="1.33" ry="1.01" transform="rotate(155.08 524.71 737.55)"/><ellipse cx="513.25" cy="732.41" rx="1.34" ry="0.87" transform="rotate(84.66 513.25 732.41)"/><ellipse cx="511.46" cy="713.57" rx="1.49" ry="1.5" transform="rotate(140.73 511.46 713.57)"/><ellipse cx="528" cy="716.65" rx="1.35" ry="0.65" transform="rotate(22.53 528 716.65)"/><ellipse cx="523.19" cy="735.29" rx="1.24" ry="0.66" transform="rotate(101.45 523.19 735.29)"/><ellipse cx="528.96" cy="743.22" rx="1.38" ry="1.24" transform="rotate(147.02 528.96 743.22)"/><ellipse cx="516.93" cy="729.98" rx="1.12" ry="1.1" transform="rotate(33.49 516.93 729.98)"/></g>
<g fill="#fbf6fa"><ellipse cx="527.5" cy="693.63" rx="1.18" ry="0.62" transform="rotate(143.66 527.5 693.63)"/><ellipse cx="520.25" cy="685.23" rx="1.72" ry="1.5" transform="rotate(110.49 520.25 685.23)"/><ellipse cx="534.04" cy="674.69" rx="1.38" ry="1.04" transform="rotate(177.82 534.04 674.69)"/><ellipse cx="534.38" cy="688.85" rx="1.85" ry="1.58" transform="rotate(120.91 534.38 688.85)"/><ellipse cx="522.41" cy="677.82" rx="1.12" ry="0.82" transform="rotate(54.36 522.41 677.82)"/><ellipse cx="527.07" cy="682.17" rx="1.6" ry="1.33" transform="rotate(135.05 527.07 682.17)"/><ellipse cx="547.67" cy="678.73" rx="1.52" ry="1.07" transform="rotate(33.54 547.67 678.73)"/><ellipse cx="536.34" cy="694.11" rx="1.15" ry="0.64" transform="rotate(15.12 536.34 694.11)"/><ellipse cx="538.79" cy="675.02" rx="2.35" ry="1.39" transform="rotate(80.67 538.79 675.02)"/><ellipse cx="537.49" cy="697.28" rx="2.2" ry="1.48" transform="rotate(172.69 537.49 697.28)"/><ellipse cx="537.4" cy="693.29" rx="1.3" ry="1.11" transform="rotate(130.47 537.4 693.29)"/><ellipse cx="537.59" cy="674.08" rx="1.95" ry="1.04" transform="rotate(167.92 537.59 674.08)"/></g>
<g fill="#f6eef4"><ellipse cx="522.26" cy="687.65" rx="0.87" ry="0.83" transform="rotate(155.07 522.26 687.65)"/><ellipse cx="522.97" cy="677.15" rx="0.5" ry="0.55" transform="rotate(87.05 522.97 677.15)"/><ellipse cx="537.48" cy="694.6" rx="0.61" ry="0.4" transform="rotate(117.23 537.48 694.6)"/><ellipse cx="529.62" cy="691.29" rx="0.74" ry="0.61" transform="rotate(98.86 529.62 691.29)"/><ellipse cx="530.75" cy="697.31" rx="0.98" ry="0.62" transform="rotate(99.52 530.75 697.31)"/><ellipse cx="537.74" cy="678.04" rx="0.59" ry="0.43" transform="rotate(105.89 537.74 678.04)"/><ellipse cx="544.92" cy="686.3" rx="0.79" ry="0.59" transform="rotate(7.06 544.92 686.3)"/><ellipse cx="528.71" cy="692.02" rx="0.87" ry="0.44" transform="rotate(159.84 528.71 692.02)"/><ellipse cx="542.42" cy="680.54" rx="0.65" ry="0.45" transform="rotate(75.11 542.42 680.54)"/><ellipse cx="540.31" cy="694" rx="0.54" ry="0.3" transform="rotate(43.56 540.31 694)"/><ellipse cx="544.62" cy="684.35" rx="0.67" ry="0.57" transform="rotate(131.62 544.62 684.35)"/><ellipse cx="536.86" cy="687.42" rx="0.96" ry="0.78" transform="rotate(115.04 536.86 687.42)"/><ellipse cx="532.18" cy="694.55" rx="1.04" ry="0.85" transform="rotate(110.44 532.18 694.55)"/><ellipse cx="529.78" cy="680.74" rx="0.84" ry="0.8" transform="rotate(106.16 529.78 680.74)"/></g>
<polygon points="484,675 510,670 512,686 500,679" fill="#ffffff" stroke="#ffffff" stroke-width="1.5" stroke-linejoin="round"/>
<polygon points="536,673 550,673 550,698 540,694" fill="#ffffff" stroke="#ffffff" stroke-width="1.5" stroke-linejoin="round"/>
<g fill="none" stroke="#ffffff" stroke-linecap="round"><path d="M513.6 693.8 C511.87 694.32 506.13 695 503.2 696.9 C500.27 698.8 497.88 702.28 496 705.2 C494.12 708.12 492.93 710.97 491.9 714.4 C490.87 717.83 491.02 722.87 489.8 725.8 C488.58 728.73 486.48 730.28 484.6 732 C482.72 733.72 479.52 735.42 478.5 736.1" stroke-width="3.2"/><path d="M513.6 693.8 C513.93 696.03 514.23 703.58 515.6 707.2 C516.97 710.82 519.23 713.08 521.8 715.5 C524.37 717.92 527.55 719.62 531 721.7 C534.45 723.78 539.33 726.62 542.5 728 C545.67 729.38 548.75 729.67 550 730" stroke-width="1.5"/></g>
<polygon points="584,671 611,671 631.6,709.3 627.5,721.7 611,713.4 595.4,699 584,683.5" fill="#e0b6dc" stroke="#e0b6dc" stroke-width="2" stroke-linejoin="round" opacity="0.85"/>
<path d="M610.77 710.44l6.03 -3.29M620.57 694.71l6.33 -7.81M613.35 707.87l6.41 -7.1M608.66 703.21l9.17 -3.14M589.35 681.9l5.98 -7.16M604.95 673.53l7.86 -4.51M589.09 678.37l5.08 -4.4M607.32 700.81l4.18 -5.13M586.88 714.37l5.22 -1.81M604.28 679.62l5.62 -6.46M595.7 700.93l4.58 -5.22M615.07 683.76l8.28 -8.26M591.98 685.41l9.72 -3.82M622.44 682.41l6.03 -3.92" stroke="#c04ca4" stroke-width="1.0" opacity="0.55" fill="none"/>
<g fill="#c04ca4"><ellipse cx="609.09" cy="718.32" rx="1.35" ry="1.05" transform="rotate(25.63 609.09 718.32)"/><ellipse cx="623.09" cy="709.11" rx="1.32" ry="1.4" transform="rotate(135.19 623.09 709.11)"/><ellipse cx="611.66" cy="698.54" rx="1.17" ry="0.57" transform="rotate(111.07 611.66 698.54)"/><ellipse cx="589.11" cy="685.17" rx="1.32" ry="0.73" transform="rotate(34.45 589.11 685.17)"/><ellipse cx="607.36" cy="718.57" rx="1.57" ry="0.8" transform="rotate(3.06 607.36 718.57)"/><ellipse cx="592.21" cy="711.35" rx="1.21" ry="1.21" transform="rotate(91.37 592.21 711.35)"/><ellipse cx="604.35" cy="713.11" rx="0.91" ry="0.89" transform="rotate(104.21 604.35 713.11)"/><ellipse cx="607.02" cy="687.95" rx="1.58" ry="0.76" transform="rotate(86.45 607.02 687.95)"/><ellipse cx="619.56" cy="686.97" rx="1.25" ry="0.87" transform="rotate(39.7 619.56 686.97)"/><ellipse cx="587.55" cy="700.81" rx="1.24" ry="1" transform="rotate(60.62 587.55 700.81)"/></g>
<polygon points="611,740.3 635,732 635,758 609,758" fill="#e0b6dc" stroke="#e0b6dc" stroke-width="2" stroke-linejoin="round" opacity="0.85"/>
<path d="M611.61 736.59l8.57 -6.82M624.75 736.43l3.87 -4.5M634.73 738.87l5.17 -5.36M620.42 757.29l4.4 -5.51M619.65 747.84l4.3 -5.17M626.67 743.32l10.63 -3.48M624.88 751.82l6.52 -7.48M624.61 752.02l8.77 -5.36M628.35 752.9l7.66 -7.32M634.61 754.92l3.57 -3.13M611.28 745.67l4.15 -3.07M618.21 747.12l4.38 -4.82M609.04 755.45l6.14 -3.48M610.88 733.82l7.2 -4.1" stroke="#c04ca4" stroke-width="1.0" opacity="0.55" fill="none"/>
<g fill="#c04ca4"><ellipse cx="633.12" cy="738.89" rx="1.46" ry="1.58" transform="rotate(67.48 633.12 738.89)"/><ellipse cx="623.89" cy="734.29" rx="1.24" ry="1.2" transform="rotate(149.57 623.89 734.29)"/><ellipse cx="624.79" cy="740.61" rx="0.65" ry="0.48" transform="rotate(112.49 624.79 740.61)"/><ellipse cx="610" cy="740.49" rx="1.44" ry="1.21" transform="rotate(165.26 610 740.49)"/><ellipse cx="612" cy="745.22" rx="0.77" ry="0.66" transform="rotate(174.29 612 745.22)"/><ellipse cx="625.52" cy="756.9" rx="1.34" ry="0.78" transform="rotate(149.59 625.52 756.9)"/><ellipse cx="626.51" cy="749.32" rx="1.51" ry="0.8" transform="rotate(138.15 626.51 749.32)"/><ellipse cx="624.11" cy="745.21" rx="0.99" ry="0.65" transform="rotate(16.92 624.11 745.21)"/><ellipse cx="622.73" cy="754.39" rx="1.36" ry="0.63" transform="rotate(104.55 622.73 754.39)"/><ellipse cx="618.1" cy="755.21" rx="1.39" ry="0.98" transform="rotate(47.78 618.1 755.21)"/></g>
<polygon points="549,678.3 562.4,678.3 562.4,704 549,704" fill="#e0b6dc" stroke="#e0b6dc" stroke-width="2" stroke-linejoin="round" opacity="0.85"/>
<path d="M549.39 689.33l4.85 -2.26M555.84 691.31l3.21 -3.46M551.55 682.47l3.76 -3.19M556.29 691.45l6.07 -4.12M549.76 688.8l5.86 -7.19M557.91 701.84l11.2 -3.7M553.25 686.17l3.03 -3.54M557.91 690.7l3.88 -1.94M560.31 694.62l5.52 -4.63M549.63 684.86l11.01 -4.52M551.25 700.37l2.94 -2.96M554 682.86l9.57 -4.36M559.36 693.99l8.59 -3.1M559.8 695.51l7.5 -9.36" stroke="#c04ca4" stroke-width="1.0" opacity="0.55" fill="none"/>
<g fill="#c04ca4"><ellipse cx="554.81" cy="691.54" rx="1.32" ry="0.71" transform="rotate(81.73 554.81 691.54)"/><ellipse cx="556.16" cy="694.25" rx="1.36" ry="1.03" transform="rotate(173.11 556.16 694.25)"/><ellipse cx="551.45" cy="700.44" rx="1.14" ry="1.09" transform="rotate(163.1 551.45 700.44)"/><ellipse cx="560.22" cy="700.57" rx="0.96" ry="0.55" transform="rotate(77.72 560.22 700.57)"/><ellipse cx="555.53" cy="692.21" rx="1.26" ry="1.33" transform="rotate(8.07 555.53 692.21)"/><ellipse cx="550.8" cy="684.53" rx="0.91" ry="0.61" transform="rotate(2.89 550.8 684.53)"/><ellipse cx="551.51" cy="683.65" rx="1.1" ry="0.71" transform="rotate(151.97 551.51 683.65)"/><ellipse cx="553.86" cy="698.72" rx="0.75" ry="0.79" transform="rotate(35.75 553.86 698.72)"/><ellipse cx="558.14" cy="698.06" rx="0.99" ry="1.03" transform="rotate(162.96 558.14 698.06)"/><ellipse cx="559.99" cy="698.96" rx="1.53" ry="0.84" transform="rotate(149.41 559.99 698.96)"/></g>
<polygon points="619,671 635,671 635,718 629,708" fill="#e0b6dc" stroke="#e0b6dc" stroke-width="2" stroke-linejoin="round" opacity="0.85"/>
<path d="M621.5 702.13l4.86 -3.8M623.34 676.81l7.65 -3.02M624.7 679.52l7.7 -7.08M620.65 673.32l9.1 -3.06M630.02 698.01l8.71 -4.19M634.86 700.88l4.98 -1.54M629.98 689.66l10.45 -3.98M625.29 690.68l4.96 -1.7M630.27 701.81l5.16 -2.51M634.14 711.71l5.08 -5.76M629.33 673.45l5.92 -4.5M633.93 706.11l4.19 -2.7M629.39 682.55l5.59 -6.62M630.73 698.77l10.64 -3.94" stroke="#c04ca4" stroke-width="1.0" opacity="0.55" fill="none"/>
<g fill="#c04ca4"><ellipse cx="623.77" cy="673.56" rx="1.23" ry="1.1" transform="rotate(133.26 623.77 673.56)"/><ellipse cx="624.08" cy="690.14" rx="1.39" ry="1.17" transform="rotate(49.77 624.08 690.14)"/><ellipse cx="620.84" cy="704.46" rx="0.83" ry="0.88" transform="rotate(151.11 620.84 704.46)"/><ellipse cx="626.09" cy="681.07" rx="0.53" ry="0.42" transform="rotate(129.43 626.09 681.07)"/><ellipse cx="620.45" cy="690.98" rx="0.91" ry="0.69" transform="rotate(106.91 620.45 690.98)"/><ellipse cx="626.25" cy="703.66" rx="0.75" ry="0.69" transform="rotate(86.7 626.25 703.66)"/><ellipse cx="628.38" cy="700.03" rx="1.49" ry="1.62" transform="rotate(2.53 628.38 700.03)"/><ellipse cx="630.35" cy="696.07" rx="1.2" ry="0.73" transform="rotate(79.42 630.35 696.07)"/><ellipse cx="625.67" cy="690.22" rx="1.51" ry="0.97" transform="rotate(80.67 625.67 690.22)"/><ellipse cx="619.72" cy="686.59" rx="0.77" ry="0.55" transform="rotate(28.49 619.72 686.59)"/></g>
<g fill="#fbf6fa"><ellipse cx="564.41" cy="713.48" rx="1.65" ry="1.24" transform="rotate(114.9 564.41 713.48)"/><ellipse cx="568.01" cy="717.27" rx="1.59" ry="1.25" transform="rotate(117.48 568.01 717.27)"/><ellipse cx="569.72" cy="727.65" rx="1.2" ry="0.71" transform="rotate(111.32 569.72 727.65)"/><ellipse cx="570.35" cy="716.61" rx="2.14" ry="1.8" transform="rotate(0.69 570.35 716.61)"/><ellipse cx="565.3" cy="726.76" rx="1.29" ry="1.12" transform="rotate(115.32 565.3 726.76)"/><ellipse cx="565.43" cy="727.86" rx="1.18" ry="0.67" transform="rotate(102.48 565.43 727.86)"/><ellipse cx="568.37" cy="710.25" rx="1.73" ry="1.34" transform="rotate(132.18 568.37 710.25)"/><ellipse cx="565.56" cy="725.81" rx="1.43" ry="1.52" transform="rotate(63.69 565.56 725.81)"/></g>
<g fill="#f6eef4"><ellipse cx="563.11" cy="713.02" rx="1.05" ry="0.94" transform="rotate(58.33 563.11 713.02)"/><ellipse cx="562.5" cy="723.29" rx="0.92" ry="0.49" transform="rotate(65.79 562.5 723.29)"/><ellipse cx="569.79" cy="721.24" rx="1.06" ry="0.9" transform="rotate(31.03 569.79 721.24)"/><ellipse cx="566.68" cy="724.13" rx="1.08" ry="0.7" transform="rotate(26.29 566.68 724.13)"/><ellipse cx="569.98" cy="723.95" rx="0.58" ry="0.44" transform="rotate(171.84 569.98 723.95)"/><ellipse cx="565.97" cy="719.15" rx="0.56" ry="0.61" transform="rotate(66.96 565.97 719.15)"/><ellipse cx="567" cy="712.41" rx="1.05" ry="0.75" transform="rotate(117.05 567 712.41)"/><ellipse cx="569.74" cy="726.79" rx="0.79" ry="0.79" transform="rotate(126.47 569.74 726.79)"/><ellipse cx="564.95" cy="717.75" rx="0.82" ry="0.67" transform="rotate(121.38 564.95 717.75)"/></g>
<g fill="#fbf6fa"><ellipse cx="605.62" cy="709.46" rx="2.91" ry="1.63" transform="rotate(137.29 605.62 709.46)"/><ellipse cx="595.64" cy="691.88" rx="2.67" ry="1.25" transform="rotate(175.45 595.64 691.88)"/><ellipse cx="597.69" cy="710.45" rx="2.26" ry="1.8" transform="rotate(168.06 597.69 710.45)"/><ellipse cx="602.93" cy="714.36" rx="2.63" ry="2.03" transform="rotate(85.58 602.93 714.36)"/><ellipse cx="598.14" cy="691.38" rx="2.54" ry="2.68" transform="rotate(120.64 598.14 691.38)"/><ellipse cx="595.11" cy="710.61" rx="3.15" ry="3.05" transform="rotate(53.55 595.11 710.61)"/><ellipse cx="620.39" cy="682.62" rx="2.27" ry="2.08" transform="rotate(96.89 620.39 682.62)"/><ellipse cx="601.99" cy="699.22" rx="2.35" ry="1.75" transform="rotate(51.99 601.99 699.22)"/><ellipse cx="596.39" cy="698.95" rx="2.81" ry="2.33" transform="rotate(177.76 596.39 698.95)"/><ellipse cx="602.6" cy="693.44" rx="1.38" ry="1.31" transform="rotate(42.17 602.6 693.44)"/><ellipse cx="598.63" cy="712.94" rx="1.37" ry="0.91" transform="rotate(154.86 598.63 712.94)"/><ellipse cx="599.29" cy="686.36" rx="2.95" ry="3.07" transform="rotate(63.74 599.29 686.36)"/><ellipse cx="616.27" cy="701.42" rx="2.7" ry="2.37" transform="rotate(24.67 616.27 701.42)"/><ellipse cx="616.6" cy="684.05" rx="2.82" ry="1.41" transform="rotate(33.98 616.6 684.05)"/><ellipse cx="609.08" cy="709.23" rx="1.78" ry="1.25" transform="rotate(27.38 609.08 709.23)"/><ellipse cx="616.67" cy="689.63" rx="1.69" ry="0.78" transform="rotate(45.22 616.67 689.63)"/><ellipse cx="597.49" cy="709.81" rx="2.12" ry="2.21" transform="rotate(100.21 597.49 709.81)"/><ellipse cx="608.67" cy="699.61" rx="2.54" ry="1.5" transform="rotate(46.54 608.67 699.61)"/><ellipse cx="614.59" cy="702.94" rx="2.11" ry="1.55" transform="rotate(150.73 614.59 702.94)"/><ellipse cx="615.51" cy="707.91" rx="1.73" ry="1.86" transform="rotate(53.11 615.51 707.91)"/><ellipse cx="599.14" cy="702.79" rx="2.25" ry="1.05" transform="rotate(14.89 599.14 702.79)"/><ellipse cx="593.46" cy="691.28" rx="1.06" ry="0.99" transform="rotate(115.44 593.46 691.28)"/><ellipse cx="611.52" cy="688.04" rx="1.34" ry="1.42" transform="rotate(81.81 611.52 688.04)"/><ellipse cx="600.84" cy="695.4" rx="2.2" ry="2.26" transform="rotate(94.83 600.84 695.4)"/></g>
<g fill="#f6eef4"><ellipse cx="599.65" cy="681.04" rx="1.31" ry="1.28" transform="rotate(126.57 599.65 681.04)"/><ellipse cx="597.64" cy="711.69" rx="0.96" ry="0.87" transform="rotate(5.92 597.64 711.69)"/><ellipse cx="609.47" cy="707.88" rx="1.26" ry="1.22" transform="rotate(77.73 609.47 707.88)"/><ellipse cx="598.97" cy="710.8" rx="1.35" ry="1.43" transform="rotate(94.51 598.97 710.8)"/><ellipse cx="596.86" cy="694.29" rx="1.11" ry="0.69" transform="rotate(35.38 596.86 694.29)"/><ellipse cx="622.62" cy="699.8" rx="0.91" ry="0.87" transform="rotate(117.66 622.62 699.8)"/><ellipse cx="625.59" cy="692.98" rx="0.64" ry="0.32" transform="rotate(119.34 625.59 692.98)"/><ellipse cx="601.86" cy="679.81" rx="1" ry="0.84" transform="rotate(164.53 601.86 679.81)"/><ellipse cx="600.64" cy="691.25" rx="1.36" ry="1.21" transform="rotate(26.71 600.64 691.25)"/><ellipse cx="603.93" cy="684.94" rx="1.17" ry="1.04" transform="rotate(84.77 603.93 684.94)"/><ellipse cx="590.78" cy="697.33" rx="0.73" ry="0.57" transform="rotate(40.1 590.78 697.33)"/><ellipse cx="613.9" cy="709.23" rx="1.09" ry="0.51" transform="rotate(178.07 613.9 709.23)"/><ellipse cx="600.79" cy="681.28" rx="0.88" ry="0.79" transform="rotate(91.52 600.79 681.28)"/><ellipse cx="608.25" cy="715.39" rx="0.94" ry="1.01" transform="rotate(124.03 608.25 715.39)"/><ellipse cx="605.58" cy="710.52" rx="0.7" ry="0.4" transform="rotate(163.11 605.58 710.52)"/><ellipse cx="603.35" cy="695.53" rx="1.12" ry="1.18" transform="rotate(99.67 603.35 695.53)"/><ellipse cx="614.22" cy="701.54" rx="0.74" ry="0.75" transform="rotate(40.5 614.22 701.54)"/><ellipse cx="625.58" cy="705.7" rx="0.83" ry="0.45" transform="rotate(141.9 625.58 705.7)"/><ellipse cx="616" cy="710" rx="0.67" ry="0.38" transform="rotate(34.06 616 710)"/><ellipse cx="609.39" cy="706.74" rx="0.85" ry="0.44" transform="rotate(87.2 609.39 706.74)"/><ellipse cx="606.7" cy="709.18" rx="1.43" ry="1.12" transform="rotate(49.71 606.7 709.18)"/><ellipse cx="598.77" cy="693.2" rx="1.28" ry="1.3" transform="rotate(152.89 598.77 693.2)"/><ellipse cx="604.31" cy="715.27" rx="1.43" ry="0.97" transform="rotate(45.17 604.31 715.27)"/><ellipse cx="620.49" cy="701.24" rx="0.94" ry="0.95" transform="rotate(44.11 620.49 701.24)"/><ellipse cx="617.36" cy="686.82" rx="1.22" ry="1.04" transform="rotate(119.69 617.36 686.82)"/><ellipse cx="620.8" cy="695.54" rx="1.12" ry="1.1" transform="rotate(163.61 620.8 695.54)"/><ellipse cx="614.06" cy="680.17" rx="0.94" ry="0.98" transform="rotate(125.58 614.06 680.17)"/><ellipse cx="595.65" cy="707.12" rx="1.2" ry="0.63" transform="rotate(25.73 595.65 707.12)"/></g>
<polygon points="549,719.6 555.2,721.7 556.2,728 574.8,735 592.4,748.5 606.8,758 549,758" fill="#ffffff" stroke="#ffffff" stroke-width="1.5" stroke-linejoin="round"/>
<polygon points="606.8,725.8 625.4,728 623.3,738.2 611,746.5 606.8,735" fill="#ffffff" stroke="#ffffff" stroke-width="1.5" stroke-linejoin="round"/>
<polygon points="563,682 571,686 573,698 566,698" fill="#ffffff" stroke="#ffffff" stroke-width="1.5" stroke-linejoin="round"/>
<g fill="none" stroke="#ffffff" stroke-linecap="round"><path d="M559.3 670 C560.33 671.73 563.95 676.95 565.5 680.4 C567.05 683.85 567.4 687.77 568.6 690.7 C569.8 693.63 572.02 696.78 572.7 698" stroke-width="3.5"/><path d="M572.7 698 C571.33 698.17 566.9 697.47 564.5 699 C562.1 700.53 559.85 704.12 558.3 707.2 C556.75 710.28 555.88 715.08 555.2 717.5 C554.52 719.92 554.37 721 554.2 721.7" stroke-width="2.5"/><path d="M572.7 698 C573.22 699.88 574.58 705.7 575.8 709.3 C577.02 712.9 577.58 716.68 580 719.6 C582.42 722.52 586 725.07 590.3 726.8 C594.6 728.53 600.63 729.8 605.8 730 C610.97 730.2 618.72 728.33 621.3 728" stroke-width="3"/></g>
<polygon points="634,669 648.5,669 672.2,683.5 665,699 649.5,702 634,711.4" fill="#e0b6dc" stroke="#e0b6dc" stroke-width="2" stroke-linejoin="round" opacity="0.85"/>
<path d="M655.7 678.56l3.84 -1.57M669.3 709.77l5.67 -1.9M636.82 701.41l5.63 -3.81M671.41 699.95l6.14 -3M649.52 691.62l4.25 -1.35M635.9 669.2l5.3 -2.76M662.42 673.82l5.29 -3.56M669.36 678.33l4.03 -3.39M640.54 709.14l7.22 -8.79M659.48 684.12l4.55 -1.91M644.92 669.49l5.47 -2.41M640.32 711.22l7.9 -3.42M664.82 701.22l6.5 -6.85M667.28 672.44l6.48 -2.27" stroke="#c04ca4" stroke-width="1.0" opacity="0.55" fill="none"/>
<g fill="#c04ca4"><ellipse cx="663.21" cy="680.32" rx="1.57" ry="1.38" transform="rotate(13.08 663.21 680.32)"/><ellipse cx="654.99" cy="682.77" rx="1.5" ry="0.76" transform="rotate(95.1 654.99 682.77)"/><ellipse cx="642.48" cy="695.86" rx="0.67" ry="0.38" transform="rotate(148.24 642.48 695.86)"/><ellipse cx="655.85" cy="687.61" rx="0.55" ry="0.27" transform="rotate(109.06 655.85 687.61)"/><ellipse cx="645.37" cy="705.61" rx="0.76" ry="0.78" transform="rotate(167.74 645.37 705.61)"/><ellipse cx="634.81" cy="688.95" rx="0.99" ry="0.86" transform="rotate(171.56 634.81 688.95)"/><ellipse cx="650.56" cy="684.68" rx="1.26" ry="0.82" transform="rotate(18.8 650.56 684.68)"/><ellipse cx="661.1" cy="687.64" rx="1.5" ry="0.88" transform="rotate(27.24 661.1 687.64)"/><ellipse cx="641.9" cy="688.16" rx="0.53" ry="0.38" transform="rotate(82.99 641.9 688.16)"/><ellipse cx="658.93" cy="701.54" rx="1.43" ry="0.86" transform="rotate(151.55 658.93 701.54)"/></g>
<polygon points="687.7,669 720,669 720,725.8 706.3,715.5 700,699 691.8,683.5" fill="#e0b6dc" stroke="#e0b6dc" stroke-width="2" stroke-linejoin="round" opacity="0.85"/>
<path d="M719.31 722.15l5.6 -2.86M694.17 717.46l6.25 -5.53M693.16 724.11l3.48 -3.77M716.58 718.74l3.78 -1.83M716.98 716.46l4.62 -1.76M691.73 677.68l6.7 -2.79M702.67 718.51l3.84 -1.4M710.97 721.97l3.62 -3.88M703.53 680.4l8.13 -4.49M718.57 683.32l7.99 -2.61M709.27 683.02l8.87 -6.45M710.63 687.03l9.31 -2.93M715.41 701.67l4.61 -4.78M705.87 683.56l7.89 -7.58" stroke="#c04ca4" stroke-width="1.0" opacity="0.55" fill="none"/>
<g fill="#c04ca4"><ellipse cx="698.97" cy="690.94" rx="1.46" ry="1.18" transform="rotate(22.19 698.97 690.94)"/><ellipse cx="706.19" cy="703.71" rx="1.1" ry="0.97" transform="rotate(54.3 706.19 703.71)"/><ellipse cx="703.06" cy="723.75" rx="1.5" ry="1.49" transform="rotate(48.3 703.06 723.75)"/><ellipse cx="696.13" cy="717.82" rx="1.02" ry="0.84" transform="rotate(44.93 696.13 717.82)"/><ellipse cx="692.07" cy="704.44" rx="1.44" ry="1.29" transform="rotate(136.88 692.07 704.44)"/><ellipse cx="704.76" cy="697.23" rx="1.42" ry="0.8" transform="rotate(178.68 704.76 697.23)"/><ellipse cx="712.16" cy="706" rx="0.98" ry="0.85" transform="rotate(167.14 712.16 706)"/><ellipse cx="702.32" cy="698.64" rx="0.88" ry="0.89" transform="rotate(81.46 702.32 698.64)"/><ellipse cx="701.53" cy="682.14" rx="1.56" ry="1.69" transform="rotate(136.96 701.53 682.14)"/><ellipse cx="701.03" cy="679.9" rx="0.56" ry="0.31" transform="rotate(112.43 701.03 679.9)"/></g>
<polygon points="634,742.3 665,753.7 665,758 634,758" fill="#e0b6dc" stroke="#e0b6dc" stroke-width="2" stroke-linejoin="round" opacity="0.85"/>
<path d="M653.75 756.52l5.47 -2M662.54 754.88l6.83 -6.26M648.79 755.23l6.86 -2.95M660.34 753.56l4.84 -2.82M635.16 744.8l3.29 -3.3M646.18 745.65l5.56 -4.08M639.86 745.24l8.32 -8.46M664.32 748.83l7.86 -3.31M637.24 756.53l5.07 -5.72M643.2 754.84l6.4 -2.59M660.92 755.75l8.1 -3.95M658.05 756.04l7.45 -8.91M663.98 757.83l6.32 -3.58M660.51 754.85l4.49 -1.88" stroke="#c04ca4" stroke-width="1.0" opacity="0.55" fill="none"/>
<g fill="#c04ca4"><ellipse cx="641.92" cy="753.49" rx="0.84" ry="0.84" transform="rotate(51.84 641.92 753.49)"/><ellipse cx="637.09" cy="749.22" rx="0.89" ry="0.48" transform="rotate(175.31 637.09 749.22)"/><ellipse cx="663.77" cy="752.85" rx="1.39" ry="1.2" transform="rotate(67.37 663.77 752.85)"/><ellipse cx="648.75" cy="745.21" rx="0.52" ry="0.51" transform="rotate(102.06 648.75 745.21)"/><ellipse cx="651.81" cy="749.28" rx="1.34" ry="1.29" transform="rotate(124.08 651.81 749.28)"/><ellipse cx="657.4" cy="754.74" rx="1.41" ry="1.47" transform="rotate(91.58 657.4 754.74)"/><ellipse cx="642.66" cy="754.35" rx="0.92" ry="0.47" transform="rotate(15.05 642.66 754.35)"/><ellipse cx="662.81" cy="749.7" rx="1.54" ry="1.07" transform="rotate(88.55 662.81 749.7)"/><ellipse cx="646.61" cy="746.22" rx="1.19" ry="0.81" transform="rotate(86.63 646.61 746.22)"/><ellipse cx="637.55" cy="754.38" rx="0.52" ry="0.48" transform="rotate(44.49 637.55 754.38)"/></g>
<polygon points="687.7,704 698,708 700,740.3 690,734" fill="#e0b6dc" stroke="#e0b6dc" stroke-width="2" stroke-linejoin="round" opacity="0.85"/>
<path d="M688.1 721.9l9.08 -6.46M688.56 717.63l9.35 -2.91M688.78 724.37l3.76 -2.77M698.19 726.92l7.14 -5.56M696.4 726.02l7.95 -2.83M694.24 715.98l4.88 -3.83M699.08 719.22l4.07 -1.47M697.14 735l9.08 -3.41M689.51 734.86l4.04 -1.36M690.53 709.2l6.95 -3.9M698.12 722.41l8.18 -7.62M688.17 714.7l4.91 -3.08M698.93 734l5.64 -6.49M695.06 729.58l6.22 -7.49" stroke="#c04ca4" stroke-width="1.0" opacity="0.55" fill="none"/>
<g fill="#c04ca4"><ellipse cx="690.35" cy="724.45" rx="1.15" ry="1.22" transform="rotate(165.82 690.35 724.45)"/><ellipse cx="696.77" cy="720.41" rx="1.31" ry="0.99" transform="rotate(31.14 696.77 720.41)"/><ellipse cx="695.31" cy="724.88" rx="0.75" ry="0.41" transform="rotate(74.65 695.31 724.88)"/><ellipse cx="695.96" cy="732.33" rx="0.55" ry="0.25" transform="rotate(24.89 695.96 732.33)"/><ellipse cx="691.68" cy="718.48" rx="0.83" ry="0.48" transform="rotate(130.14 691.68 718.48)"/><ellipse cx="695.51" cy="717.73" rx="1" ry="0.78" transform="rotate(68.96 695.51 717.73)"/><ellipse cx="695.41" cy="716.18" rx="0.53" ry="0.26" transform="rotate(4.94 695.41 716.18)"/><ellipse cx="697.72" cy="726.04" rx="1.17" ry="0.79" transform="rotate(97.03 697.72 726.04)"/><ellipse cx="694.9" cy="713.78" rx="0.61" ry="0.31" transform="rotate(74.8 694.9 713.78)"/><ellipse cx="696.33" cy="725.96" rx="0.66" ry="0.48" transform="rotate(14.76 696.33 725.96)"/></g>
<g fill="#fbf6fa"><ellipse cx="668.61" cy="745.93" rx="1.87" ry="1.53" transform="rotate(101.64 668.61 745.93)"/><ellipse cx="660.25" cy="730.14" rx="1.9" ry="1.15" transform="rotate(80 660.25 730.14)"/><ellipse cx="670.16" cy="726.91" rx="2.38" ry="2.47" transform="rotate(95.39 670.16 726.91)"/><ellipse cx="676.7" cy="736.65" rx="2.87" ry="2.07" transform="rotate(17.41 676.7 736.65)"/><ellipse cx="659.59" cy="723.61" rx="1.26" ry="0.73" transform="rotate(18.16 659.59 723.61)"/><ellipse cx="669.19" cy="732.03" rx="2.54" ry="2.58" transform="rotate(69.44 669.19 732.03)"/><ellipse cx="662.63" cy="728.8" rx="2.06" ry="1.48" transform="rotate(164.25 662.63 728.8)"/><ellipse cx="669.08" cy="726.4" rx="2.77" ry="2.27" transform="rotate(91.88 669.08 726.4)"/><ellipse cx="657.96" cy="727.65" rx="1.98" ry="1.99" transform="rotate(142.49 657.96 727.65)"/><ellipse cx="661" cy="726.78" rx="1.52" ry="1.54" transform="rotate(155.83 661 726.78)"/><ellipse cx="657.23" cy="721.38" rx="1.49" ry="0.89" transform="rotate(18.67 657.23 721.38)"/><ellipse cx="663.69" cy="735.32" rx="2.77" ry="2.96" transform="rotate(134.24 663.69 735.32)"/><ellipse cx="666.27" cy="731.11" rx="1.38" ry="0.93" transform="rotate(175.24 666.27 731.11)"/><ellipse cx="658.6" cy="739.28" rx="1.74" ry="1.85" transform="rotate(69.09 658.6 739.28)"/><ellipse cx="669" cy="721.59" rx="2.02" ry="1.12" transform="rotate(125.36 669 721.59)"/><ellipse cx="669.98" cy="717.73" rx="1.21" ry="1.25" transform="rotate(106.47 669.98 717.73)"/></g>
<g fill="#f6eef4"><ellipse cx="660.59" cy="744.63" rx="0.68" ry="0.69" transform="rotate(150.02 660.59 744.63)"/><ellipse cx="654.12" cy="732.02" rx="0.66" ry="0.3" transform="rotate(156.18 654.12 732.02)"/><ellipse cx="667.53" cy="717.37" rx="0.64" ry="0.43" transform="rotate(140.43 667.53 717.37)"/><ellipse cx="675.64" cy="727.55" rx="0.82" ry="0.58" transform="rotate(67.34 675.64 727.55)"/><ellipse cx="661.3" cy="732.83" rx="0.61" ry="0.58" transform="rotate(13.81 661.3 732.83)"/><ellipse cx="681.4" cy="731.42" rx="0.93" ry="0.69" transform="rotate(36.1 681.4 731.42)"/><ellipse cx="659.71" cy="719.32" rx="0.94" ry="0.86" transform="rotate(5.76 659.71 719.32)"/><ellipse cx="674.79" cy="726.34" rx="1.34" ry="1.01" transform="rotate(64.56 674.79 726.34)"/><ellipse cx="661.07" cy="732.62" rx="0.51" ry="0.45" transform="rotate(20.8 661.07 732.62)"/><ellipse cx="661.66" cy="737.48" rx="0.82" ry="0.39" transform="rotate(178.58 661.66 737.48)"/><ellipse cx="671.94" cy="739.7" rx="1.09" ry="0.62" transform="rotate(168.41 671.94 739.7)"/><ellipse cx="676.66" cy="736.6" rx="0.85" ry="0.65" transform="rotate(173.05 676.66 736.6)"/><ellipse cx="672.99" cy="729.5" rx="0.67" ry="0.61" transform="rotate(143.66 672.99 729.5)"/><ellipse cx="667.3" cy="721.03" rx="0.87" ry="0.76" transform="rotate(160.19 667.3 721.03)"/><ellipse cx="669.04" cy="733.87" rx="1" ry="0.95" transform="rotate(84.72 669.04 733.87)"/><ellipse cx="660.65" cy="737.73" rx="1.02" ry="1.08" transform="rotate(171.66 660.65 737.73)"/><ellipse cx="661.36" cy="741.76" rx="1.07" ry="1.05" transform="rotate(135.01 661.36 741.76)"/><ellipse cx="667.73" cy="741.77" rx="1.23" ry="0.68" transform="rotate(169.5 667.73 741.77)"/><ellipse cx="672.33" cy="719.43" rx="0.5" ry="0.34" transform="rotate(139.03 672.33 719.43)"/></g>
<g fill="#fbf6fa"><ellipse cx="640.51" cy="728.6" rx="1.46" ry="1.27" transform="rotate(91.77 640.51 728.6)"/><ellipse cx="642.48" cy="716.99" rx="1.92" ry="1.23" transform="rotate(30.98 642.48 716.99)"/><ellipse cx="640.62" cy="715.45" rx="1.65" ry="1.73" transform="rotate(110.77 640.62 715.45)"/><ellipse cx="636.92" cy="708.89" rx="1.61" ry="1.4" transform="rotate(67.29 636.92 708.89)"/><ellipse cx="640.75" cy="710.64" rx="1.68" ry="1.69" transform="rotate(18.55 640.75 710.64)"/><ellipse cx="638.26" cy="717.84" rx="3.25" ry="1.57" transform="rotate(98.33 638.26 717.84)"/></g>
<g fill="#f6eef4"><ellipse cx="644.14" cy="720.28" rx="1.29" ry="1.08" transform="rotate(167.72 644.14 720.28)"/><ellipse cx="643.24" cy="708.54" rx="1.25" ry="0.67" transform="rotate(76.51 643.24 708.54)"/><ellipse cx="643.14" cy="724.78" rx="0.81" ry="0.46" transform="rotate(122.69 643.14 724.78)"/><ellipse cx="643.28" cy="717.44" rx="1.16" ry="0.55" transform="rotate(79.48 643.28 717.44)"/><ellipse cx="646.83" cy="710.34" rx="1.44" ry="0.86" transform="rotate(29.8 646.83 710.34)"/><ellipse cx="638.28" cy="714.61" rx="1.32" ry="1.24" transform="rotate(145.2 638.28 714.61)"/><ellipse cx="643.01" cy="726.45" rx="1.38" ry="0.87" transform="rotate(24.32 643.01 726.45)"/></g>
<g fill="#fbf6fa"><ellipse cx="641.39" cy="686.59" rx="1.25" ry="1.04" transform="rotate(14.71 641.39 686.59)"/><ellipse cx="644.27" cy="679.96" rx="2.26" ry="1.93" transform="rotate(168.59 644.27 679.96)"/><ellipse cx="660.44" cy="698.47" rx="1.65" ry="0.97" transform="rotate(37.47 660.44 698.47)"/><ellipse cx="668.24" cy="691.83" rx="1.79" ry="1.71" transform="rotate(143.12 668.24 691.83)"/><ellipse cx="638.53" cy="683.15" rx="1.03" ry="0.95" transform="rotate(74.58 638.53 683.15)"/><ellipse cx="661.69" cy="690.98" rx="1.37" ry="1.42" transform="rotate(82.09 661.69 690.98)"/><ellipse cx="636.91" cy="682.46" rx="0.96" ry="0.6" transform="rotate(131.86 636.91 682.46)"/><ellipse cx="666.29" cy="685.21" rx="2.02" ry="1.81" transform="rotate(87.93 666.29 685.21)"/><ellipse cx="641.36" cy="695.93" rx="2.1" ry="1.4" transform="rotate(177.78 641.36 695.93)"/><ellipse cx="660.99" cy="672.88" rx="1.09" ry="1.11" transform="rotate(130.77 660.99 672.88)"/><ellipse cx="647.57" cy="677.59" rx="1.57" ry="1.01" transform="rotate(91.79 647.57 677.59)"/><ellipse cx="642.41" cy="674.73" rx="0.89" ry="0.82" transform="rotate(91.6 642.41 674.73)"/><ellipse cx="640.38" cy="682.25" rx="1.2" ry="0.8" transform="rotate(134.18 640.38 682.25)"/><ellipse cx="648.14" cy="693.48" rx="1.75" ry="1.57" transform="rotate(176.62 648.14 693.48)"/><ellipse cx="653.61" cy="699" rx="1.15" ry="1.03" transform="rotate(127.92 653.61 699)"/><ellipse cx="650.02" cy="687.41" rx="1.95" ry="1.89" transform="rotate(8.37 650.02 687.41)"/><ellipse cx="651.91" cy="698.03" rx="1.92" ry="1.42" transform="rotate(67.39 651.91 698.03)"/><ellipse cx="646.92" cy="672.96" rx="0.93" ry="1.02" transform="rotate(31.13 646.92 672.96)"/></g>
<g fill="#f6eef4"><ellipse cx="661.18" cy="677.95" rx="0.88" ry="0.57" transform="rotate(132.84 661.18 677.95)"/><ellipse cx="662.07" cy="685.1" rx="0.93" ry="0.78" transform="rotate(56.87 662.07 685.1)"/><ellipse cx="665.02" cy="677.35" rx="0.79" ry="0.45" transform="rotate(120.97 665.02 677.35)"/><ellipse cx="638.64" cy="692.43" rx="0.8" ry="0.78" transform="rotate(129.99 638.64 692.43)"/><ellipse cx="668" cy="687.94" rx="0.55" ry="0.51" transform="rotate(77.29 668 687.94)"/><ellipse cx="649.91" cy="691.58" rx="1.13" ry="0.77" transform="rotate(172.66 649.91 691.58)"/><ellipse cx="662.62" cy="681.57" rx="0.78" ry="0.81" transform="rotate(13.61 662.62 681.57)"/><ellipse cx="664.89" cy="686.19" rx="1.03" ry="1.04" transform="rotate(107.46 664.89 686.19)"/><ellipse cx="663.05" cy="687.41" rx="0.81" ry="0.78" transform="rotate(70.48 663.05 687.41)"/><ellipse cx="650.59" cy="681.17" rx="0.88" ry="0.87" transform="rotate(111.7 650.59 681.17)"/><ellipse cx="653.98" cy="686.93" rx="0.57" ry="0.3" transform="rotate(12.96 653.98 686.93)"/><ellipse cx="645.86" cy="677.79" rx="0.97" ry="0.82" transform="rotate(20.07 645.86 677.79)"/><ellipse cx="646.62" cy="685.26" rx="0.93" ry="0.68" transform="rotate(67.12 646.62 685.26)"/><ellipse cx="660.14" cy="695.15" rx="0.99" ry="0.79" transform="rotate(139.66 660.14 695.15)"/><ellipse cx="640.76" cy="694.07" rx="0.54" ry="0.45" transform="rotate(87.64 640.76 694.07)"/><ellipse cx="649.66" cy="691.61" rx="1.01" ry="0.84" transform="rotate(106.01 649.66 691.61)"/><ellipse cx="645.78" cy="676.5" rx="0.67" ry="0.33" transform="rotate(19.12 645.78 676.5)"/><ellipse cx="653.17" cy="697.66" rx="0.95" ry="0.89" transform="rotate(5.11 653.17 697.66)"/><ellipse cx="653.42" cy="698.96" rx="1.09" ry="0.52" transform="rotate(54.91 653.42 698.96)"/><ellipse cx="644.79" cy="676.33" rx="0.61" ry="0.37" transform="rotate(21.57 644.79 676.33)"/><ellipse cx="647.51" cy="698.73" rx="1.09" ry="1.04" transform="rotate(158.03 647.51 698.73)"/></g>
<polygon points="665,742.3 687.7,740.3 698,742.3 708.3,749.5 720,755.8 720,758 662.9,758" fill="#ffffff" stroke="#ffffff" stroke-width="1.5" stroke-linejoin="round"/>
<polygon points="700,680 720,676 720,713 708,706" fill="#ffffff" stroke="#ffffff" stroke-width="1.5" stroke-linejoin="round"/>
<g fill="none" stroke="#ffffff" stroke-linecap="round"><path d="M690.8 705.2 C689.07 705.37 683.87 705.17 680.4 706.2 C676.93 707.23 673.43 709.33 670 711.4 C666.57 713.47 663.05 716.2 659.8 718.6 C656.55 721 652.9 723.57 650.5 725.8 C648.1 728.03 646.25 729.58 645.4 732 C644.55 734.42 644.2 737.88 645.4 740.3 C646.6 742.72 649.33 744.78 652.6 746.5 C655.87 748.22 662.93 749.92 665 750.6" stroke-width="2.8"/></g>
</g>
<g clip-path="url(#sclip)">
<rect x="122.2" y="758.9" width="596.3" height="87.6" fill="#60bfb2" />
<polygon points="122,759 166.4,759 153,770.4 137.5,773.5 122,785.9" fill="#c8e6e1" stroke="#c8e6e1" stroke-width="2" stroke-linejoin="round" opacity="0.85"/>
<path d="M133 774.01l4.73 -4.02M123.88 778.16l5.05 -4.97M144.99 768.84l5.36 -1.73M150.25 763.51l4.77 -1.99M165.99 763.54l6.4 -5.4M129.54 776.29l5.53 -3.16M149.29 774.6l4.83 -5.56M164.48 760.13l4.12 -3.17M163.31 773.58l4.39 -4.99M132.45 775.93l11.29 -3.81M162.82 784.77l4.06 -4.71M151.4 759.37l7.43 -3.21M133.92 765.08l4.94 -3.14M149.09 766.4l8.62 -5.9" stroke="#6cbfb4" stroke-width="1.0" opacity="0.55" fill="none"/>
<g fill="#6cbfb4"><ellipse cx="141.67" cy="759.58" rx="1" ry="0.68" transform="rotate(29.18 141.67 759.58)"/><ellipse cx="132.93" cy="764.38" rx="1.34" ry="1.04" transform="rotate(164.17 132.93 764.38)"/><ellipse cx="163.39" cy="776.55" rx="0.87" ry="0.69" transform="rotate(106.81 163.39 776.55)"/><ellipse cx="159.62" cy="766.92" rx="0.96" ry="0.66" transform="rotate(140.29 159.62 766.92)"/><ellipse cx="135.21" cy="769.46" rx="0.53" ry="0.53" transform="rotate(29.11 135.21 769.46)"/><ellipse cx="138.61" cy="783.38" rx="1.55" ry="0.83" transform="rotate(77.58 138.61 783.38)"/><ellipse cx="133.06" cy="775.03" rx="0.73" ry="0.46" transform="rotate(88 133.06 775.03)"/><ellipse cx="149.61" cy="778.75" rx="0.74" ry="0.54" transform="rotate(88.53 149.61 778.75)"/><ellipse cx="132.34" cy="763.15" rx="0.51" ry="0.43" transform="rotate(101.62 132.34 763.15)"/><ellipse cx="140.78" cy="776.67" rx="1.33" ry="0.82" transform="rotate(115.07 140.78 776.67)"/></g>
<polygon points="122,830.3 142.6,832.3 153,836.5 156,848 122,848" fill="#c8e6e1" stroke="#c8e6e1" stroke-width="2" stroke-linejoin="round" opacity="0.85"/>
<path d="M148.86 834.45l7.25 -7.64M130.43 835.06l6.7 -5.47M138.12 844.98l4.54 -2.46M123.85 831.29l8.17 -7.66M148.06 847.42l8.37 -3.53M155.19 843.28l9.6 -4.73M151.19 836.01l8.67 -4.44M150.22 831.94l6.49 -2.37M148.33 843.09l7.17 -2.89M134.51 833.17l4.26 -2.56M122.84 847.23l3.39 -3.53M145.81 830.66l7.54 -5.59M143.73 844.5l6.15 -2.87M139.16 845.75l4.47 -2.99" stroke="#6cbfb4" stroke-width="1.0" opacity="0.55" fill="none"/>
<g fill="#6cbfb4"><ellipse cx="154.86" cy="840.97" rx="1.06" ry="0.62" transform="rotate(55.9 154.86 840.97)"/><ellipse cx="127.22" cy="837.56" rx="1.09" ry="0.62" transform="rotate(3.04 127.22 837.56)"/><ellipse cx="142.38" cy="839.98" rx="0.94" ry="0.48" transform="rotate(17.39 142.38 839.98)"/><ellipse cx="131.25" cy="845.69" rx="0.61" ry="0.32" transform="rotate(13.44 131.25 845.69)"/><ellipse cx="123.85" cy="840.13" rx="1.1" ry="1.08" transform="rotate(150.86 123.85 840.13)"/><ellipse cx="130.58" cy="838.23" rx="1.37" ry="1.02" transform="rotate(100.11 130.58 838.23)"/><ellipse cx="134.14" cy="833.44" rx="0.99" ry="0.6" transform="rotate(102.29 134.14 833.44)"/><ellipse cx="129.07" cy="833.1" rx="1.46" ry="1.49" transform="rotate(96.07 129.07 833.1)"/><ellipse cx="134.09" cy="838.68" rx="1.45" ry="1.07" transform="rotate(55.76 134.09 838.68)"/><ellipse cx="138.74" cy="842.58" rx="0.81" ry="0.89" transform="rotate(27.48 138.74 842.58)"/></g>
<g fill="#fbf6fa"><ellipse cx="123.54" cy="800.51" rx="3.21" ry="2.89" transform="rotate(101.87 123.54 800.51)"/><ellipse cx="123.03" cy="806.71" rx="2.87" ry="2.78" transform="rotate(84.25 123.03 806.71)"/><ellipse cx="131.63" cy="803.83" rx="3" ry="1.93" transform="rotate(137.72 131.63 803.83)"/><ellipse cx="130.69" cy="809.26" rx="2.78" ry="2.1" transform="rotate(138.86 130.69 809.26)"/><ellipse cx="128.97" cy="797.55" rx="3.2" ry="2.69" transform="rotate(116.61 128.97 797.55)"/><ellipse cx="124.66" cy="795.36" rx="3.19" ry="3.27" transform="rotate(43.44 124.66 795.36)"/></g>
<g fill="#f6eef4"><ellipse cx="135.17" cy="798.73" rx="1.54" ry="0.94" transform="rotate(0.42 135.17 798.73)"/><ellipse cx="128.7" cy="812.67" rx="0.59" ry="0.49" transform="rotate(104.11 128.7 812.67)"/><ellipse cx="128.39" cy="805.19" rx="1.13" ry="0.88" transform="rotate(17.54 128.39 805.19)"/><ellipse cx="126.35" cy="807.26" rx="1.39" ry="0.91" transform="rotate(133.78 126.35 807.26)"/><ellipse cx="130.72" cy="814.82" rx="1.64" ry="0.79" transform="rotate(96.37 130.72 814.82)"/><ellipse cx="134.79" cy="810.16" rx="1.78" ry="1.02" transform="rotate(109.11 134.79 810.16)"/><ellipse cx="130.34" cy="794.72" rx="1.75" ry="0.93" transform="rotate(86.87 130.34 794.72)"/></g>
<g fill="#fbf6fa"><ellipse cx="140.46" cy="783.49" rx="1.78" ry="1.36" transform="rotate(6.73 140.46 783.49)"/><ellipse cx="137.55" cy="787.83" rx="2.54" ry="2.61" transform="rotate(41.63 137.55 787.83)"/><ellipse cx="146.57" cy="791.84" rx="2.16" ry="1.94" transform="rotate(172.73 146.57 791.84)"/><ellipse cx="141.28" cy="778.11" rx="2.14" ry="1.29" transform="rotate(151.24 141.28 778.11)"/></g>
<g fill="#f6eef4"><ellipse cx="138.62" cy="791.98" rx="1.27" ry="0.92" transform="rotate(118.9 138.62 791.98)"/><ellipse cx="145.77" cy="789.41" rx="1.03" ry="1.02" transform="rotate(126.39 145.77 789.41)"/><ellipse cx="142.29" cy="794.28" rx="1.38" ry="0.93" transform="rotate(171.87 142.29 794.28)"/><ellipse cx="141.11" cy="791.04" rx="0.98" ry="1.06" transform="rotate(10.06 141.11 791.04)"/></g>
<g fill="#fbf6fa"><ellipse cx="188.58" cy="799.36" rx="4.89" ry="4.84" transform="rotate(0.27 188.58 799.36)"/><ellipse cx="183.88" cy="825.09" rx="2.65" ry="2.11" transform="rotate(82.37 183.88 825.09)"/><ellipse cx="172.56" cy="812.69" rx="4.96" ry="2.95" transform="rotate(17.79 172.56 812.69)"/><ellipse cx="184.03" cy="808.35" rx="3.91" ry="1.81" transform="rotate(129.7 184.03 808.35)"/><ellipse cx="184.94" cy="816.81" rx="4.79" ry="5" transform="rotate(162.73 184.94 816.81)"/><ellipse cx="174.71" cy="836.8" rx="4.83" ry="4.13" transform="rotate(110.8 174.71 836.8)"/><ellipse cx="179.01" cy="809.23" rx="3.3" ry="3.19" transform="rotate(117.35 179.01 809.23)"/><ellipse cx="176.95" cy="824.82" rx="4.31" ry="2.48" transform="rotate(30.55 176.95 824.82)"/></g>
<g fill="#f6eef4"><ellipse cx="172.99" cy="829.62" rx="0.88" ry="0.79" transform="rotate(166.53 172.99 829.62)"/><ellipse cx="181.07" cy="815.49" rx="0.88" ry="0.93" transform="rotate(139.91 181.07 815.49)"/><ellipse cx="176.48" cy="818.38" rx="2.03" ry="1.48" transform="rotate(61.03 176.48 818.38)"/><ellipse cx="180.81" cy="831.85" rx="1.81" ry="0.98" transform="rotate(87.86 180.81 831.85)"/><ellipse cx="188.79" cy="824.46" rx="2.2" ry="1.98" transform="rotate(82.16 188.79 824.46)"/><ellipse cx="173.15" cy="812.22" rx="1.73" ry="1.18" transform="rotate(88.38 173.15 812.22)"/><ellipse cx="170.28" cy="816.65" rx="0.96" ry="0.82" transform="rotate(14.12 170.28 816.65)"/><ellipse cx="171.49" cy="819.48" rx="1.52" ry="0.76" transform="rotate(116.08 171.49 819.48)"/><ellipse cx="186.67" cy="826.2" rx="1.36" ry="0.69" transform="rotate(93.34 186.67 826.2)"/></g>
<g fill="#fbf6fa"><ellipse cx="196.19" cy="836.78" rx="1.58" ry="0.77" transform="rotate(98.75 196.19 836.78)"/><ellipse cx="197.23" cy="838.22" rx="1.78" ry="1.08" transform="rotate(10.01 197.23 838.22)"/></g>
<g fill="#f6eef4"><ellipse cx="199.89" cy="834.97" rx="0.71" ry="0.69" transform="rotate(22.57 199.89 834.97)"/><ellipse cx="196.62" cy="841.84" rx="1.24" ry="0.61" transform="rotate(62.26 196.62 841.84)"/></g>
<polygon points="192,758 208,758 208,768 192,769 176,778 166,793 161,810 161,826 166,848 137,848 144,830 152,814 159,797 167,781 180,769" fill="#ffffff" stroke="#ffffff" stroke-width="1.5" stroke-linejoin="round"/>
<g fill="none" stroke="#b874b0" opacity="0.8"><path d="M158 797 C157 800.17 154.33 810.5 152 816 C149.67 821.5 145.33 827.67 144 830" stroke-width="1.6"/><path d="M163 810 C163 813.33 162.17 824 163 830 C163.83 836 167.17 843.33 168 846" stroke-width="1.4"/><path d="M178 770 C176.33 772 170.83 777.67 168 782 C165.17 786.33 162.17 793.67 161 796" stroke-width="1.4"/><path d="M193 772 C193.33 774.17 193.67 780.67 195 785 C196.33 789.33 200 795.83 201 798" stroke-width="1.2"/></g>
<g fill="none" stroke="#ffffff" stroke-linecap="round"><path d="M194.3 770.4 C194.63 772.63 194.93 779.33 196.3 783.8 C197.67 788.27 200.55 794.1 202.5 797.2 C204.45 800.3 207.08 801.53 208 802.4" stroke-width="3"/></g>
<g fill="none" stroke="#d42458"><path d="M122 785.9 C123.03 784.35 125.62 778.83 128.2 776.6 C130.78 774.37 133.72 773.7 137.5 772.5 C141.28 771.3 146.25 771.48 150.9 769.4 C155.55 767.32 162.98 761.57 165.4 760" stroke-width="2.2"/></g>
<polygon points="238,759 275,766.3 271,771.4 243,771.4" fill="#c8e6e1" stroke="#c8e6e1" stroke-width="2" stroke-linejoin="round" opacity="0.85"/>
<path d="M248.22 766.81l9.22 -5.93M267.08 760.87l4.51 -2.99M260.5 765.7l5.44 -1.75M267.82 766.07l9.13 -4.56M259.19 762.76l8.17 -4.21M248.66 759.48l6.24 -5.42M269.14 770.29l4.09 -1.4M252.55 770.48l3.91 -2.37M271.95 759.45l4.23 -1.41M251.31 767.05l6.84 -6.32M239.43 762.32l7.89 -7.95M246.82 770.33l7.02 -4.16M248.69 761.09l7.73 -3.38M245.19 765.97l7.11 -4.17" stroke="#6cbfb4" stroke-width="1.0" opacity="0.55" fill="none"/>
<g fill="#6cbfb4"><ellipse cx="249.28" cy="768" rx="0.7" ry="0.7" transform="rotate(148.81 249.28 768)"/><ellipse cx="251.55" cy="762.19" rx="1.02" ry="0.91" transform="rotate(123.98 251.55 762.19)"/><ellipse cx="261.19" cy="768.37" rx="1.07" ry="0.79" transform="rotate(0.62 261.19 768.37)"/><ellipse cx="245.32" cy="765.78" rx="1.4" ry="1.46" transform="rotate(100.58 245.32 765.78)"/><ellipse cx="258.99" cy="762.94" rx="1.39" ry="0.91" transform="rotate(127.69 258.99 762.94)"/><ellipse cx="252.47" cy="760.49" rx="1.07" ry="0.64" transform="rotate(0.46 252.47 760.49)"/><ellipse cx="259.79" cy="766.14" rx="0.87" ry="0.91" transform="rotate(151.7 259.79 766.14)"/><ellipse cx="272.7" cy="762.74" rx="1.48" ry="1.05" transform="rotate(59.73 272.7 762.74)"/><ellipse cx="247.47" cy="769.75" rx="0.76" ry="0.53" transform="rotate(139.93 247.47 769.75)"/><ellipse cx="261.36" cy="765.76" rx="0.96" ry="0.56" transform="rotate(171.34 261.36 765.76)"/></g>
<polygon points="277,766 293,766 293,848 281,830" fill="#c8e6e1" stroke="#c8e6e1" stroke-width="2" stroke-linejoin="round" opacity="0.85"/>
<path d="M280.71 809.3l4.42 -4.52M285.33 824.52l3.32 -3.56M285.69 779.53l6.85 -5.53M278.49 831.45l5.79 -2.08M290.25 814.19l8.67 -7.53M288.65 798.71l5.37 -4.29M290.4 779.64l9.02 -3.41M288.09 837.32l7.86 -3.86M281.54 836.54l6.14 -2.67M287.47 831.71l9.51 -6.45M281.41 783.54l8.39 -3.54M280.79 793.28l7.98 -5.21M277.98 816.9l4.08 -2.2M277.35 802.96l6 -5.9" stroke="#6cbfb4" stroke-width="1.0" opacity="0.55" fill="none"/>
<g fill="#6cbfb4"><ellipse cx="283.05" cy="779.73" rx="1.47" ry="1.6" transform="rotate(172.57 283.05 779.73)"/><ellipse cx="290.49" cy="815.85" rx="1.49" ry="1.64" transform="rotate(43.07 290.49 815.85)"/><ellipse cx="277.92" cy="820.39" rx="0.95" ry="0.8" transform="rotate(61.98 277.92 820.39)"/><ellipse cx="284.58" cy="806.19" rx="0.53" ry="0.53" transform="rotate(22.42 284.58 806.19)"/><ellipse cx="280.33" cy="829.51" rx="0.65" ry="0.5" transform="rotate(175.94 280.33 829.51)"/><ellipse cx="286.04" cy="803.93" rx="0.62" ry="0.58" transform="rotate(160.96 286.04 803.93)"/><ellipse cx="288.43" cy="788.1" rx="1.19" ry="1.25" transform="rotate(43.18 288.43 788.1)"/><ellipse cx="289.73" cy="784.17" rx="1.28" ry="1.25" transform="rotate(98.86 289.73 784.17)"/><ellipse cx="290" cy="801.37" rx="0.78" ry="0.59" transform="rotate(160.84 290 801.37)"/><ellipse cx="289.07" cy="812.12" rx="0.66" ry="0.48" transform="rotate(27.08 289.07 812.12)"/></g>
<polygon points="207,807.5 220.4,820 235.9,848 207,848" fill="#c8e6e1" stroke="#c8e6e1" stroke-width="2" stroke-linejoin="round" opacity="0.85"/>
<path d="M224.61 844.96l10.1 -3.27M208.38 812.84l7.38 -6.39M209.37 814.64l5.76 -4.45M231.8 835.92l9.08 -7.14M230.36 846.17l9.88 -5.89M209.22 836.08l7.87 -3.63M231.51 829.64l7.36 -4.22M220.6 816.5l3.9 -1.56M233.9 808.82l7.53 -4.07M226.64 840.99l5.93 -5.21M223.01 845.98l4.08 -3.66M208.5 820.75l7.48 -8.41M213.15 820.38l6.74 -6.32M226.08 815.5l5.24 -2.31" stroke="#6cbfb4" stroke-width="1.0" opacity="0.55" fill="none"/>
<g fill="#6cbfb4"><ellipse cx="210.86" cy="820.41" rx="0.68" ry="0.39" transform="rotate(146.96 210.86 820.41)"/><ellipse cx="218.78" cy="820.09" rx="1.45" ry="1.05" transform="rotate(169.13 218.78 820.09)"/><ellipse cx="214.55" cy="822.52" rx="1.1" ry="0.99" transform="rotate(154.65 214.55 822.52)"/><ellipse cx="229.44" cy="813.8" rx="0.9" ry="0.84" transform="rotate(171.55 229.44 813.8)"/><ellipse cx="217.72" cy="836.49" rx="0.75" ry="0.8" transform="rotate(66.34 217.72 836.49)"/><ellipse cx="234.08" cy="829.15" rx="1.47" ry="0.84" transform="rotate(179.15 234.08 829.15)"/><ellipse cx="220.71" cy="811.26" rx="0.93" ry="0.68" transform="rotate(155.33 220.71 811.26)"/><ellipse cx="230.88" cy="820.1" rx="1.2" ry="0.57" transform="rotate(54.76 230.88 820.1)"/><ellipse cx="228.18" cy="820.71" rx="0.99" ry="0.45" transform="rotate(56.65 228.18 820.71)"/><ellipse cx="230.08" cy="831.65" rx="0.68" ry="0.52" transform="rotate(41.41 230.08 831.65)"/></g>
<polygon points="250.4,815.8 279.3,815.8 279.3,848 250.4,848" fill="#c8e6e1" stroke="#c8e6e1" stroke-width="2" stroke-linejoin="round" opacity="0.85"/>
<path d="M276.92 817.31l4.54 -4.2M277.22 837.72l9.82 -3.73M253.84 829.49l4.45 -2.17M263.8 843.12l8.73 -3M271.28 820.85l4.1 -3.98M257.77 834.54l7.62 -4.35M257.65 838.16l9.45 -4.79M278.71 831.71l4.27 -1.9M251.59 840.18l8.59 -4.02M266.32 826.5l6.83 -4.3M259.7 838.38l2.81 -3.52M271.93 835.74l5.6 -4.14M260.54 824.7l6.37 -2.69M266.75 845.88l7.35 -6.3" stroke="#6cbfb4" stroke-width="1.0" opacity="0.55" fill="none"/>
<g fill="#6cbfb4"><ellipse cx="266.94" cy="840" rx="0.64" ry="0.52" transform="rotate(156.7 266.94 840)"/><ellipse cx="252.78" cy="831.54" rx="1.39" ry="1.14" transform="rotate(155.1 252.78 831.54)"/><ellipse cx="266.81" cy="822.55" rx="1.54" ry="1.5" transform="rotate(148.39 266.81 822.55)"/><ellipse cx="278.31" cy="834.7" rx="1.48" ry="1.6" transform="rotate(51.49 278.31 834.7)"/><ellipse cx="272.37" cy="823.53" rx="1" ry="0.6" transform="rotate(57.41 272.37 823.53)"/><ellipse cx="266.42" cy="830.27" rx="1.35" ry="1.15" transform="rotate(149.84 266.42 830.27)"/><ellipse cx="266.39" cy="821.91" rx="0.73" ry="0.36" transform="rotate(13.72 266.39 821.91)"/><ellipse cx="261.22" cy="820.3" rx="1.24" ry="1.23" transform="rotate(74.83 261.22 820.3)"/><ellipse cx="277.05" cy="837.84" rx="0.79" ry="0.81" transform="rotate(127.02 277.05 837.84)"/><ellipse cx="273.03" cy="824.65" rx="0.68" ry="0.45" transform="rotate(28.11 273.03 824.65)"/></g>
<g fill="#fbf6fa"><ellipse cx="233.55" cy="801.97" rx="2.39" ry="1.18" transform="rotate(95.98 233.55 801.97)"/><ellipse cx="232.14" cy="800.36" rx="3.09" ry="2.38" transform="rotate(67.23 232.14 800.36)"/><ellipse cx="225.89" cy="802.37" rx="2.82" ry="2.91" transform="rotate(143.86 225.89 802.37)"/><ellipse cx="227.33" cy="792" rx="2.23" ry="2.15" transform="rotate(68.38 227.33 792)"/><ellipse cx="239.66" cy="791.42" rx="2.24" ry="1.52" transform="rotate(139.05 239.66 791.42)"/><ellipse cx="228.89" cy="803.19" rx="1.7" ry="1.36" transform="rotate(177.15 228.89 803.19)"/><ellipse cx="224.72" cy="794.32" rx="2.12" ry="1.56" transform="rotate(150.27 224.72 794.32)"/><ellipse cx="236.72" cy="798.85" rx="2.09" ry="1.14" transform="rotate(79.66 236.72 798.85)"/></g>
<g fill="#f6eef4"><ellipse cx="240.14" cy="797" rx="1.09" ry="0.56" transform="rotate(151 240.14 797)"/><ellipse cx="242.66" cy="793.57" rx="0.51" ry="0.27" transform="rotate(27.21 242.66 793.57)"/><ellipse cx="244.02" cy="794.84" rx="1.35" ry="1.28" transform="rotate(57.3 244.02 794.84)"/><ellipse cx="232.3" cy="789.16" rx="1.21" ry="0.72" transform="rotate(80.9 232.3 789.16)"/><ellipse cx="223.97" cy="802.36" rx="0.89" ry="0.82" transform="rotate(29 223.97 802.36)"/><ellipse cx="238.66" cy="790.49" rx="0.89" ry="0.58" transform="rotate(173.32 238.66 790.49)"/><ellipse cx="230.6" cy="795.75" rx="0.79" ry="0.78" transform="rotate(26.25 230.6 795.75)"/><ellipse cx="225.91" cy="799.1" rx="0.62" ry="0.52" transform="rotate(33.17 225.91 799.1)"/><ellipse cx="236.36" cy="793.06" rx="0.54" ry="0.25" transform="rotate(147.72 236.36 793.06)"/></g>
<g fill="#fbf6fa"><ellipse cx="263.4" cy="820.58" rx="1.89" ry="2.04" transform="rotate(172.61 263.4 820.58)"/><ellipse cx="263.6" cy="825.27" rx="2.06" ry="1.96" transform="rotate(94.06 263.6 825.27)"/><ellipse cx="257.4" cy="832.4" rx="2.57" ry="2.44" transform="rotate(138.32 257.4 832.4)"/><ellipse cx="275.42" cy="835.34" rx="3.56" ry="2.07" transform="rotate(30.45 275.42 835.34)"/><ellipse cx="258.82" cy="832.52" rx="2.78" ry="1.99" transform="rotate(69.06 258.82 832.52)"/><ellipse cx="272.31" cy="837.58" rx="2.28" ry="1.04" transform="rotate(30.51 272.31 837.58)"/><ellipse cx="265.59" cy="844.88" rx="1.78" ry="1.12" transform="rotate(120.15 265.59 844.88)"/><ellipse cx="257.17" cy="843.2" rx="3.12" ry="2.05" transform="rotate(72.46 257.17 843.2)"/></g>
<g fill="#f6eef4"><ellipse cx="269.22" cy="827.08" rx="0.83" ry="0.69" transform="rotate(50.79 269.22 827.08)"/><ellipse cx="252.38" cy="829.3" rx="0.95" ry="0.54" transform="rotate(26.94 252.38 829.3)"/><ellipse cx="253.35" cy="829.9" rx="0.86" ry="0.88" transform="rotate(98.9 253.35 829.9)"/><ellipse cx="260.39" cy="827.34" rx="0.83" ry="0.62" transform="rotate(154.29 260.39 827.34)"/><ellipse cx="253.73" cy="829.57" rx="0.83" ry="0.87" transform="rotate(78.78 253.73 829.57)"/><ellipse cx="262.29" cy="829.06" rx="1.42" ry="1.03" transform="rotate(176.98 262.29 829.06)"/><ellipse cx="271.39" cy="821.56" rx="0.64" ry="0.4" transform="rotate(25.63 271.39 821.56)"/><ellipse cx="273.19" cy="823.99" rx="1.34" ry="1.41" transform="rotate(83.02 273.19 823.99)"/><ellipse cx="260.61" cy="834.52" rx="1.62" ry="1.09" transform="rotate(72.89 260.61 834.52)"/></g>
<polygon points="207,759 238,759 229.7,775.5 217.3,776.6 207,771.4" fill="#ffffff" stroke="#ffffff" stroke-width="1.5" stroke-linejoin="round"/>
<polygon points="263,769 275,767 273,778 262,791 255,798 254,792" fill="#ffffff" stroke="#ffffff" stroke-width="1.5" stroke-linejoin="round"/>
<g fill="none" stroke="#b874b0" opacity="0.8"><path d="M273 782 C271.17 784 265 790 262 794 C259 798 256.83 801.67 255 806 C253.17 810.33 252.67 815.33 251 820 C249.33 824.67 246 831.67 245 834" stroke-width="2.0"/></g>
<g fill="none" stroke="#ffffff" stroke-linecap="round"><path d="M269 778.6 C267.27 780.33 261.37 785.2 258.6 789 C255.83 792.8 254.12 796.93 252.4 801.4 C250.68 805.87 250.03 810.98 248.3 815.8 C246.57 820.62 244.42 827.2 242 830.3 C239.58 833.4 235.17 833.72 233.8 834.4" stroke-width="2.2"/></g>
<g fill="#c8386a"><ellipse cx="288.62" cy="838.12" rx="0.89" ry="0.52" transform="rotate(25.59 288.62 838.12)"/><ellipse cx="288.62" cy="805.44" rx="0.95" ry="0.52" transform="rotate(176.88 288.62 805.44)"/><ellipse cx="285.43" cy="809.85" rx="0.51" ry="0.34" transform="rotate(116.84 285.43 809.85)"/><ellipse cx="288.89" cy="807.44" rx="0.8" ry="0.38" transform="rotate(73.4 288.89 807.44)"/><ellipse cx="282.51" cy="829.55" rx="0.54" ry="0.34" transform="rotate(146.74 282.51 829.55)"/><ellipse cx="286.15" cy="814.75" rx="0.63" ry="0.5" transform="rotate(23.2 286.15 814.75)"/><ellipse cx="289.8" cy="826.58" rx="0.5" ry="0.3" transform="rotate(131.99 289.8 826.58)"/><ellipse cx="283.28" cy="812.51" rx="0.89" ry="0.5" transform="rotate(106.71 283.28 812.51)"/><ellipse cx="292.48" cy="826.91" rx="0.97" ry="0.81" transform="rotate(5.88 292.48 826.91)"/><ellipse cx="280.35" cy="807.17" rx="0.69" ry="0.47" transform="rotate(12.62 280.35 807.17)"/><ellipse cx="288.89" cy="835.38" rx="0.74" ry="0.64" transform="rotate(13.6 288.89 835.38)"/><ellipse cx="285.57" cy="832.93" rx="0.69" ry="0.44" transform="rotate(120.38 285.57 832.93)"/><ellipse cx="290.3" cy="814.72" rx="0.75" ry="0.4" transform="rotate(142.02 290.3 814.72)"/><ellipse cx="282.83" cy="804.6" rx="0.61" ry="0.44" transform="rotate(147.6 282.83 804.6)"/><ellipse cx="284.34" cy="802.91" rx="0.73" ry="0.42" transform="rotate(100.15 284.34 802.91)"/><ellipse cx="287.16" cy="820.04" rx="0.64" ry="0.34" transform="rotate(102.78 287.16 820.04)"/><ellipse cx="292.03" cy="823.4" rx="0.67" ry="0.46" transform="rotate(25.4 292.03 823.4)"/><ellipse cx="281.25" cy="817.87" rx="0.87" ry="0.4" transform="rotate(158.6 281.25 817.87)"/></g>
<polygon points="293,759 319.8,759 311.6,764.2 293,773.5" fill="#c8e6e1" stroke="#c8e6e1" stroke-width="2" stroke-linejoin="round" opacity="0.85"/>
<path d="M299.26 763.14l8.36 -7.07M304.79 759.58l4.91 -4.05M296.88 772.96l7.85 -6.96M293.96 759.08l8.27 -7.59M294.72 765.98l5.32 -6.49M310.57 761.31l9.67 -4.27M311.63 763.7l8.58 -8.25M298.5 770.39l3.51 -2.63M307.54 764.51l6.42 -4.44M302.34 760.86l10.65 -3.89M308.89 763.39l4.11 -2.76M293.66 765.36l4.47 -1.49M307.56 771.64l5.99 -2.24M299.94 770.23l7.31 -5.33" stroke="#6cbfb4" stroke-width="1.0" opacity="0.55" fill="none"/>
<g fill="#6cbfb4"><ellipse cx="308.28" cy="769.25" rx="1.53" ry="0.91" transform="rotate(104.78 308.28 769.25)"/><ellipse cx="295.6" cy="762.09" rx="0.56" ry="0.58" transform="rotate(156.52 295.6 762.09)"/><ellipse cx="295.15" cy="764.57" rx="0.82" ry="0.75" transform="rotate(178.58 295.15 764.57)"/><ellipse cx="300.19" cy="760.75" rx="0.74" ry="0.5" transform="rotate(8.72 300.19 760.75)"/><ellipse cx="309.37" cy="770.77" rx="0.57" ry="0.6" transform="rotate(161.66 309.37 770.77)"/><ellipse cx="307.85" cy="763.31" rx="0.86" ry="0.53" transform="rotate(79.68 307.85 763.31)"/><ellipse cx="313.38" cy="765.6" rx="0.88" ry="0.52" transform="rotate(147.05 313.38 765.6)"/><ellipse cx="313.52" cy="769.82" rx="1.17" ry="0.87" transform="rotate(164.04 313.52 769.82)"/><ellipse cx="306.79" cy="761.69" rx="0.8" ry="0.49" transform="rotate(95.32 306.79 761.69)"/><ellipse cx="310.39" cy="762.69" rx="1.23" ry="1.22" transform="rotate(176.49 310.39 762.69)"/></g>
<polygon points="293,830.3 306.4,832.3 308.5,848 293,848" fill="#c8e6e1" stroke="#c8e6e1" stroke-width="2" stroke-linejoin="round" opacity="0.85"/>
<path d="M306.17 830.37l7.67 -3.32M294.09 845.63l7.98 -2.57M305.37 845.61l8.51 -3.92M295.27 844.67l9.14 -6.54M295.37 844.11l6.26 -5.09M302.8 830.82l7.98 -4.57M294.02 834.72l10.07 -5.5M307.73 837.95l5.08 -4.61M308.22 844.18l3.93 -3.01M298.88 835.92l9.45 -6.01M300.35 846.05l10.11 -3.73M296.87 844.55l6.67 -2.37M299.54 834.78l6.24 -5.4M302.94 833.42l7.5 -7.5" stroke="#6cbfb4" stroke-width="1.0" opacity="0.55" fill="none"/>
<g fill="#6cbfb4"><ellipse cx="302.27" cy="845.23" rx="0.78" ry="0.57" transform="rotate(121.19 302.27 845.23)"/><ellipse cx="303.19" cy="834.34" rx="0.56" ry="0.6" transform="rotate(145.5 303.19 834.34)"/><ellipse cx="305.78" cy="837.51" rx="0.94" ry="0.44" transform="rotate(115.08 305.78 837.51)"/><ellipse cx="304.39" cy="839.45" rx="1" ry="0.71" transform="rotate(97.02 304.39 839.45)"/><ellipse cx="295.88" cy="843.1" rx="1.16" ry="0.6" transform="rotate(99.27 295.88 843.1)"/><ellipse cx="294.39" cy="838.56" rx="1.05" ry="0.52" transform="rotate(71.53 294.39 838.56)"/><ellipse cx="301.03" cy="841.58" rx="0.54" ry="0.55" transform="rotate(131.72 301.03 841.58)"/><ellipse cx="294.35" cy="835.62" rx="0.88" ry="0.81" transform="rotate(48.79 294.35 835.62)"/><ellipse cx="302.13" cy="839.75" rx="1.41" ry="1.18" transform="rotate(50.36 302.13 839.75)"/><ellipse cx="297.82" cy="840.28" rx="1.34" ry="0.93" transform="rotate(105.32 297.82 840.28)"/></g>
<g fill="#fbf6fa"><ellipse cx="294.8" cy="809.59" rx="2.68" ry="2.81" transform="rotate(51.58 294.8 809.59)"/><ellipse cx="296.06" cy="790.75" rx="2.64" ry="1.76" transform="rotate(121.89 296.06 790.75)"/><ellipse cx="303.49" cy="803.94" rx="3.76" ry="2.29" transform="rotate(63.79 303.49 803.94)"/><ellipse cx="304.14" cy="790.73" rx="1.91" ry="1.73" transform="rotate(128.44 304.14 790.73)"/><ellipse cx="296.63" cy="794.82" rx="1.85" ry="0.92" transform="rotate(1.75 296.63 794.82)"/><ellipse cx="300.61" cy="793.12" rx="2.55" ry="2.09" transform="rotate(159.95 300.61 793.12)"/></g>
<g fill="#f6eef4"><ellipse cx="295.61" cy="794.25" rx="0.78" ry="0.67" transform="rotate(33.21 295.61 794.25)"/><ellipse cx="297.41" cy="792.42" rx="0.75" ry="0.47" transform="rotate(126.92 297.41 792.42)"/><ellipse cx="294.4" cy="802.01" rx="0.69" ry="0.32" transform="rotate(98.5 294.4 802.01)"/><ellipse cx="301.75" cy="793.24" rx="0.77" ry="0.36" transform="rotate(152.29 301.75 793.24)"/><ellipse cx="297.96" cy="790.72" rx="0.75" ry="0.71" transform="rotate(52.03 297.96 790.72)"/><ellipse cx="293.95" cy="798.34" rx="0.79" ry="0.43" transform="rotate(119.49 293.95 798.34)"/><ellipse cx="299.82" cy="787.19" rx="0.95" ry="0.85" transform="rotate(41.13 299.82 787.19)"/></g>
<g fill="#fbf6fa"><ellipse cx="335.84" cy="829.98" rx="4.39" ry="3.8" transform="rotate(29.19 335.84 829.98)"/><ellipse cx="333.74" cy="804.62" rx="2.07" ry="2" transform="rotate(157 333.74 804.62)"/><ellipse cx="341.55" cy="809.37" rx="4.06" ry="3.23" transform="rotate(128.68 341.55 809.37)"/><ellipse cx="336.68" cy="824.86" rx="2.11" ry="2" transform="rotate(6.32 336.68 824.86)"/><ellipse cx="337.46" cy="803.99" rx="3.28" ry="3.09" transform="rotate(164.06 337.46 803.99)"/><ellipse cx="346.69" cy="828.48" rx="3.97" ry="3.84" transform="rotate(37.44 346.69 828.48)"/><ellipse cx="337.66" cy="817.35" rx="4.21" ry="4.19" transform="rotate(176.89 337.66 817.35)"/><ellipse cx="339.85" cy="842.44" rx="3.16" ry="1.78" transform="rotate(69.76 339.85 842.44)"/><ellipse cx="349.49" cy="813.45" rx="3.03" ry="1.77" transform="rotate(62.57 349.49 813.45)"/><ellipse cx="345.36" cy="836.44" rx="2.16" ry="1.12" transform="rotate(74.13 345.36 836.44)"/></g>
<g fill="#f6eef4"><ellipse cx="341.94" cy="841.76" rx="1.13" ry="1.05" transform="rotate(23.24 341.94 841.76)"/><ellipse cx="328.96" cy="823.79" rx="0.65" ry="0.43" transform="rotate(134.25 328.96 823.79)"/><ellipse cx="334.61" cy="826.29" rx="2" ry="1.83" transform="rotate(46.92 334.61 826.29)"/><ellipse cx="340.56" cy="808.57" rx="1.86" ry="1.62" transform="rotate(73.6 340.56 808.57)"/><ellipse cx="342.85" cy="839.43" rx="1.16" ry="0.95" transform="rotate(155.82 342.85 839.43)"/><ellipse cx="347.69" cy="815.75" rx="0.77" ry="0.83" transform="rotate(83.97 347.69 815.75)"/><ellipse cx="350.8" cy="818.53" rx="1.41" ry="0.89" transform="rotate(99.31 350.8 818.53)"/><ellipse cx="349.09" cy="828.12" rx="0.61" ry="0.35" transform="rotate(169.86 349.09 828.12)"/><ellipse cx="334.78" cy="822.67" rx="0.94" ry="0.97" transform="rotate(152.86 334.78 822.67)"/><ellipse cx="335.19" cy="829.46" rx="1.48" ry="0.76" transform="rotate(50.31 335.19 829.46)"/><ellipse cx="342.51" cy="829.55" rx="1.33" ry="1.12" transform="rotate(51.76 342.51 829.55)"/><ellipse cx="333.31" cy="823.62" rx="1.13" ry="0.53" transform="rotate(138.07 333.31 823.62)"/></g>
<g fill="#fbf6fa"><ellipse cx="374.63" cy="777.51" rx="2.68" ry="2.01" transform="rotate(123.92 374.63 777.51)"/><ellipse cx="372.54" cy="770.77" rx="3.23" ry="2.14" transform="rotate(122.24 372.54 770.77)"/><ellipse cx="370.98" cy="772.3" rx="1.67" ry="1.61" transform="rotate(54.61 370.98 772.3)"/><ellipse cx="372.01" cy="773.48" rx="2.63" ry="1.76" transform="rotate(25.18 372.01 773.48)"/></g>
<g fill="#f6eef4"><ellipse cx="375.65" cy="776.13" rx="1.22" ry="0.9" transform="rotate(81.86 375.65 776.13)"/><ellipse cx="370.89" cy="775.33" rx="1.38" ry="1.03" transform="rotate(39.02 370.89 775.33)"/><ellipse cx="371.38" cy="775.35" rx="1.12" ry="1.18" transform="rotate(97.27 371.38 775.35)"/><ellipse cx="376.49" cy="783.71" rx="1.16" ry="0.52" transform="rotate(166.09 376.49 783.71)"/></g>
<polygon points="305,848 307,832 313,820 315,833 312,848" fill="#ffffff" stroke="#ffffff" stroke-width="1.5" stroke-linejoin="round"/>
<polygon points="371.5,815.8 379,815.8 379,830.3 371.5,829.2" fill="#ffffff" stroke="#ffffff" stroke-width="1.5" stroke-linejoin="round"/>
<g fill="none" stroke="#b874b0" opacity="0.8"><path d="M338 762 C340.5 762 350.67 761.33 353 762 C355.33 762.67 352.17 765.33 352 766" stroke-width="3"/><path d="M339 773 C337.5 775.5 332.5 783.33 330 788 C327.5 792.67 325.83 796.33 324 801 C322.17 805.67 320.5 810.67 319 816 C317.5 821.33 315.83 827.67 315 833 C314.17 838.33 314.17 845.5 314 848" stroke-width="1.6"/><path d="M354 768 C354 770 353.33 775.83 354 780 C354.67 784.17 356 788.83 358 793 C360 797.17 363.33 801.67 366 805 C368.67 808.33 372.67 811.67 374 813" stroke-width="1.8"/></g>
<g fill="none" stroke="#ffffff" stroke-linecap="round"><path d="M347.7 768.3 C345.82 769.5 339.68 772.4 336.4 775.5 C333.12 778.6 330.42 782.93 328 786.9 C325.58 790.87 323.78 795 321.9 799.3 C320.02 803.6 318.25 808.58 316.7 812.7 C315.15 816.82 313.97 820.73 312.6 824 C311.23 827.27 309.7 828.3 308.5 832.3 C307.3 836.3 305.92 845.38 305.4 848" stroke-width="2.5"/><path d="M350.8 764.2 C350.8 766.6 350.1 773.97 350.8 778.6 C351.5 783.23 352.93 787.7 355 792 C357.07 796.3 360.45 800.78 363.2 804.4 C365.95 808.02 369.62 811.1 371.5 813.7 C373.38 816.3 374 818.95 374.5 820" stroke-width="2"/></g>
<g fill="none" stroke="#d42458"><path d="M293 773.5 C294.72 772.47 298.83 769.55 303.3 767.3 C307.77 765.05 317.05 761.22 319.8 760" stroke-width="2.0"/></g>
<polygon points="390.4,759 464,759 464,768.3 444,768.3 431.7,772.5 404.8,774.5 392.5,771.4" fill="#c8e6e1" stroke="#c8e6e1" stroke-width="2" stroke-linejoin="round" opacity="0.85"/>
<path d="M394.02 769.56l2.7 -3.39M400.22 764.41l4.27 -3.07M411.42 764.89l5.07 -2.11M443.29 772.69l5.86 -4.78M395.44 768.42l7.8 -4.87M453.74 768.98l7.5 -5.85M399.68 767.82l8.35 -7.4M463.3 770.24l7.2 -5.86M449.78 774.47l3.32 -3.93M408.64 767.67l6.42 -3.12M449.3 759.1l8.54 -4.86M407.15 770.26l3.55 -3.04M433.34 760.49l6.95 -5.84M441.78 760.91l6.02 -6.61" stroke="#6cbfb4" stroke-width="1.0" opacity="0.55" fill="none"/>
<g fill="#6cbfb4"><ellipse cx="421.6" cy="761.56" rx="0.98" ry="0.94" transform="rotate(31.16 421.6 761.56)"/><ellipse cx="414.25" cy="770.07" rx="0.82" ry="0.52" transform="rotate(105.79 414.25 770.07)"/><ellipse cx="446.53" cy="764.38" rx="0.78" ry="0.77" transform="rotate(165.28 446.53 764.38)"/><ellipse cx="419.19" cy="766.5" rx="1.15" ry="1.13" transform="rotate(28.56 419.19 766.5)"/><ellipse cx="404.26" cy="772.33" rx="1.19" ry="1.08" transform="rotate(57.55 404.26 772.33)"/><ellipse cx="402.97" cy="771.82" rx="1.36" ry="1.31" transform="rotate(22.08 402.97 771.82)"/><ellipse cx="454.42" cy="764.88" rx="1.29" ry="1.16" transform="rotate(130.89 454.42 764.88)"/><ellipse cx="427.66" cy="762.43" rx="1.34" ry="0.66" transform="rotate(139.51 427.66 762.43)"/><ellipse cx="412.15" cy="766.69" rx="0.99" ry="0.94" transform="rotate(124.28 412.15 766.69)"/><ellipse cx="446.43" cy="763.67" rx="1.54" ry="0.81" transform="rotate(91.75 446.43 763.67)"/></g>
<polygon points="378,818 406.9,824 413,848 378,848" fill="#c8e6e1" stroke="#c8e6e1" stroke-width="2" stroke-linejoin="round" opacity="0.85"/>
<path d="M409.34 824.03l10.22 -3.57M396.39 842.19l8.36 -3.7M400.5 827.73l7.43 -8.47M410.64 844.95l5.48 -4.86M391.53 824.89l4.88 -3.28M398.57 841.02l7.16 -4.69M400.6 830.52l10.21 -3.19M400.72 823.8l5.9 -4.61M411.62 827.95l4.87 -4.81M399.91 844.82l6.38 -6.47M403.58 847.41l9.93 -5.92M388.19 824.62l7.55 -5.11M399.54 840.3l4.11 -3.13M399.96 847.53l10.1 -5.84" stroke="#6cbfb4" stroke-width="1.0" opacity="0.55" fill="none"/>
<g fill="#6cbfb4"><ellipse cx="396.04" cy="835.96" rx="1.36" ry="1.18" transform="rotate(141.29 396.04 835.96)"/><ellipse cx="393.5" cy="835.41" rx="1.19" ry="0.97" transform="rotate(63.77 393.5 835.41)"/><ellipse cx="398.97" cy="846.88" rx="1.4" ry="0.89" transform="rotate(36.99 398.97 846.88)"/><ellipse cx="401.43" cy="826.92" rx="1.56" ry="0.72" transform="rotate(156.41 401.43 826.92)"/><ellipse cx="384.46" cy="840.12" rx="1.24" ry="0.75" transform="rotate(83.51 384.46 840.12)"/><ellipse cx="396.87" cy="829.01" rx="1.12" ry="0.55" transform="rotate(131.15 396.87 829.01)"/><ellipse cx="385.62" cy="838.91" rx="0.73" ry="0.55" transform="rotate(144.37 385.62 838.91)"/><ellipse cx="390.41" cy="845.2" rx="1.24" ry="0.84" transform="rotate(39.68 390.41 845.2)"/><ellipse cx="390.19" cy="840.76" rx="0.71" ry="0.62" transform="rotate(69.63 390.19 840.76)"/><ellipse cx="392.06" cy="843.36" rx="1.21" ry="0.71" transform="rotate(166.52 392.06 843.36)"/></g>
<g fill="#fbf6fa"><ellipse cx="403.79" cy="805.97" rx="2.61" ry="2.48" transform="rotate(167.93 403.79 805.97)"/><ellipse cx="396.39" cy="798.81" rx="1.51" ry="1.21" transform="rotate(58.27 396.39 798.81)"/><ellipse cx="391.74" cy="801.54" rx="2.62" ry="2.41" transform="rotate(23.31 391.74 801.54)"/><ellipse cx="399.69" cy="807.03" rx="1.67" ry="1.46" transform="rotate(138.17 399.69 807.03)"/><ellipse cx="408.4" cy="809.24" rx="2.08" ry="1.37" transform="rotate(164.28 408.4 809.24)"/><ellipse cx="402.02" cy="814.36" rx="2.98" ry="2.38" transform="rotate(6.01 402.02 814.36)"/><ellipse cx="390.12" cy="801.42" rx="2.2" ry="1.81" transform="rotate(11.13 390.12 801.42)"/><ellipse cx="413.37" cy="806.28" rx="2.23" ry="1.2" transform="rotate(30.29 413.37 806.28)"/><ellipse cx="407.68" cy="810.58" rx="1.57" ry="0.81" transform="rotate(133.44 407.68 810.58)"/><ellipse cx="397.09" cy="814.6" rx="2.75" ry="1.65" transform="rotate(92.32 397.09 814.6)"/><ellipse cx="396.97" cy="810.43" rx="3.05" ry="3.05" transform="rotate(102.14 396.97 810.43)"/><ellipse cx="390.48" cy="803.48" rx="1.88" ry="1.68" transform="rotate(122.71 390.48 803.48)"/><ellipse cx="387.27" cy="803.93" rx="2.29" ry="1.64" transform="rotate(133.2 387.27 803.93)"/><ellipse cx="395.51" cy="811.47" rx="2.39" ry="1.86" transform="rotate(111.14 395.51 811.47)"/></g>
<g fill="#f6eef4"><ellipse cx="403.95" cy="810.57" rx="1.06" ry="0.75" transform="rotate(54.06 403.95 810.57)"/><ellipse cx="393.82" cy="805.82" rx="1.17" ry="1.15" transform="rotate(142.53 393.82 805.82)"/><ellipse cx="402.68" cy="805.27" rx="0.53" ry="0.3" transform="rotate(137.14 402.68 805.27)"/><ellipse cx="407.78" cy="808.97" rx="1.4" ry="0.77" transform="rotate(15.19 407.78 808.97)"/><ellipse cx="409.3" cy="805.52" rx="1.05" ry="0.8" transform="rotate(150.3 409.3 805.52)"/><ellipse cx="393.91" cy="808.78" rx="1.38" ry="1.15" transform="rotate(145.22 393.91 808.78)"/><ellipse cx="387.46" cy="808.68" rx="0.87" ry="0.47" transform="rotate(175.99 387.46 808.68)"/><ellipse cx="406.91" cy="805.34" rx="0.79" ry="0.65" transform="rotate(79.74 406.91 805.34)"/><ellipse cx="395.94" cy="797.66" rx="1.16" ry="0.83" transform="rotate(42.13 395.94 797.66)"/><ellipse cx="405.64" cy="799.51" rx="0.52" ry="0.49" transform="rotate(24.73 405.64 799.51)"/><ellipse cx="395.77" cy="811.11" rx="1.34" ry="1.35" transform="rotate(61.65 395.77 811.11)"/><ellipse cx="411.15" cy="807.15" rx="1.1" ry="0.49" transform="rotate(88.79 411.15 807.15)"/><ellipse cx="404.01" cy="798.04" rx="0.57" ry="0.45" transform="rotate(107.38 404.01 798.04)"/><ellipse cx="398.39" cy="804.92" rx="1.41" ry="0.84" transform="rotate(147.07 398.39 804.92)"/><ellipse cx="386.7" cy="807.87" rx="0.8" ry="0.39" transform="rotate(91.47 386.7 807.87)"/><ellipse cx="401.08" cy="805.7" rx="1.11" ry="1.13" transform="rotate(57.04 401.08 805.7)"/></g>
<g fill="#fbf6fa"><ellipse cx="387.49" cy="791.58" rx="2.54" ry="2.67" transform="rotate(120.29 387.49 791.58)"/><ellipse cx="382.33" cy="800" rx="2.33" ry="1.26" transform="rotate(84.14 382.33 800)"/><ellipse cx="386.54" cy="800.13" rx="2.45" ry="2.51" transform="rotate(145.97 386.54 800.13)"/><ellipse cx="384.3" cy="790.02" rx="1.82" ry="1.25" transform="rotate(88.06 384.3 790.02)"/><ellipse cx="385.83" cy="795.96" rx="2.52" ry="1.72" transform="rotate(51.27 385.83 795.96)"/></g>
<g fill="#f6eef4"><ellipse cx="389.9" cy="789.85" rx="0.71" ry="0.75" transform="rotate(172.11 389.9 789.85)"/><ellipse cx="387.53" cy="798.9" rx="0.89" ry="0.73" transform="rotate(125.16 387.53 798.9)"/><ellipse cx="381.78" cy="799.77" rx="0.73" ry="0.75" transform="rotate(2.33 381.78 799.77)"/><ellipse cx="389.26" cy="795.53" rx="1.44" ry="0.89" transform="rotate(41.52 389.26 795.53)"/><ellipse cx="384.55" cy="787.12" rx="0.77" ry="0.4" transform="rotate(93.02 384.55 787.12)"/><ellipse cx="389.78" cy="791.27" rx="1.11" ry="0.62" transform="rotate(31.56 389.78 791.27)"/></g>
<g fill="#fbf6fa"><ellipse cx="439.86" cy="821.17" rx="2.9" ry="2.75" transform="rotate(149.05 439.86 821.17)"/><ellipse cx="437.12" cy="837.26" rx="2.04" ry="1.7" transform="rotate(23.55 437.12 837.26)"/><ellipse cx="430.46" cy="826.14" rx="2.98" ry="1.98" transform="rotate(128.59 430.46 826.14)"/><ellipse cx="425.41" cy="838.17" rx="2.13" ry="1.47" transform="rotate(95.34 425.41 838.17)"/><ellipse cx="431.72" cy="830.9" rx="1.79" ry="1.55" transform="rotate(64.11 431.72 830.9)"/><ellipse cx="424.41" cy="835.94" rx="2.55" ry="2.28" transform="rotate(77.12 424.41 835.94)"/><ellipse cx="427.53" cy="827.93" rx="2.03" ry="1.5" transform="rotate(170.61 427.53 827.93)"/><ellipse cx="434.88" cy="836.28" rx="2.53" ry="1.17" transform="rotate(30.18 434.88 836.28)"/></g>
<g fill="#f6eef4"><ellipse cx="428.16" cy="825.55" rx="0.52" ry="0.29" transform="rotate(70.06 428.16 825.55)"/><ellipse cx="439.94" cy="822.96" rx="0.98" ry="0.58" transform="rotate(76.94 439.94 822.96)"/><ellipse cx="441.11" cy="835.43" rx="0.83" ry="0.87" transform="rotate(16.58 441.11 835.43)"/><ellipse cx="431.79" cy="820.98" rx="0.55" ry="0.38" transform="rotate(59.54 431.79 820.98)"/><ellipse cx="433.72" cy="841.87" rx="0.87" ry="0.51" transform="rotate(71.69 433.72 841.87)"/><ellipse cx="433.52" cy="828.77" rx="1.01" ry="0.89" transform="rotate(12.8 433.52 828.77)"/><ellipse cx="425.81" cy="831.14" rx="1.05" ry="1.01" transform="rotate(155.56 425.81 831.14)"/><ellipse cx="432.3" cy="841.73" rx="0.75" ry="0.68" transform="rotate(177.77 432.3 841.73)"/><ellipse cx="432.84" cy="836.32" rx="1.02" ry="1" transform="rotate(107.53 432.84 836.32)"/></g>
<polygon points="378,759 390.4,759 392.5,771.4 378,770.4" fill="#ffffff" stroke="#ffffff" stroke-width="1.5" stroke-linejoin="round"/>
<polygon points="405,822 417,821 413,833 414,848 408,848" fill="#ffffff" stroke="#ffffff" stroke-width="1.5" stroke-linejoin="round"/>
<g fill="none" stroke="#b874b0" opacity="0.8"><path d="M394 776 C395.83 776.67 401.67 778.67 405 780 C408.33 781.33 410 783.17 414 784 C418 784.83 426.5 784.83 429 785" stroke-width="1.6"/><path d="M446 770 C446 773.17 446.83 783.5 446 789 C445.17 794.5 443.67 798.67 441 803 C438.33 807.33 433.67 811.5 430 815 C426.33 818.5 421.5 821 419 824 C416.5 827 415.5 829 415 833 C414.5 837 415.83 845.5 416 848" stroke-width="1.8"/></g>
<g fill="none" stroke="#ffffff" stroke-linecap="round"><path d="M378 770.4 C380.58 770.92 389.03 772.3 393.5 773.5 C397.97 774.7 401.38 776.23 404.8 777.6 C408.22 778.97 409.87 780.83 414 781.7 C418.13 782.57 424.93 782.8 429.6 782.8 C434.27 782.8 439.77 783.93 442 781.7 C444.23 779.47 442.83 771.45 443 769.4" stroke-width="2.5"/><path d="M443 769.4 C443 772.67 443.85 783.5 443 789 C442.15 794.5 440.47 798.28 437.9 802.4 C435.33 806.52 431.05 810.43 427.6 813.7 C424.15 816.97 419.8 819.23 417.2 822 C414.6 824.77 412.7 825.97 412 830.3 C411.3 834.63 412.83 845.05 413 848" stroke-width="2.5"/></g>
<g fill="none" stroke="#d42458"><path d="M459.5 783.8 C459.67 786.17 460.58 793.13 460.5 798 C460.42 802.87 459.08 808 459 813 C458.92 818 459.92 822.17 460 828 C460.08 833.83 459.58 844.67 459.5 848" stroke-width="2.6"/></g>
<polygon points="464,759 492.9,759 490.8,767.3 476.4,775.5 464,780.7" fill="#c8e6e1" stroke="#c8e6e1" stroke-width="2" stroke-linejoin="round" opacity="0.85"/>
<path d="M486.06 767.61l4.45 -1.63M467.35 774.19l6.96 -5.04M472.89 770.77l7.27 -8.3M481.28 779.41l9.22 -2.93M468.85 767.34l4.29 -1.57M475.13 778.27l8.07 -7.59M484.24 767.93l5.64 -7.02M491.02 776.87l9.84 -6.25M487.99 775.94l2.88 -2.88M484.22 778.93l3.28 -2.54M491.77 772.13l9.22 -5.8M477.52 777.66l8.65 -7.93M470.11 766.47l5.52 -6.34M472.5 773.05l5.89 -4.07" stroke="#6cbfb4" stroke-width="1.0" opacity="0.55" fill="none"/>
<g fill="#6cbfb4"><ellipse cx="480.19" cy="771.63" rx="1.44" ry="1.16" transform="rotate(132.44 480.19 771.63)"/><ellipse cx="472.32" cy="767" rx="1.13" ry="1.25" transform="rotate(83.49 472.32 767)"/><ellipse cx="481.22" cy="762.6" rx="1.12" ry="1.1" transform="rotate(4.83 481.22 762.6)"/><ellipse cx="471.19" cy="768.2" rx="1.42" ry="1.11" transform="rotate(93.25 471.19 768.2)"/><ellipse cx="474.64" cy="763.94" rx="0.63" ry="0.64" transform="rotate(151.21 474.64 763.94)"/><ellipse cx="468.88" cy="775.71" rx="1.06" ry="0.91" transform="rotate(76.4 468.88 775.71)"/><ellipse cx="482.41" cy="776.32" rx="0.64" ry="0.54" transform="rotate(53.06 482.41 776.32)"/><ellipse cx="479.73" cy="776.36" rx="0.7" ry="0.44" transform="rotate(82.05 479.73 776.36)"/><ellipse cx="476.78" cy="774.68" rx="0.51" ry="0.25" transform="rotate(80.52 476.78 774.68)"/><ellipse cx="475.41" cy="772.56" rx="0.97" ry="0.75" transform="rotate(30.5 475.41 772.56)"/></g>
<polygon points="531,759 550,759 550,781.7 538.3,770.4" fill="#c8e6e1" stroke="#c8e6e1" stroke-width="2" stroke-linejoin="round" opacity="0.85"/>
<path d="M533.52 769.11l3.88 -2.55M543.56 759.51l5.42 -5.28M538.31 779.52l5.05 -2.4M540.13 770.66l2.92 -3.19M549.98 764.38l8.69 -4.96M537.25 777.83l9.47 -3.08M543.7 770.74l5.16 -3.78M539.6 759.37l6.83 -2.32M535.54 763.33l7.78 -4.25M534.3 780.05l4.84 -4.19M545.63 765.71l3.34 -3.14M535.99 778.76l9.28 -6.37M543.46 773.12l3.69 -1.78M533.81 763.73l5.07 -3.65" stroke="#6cbfb4" stroke-width="1.0" opacity="0.55" fill="none"/>
<g fill="#6cbfb4"><ellipse cx="537.73" cy="772.04" rx="1.44" ry="1.21" transform="rotate(140.36 537.73 772.04)"/><ellipse cx="540.47" cy="774.77" rx="1.5" ry="0.75" transform="rotate(83.1 540.47 774.77)"/><ellipse cx="541.61" cy="769.24" rx="1.14" ry="0.57" transform="rotate(129.55 541.61 769.24)"/><ellipse cx="547.27" cy="771.15" rx="1.42" ry="1.51" transform="rotate(71.04 547.27 771.15)"/><ellipse cx="536.8" cy="774.5" rx="0.92" ry="1" transform="rotate(126.04 536.8 774.5)"/><ellipse cx="532.35" cy="769.13" rx="1.42" ry="1.25" transform="rotate(88.85 532.35 769.13)"/><ellipse cx="536.99" cy="763.4" rx="0.55" ry="0.25" transform="rotate(159.6 536.99 763.4)"/><ellipse cx="537.69" cy="762.3" rx="1.3" ry="1.13" transform="rotate(53.57 537.69 762.3)"/><ellipse cx="541" cy="770.99" rx="0.6" ry="0.43" transform="rotate(54.18 541 770.99)"/><ellipse cx="540.91" cy="778.43" rx="1.31" ry="1.13" transform="rotate(138.17 540.91 778.43)"/></g>
<polygon points="464,822 480.5,820 490.8,828.2 501.2,848 464,848" fill="#c8e6e1" stroke="#c8e6e1" stroke-width="2" stroke-linejoin="round" opacity="0.85"/>
<path d="M467.03 823.01l8.27 -4.23M491.79 824.29l7.44 -4.02M466.23 837.57l3.76 -3.45M484.78 822.75l7.24 -3.25M480.08 830.14l5.91 -2.05M474.32 820.52l5.16 -4.49M500.79 826l6.75 -8.3M479.02 835.38l7.09 -8.17M481.57 840.15l10.21 -3.25M469.59 838.99l4.19 -4.21M499.06 836.7l7.14 -6.47M494.22 842.18l4.73 -2.68M468.57 838.02l5.31 -3.37M465.65 845.87l5.31 -4.25" stroke="#6cbfb4" stroke-width="1.0" opacity="0.55" fill="none"/>
<g fill="#6cbfb4"><ellipse cx="485.16" cy="833.22" rx="0.54" ry="0.24" transform="rotate(122.13 485.16 833.22)"/><ellipse cx="480.42" cy="834.15" rx="0.55" ry="0.43" transform="rotate(97.85 480.42 834.15)"/><ellipse cx="470.16" cy="832.44" rx="0.7" ry="0.76" transform="rotate(126.64 470.16 832.44)"/><ellipse cx="464.95" cy="831.45" rx="0.6" ry="0.45" transform="rotate(102.23 464.95 831.45)"/><ellipse cx="491.93" cy="838.86" rx="0.54" ry="0.57" transform="rotate(75.15 491.93 838.86)"/><ellipse cx="489.99" cy="823" rx="1.08" ry="0.99" transform="rotate(8.1 489.99 823)"/><ellipse cx="475.13" cy="826.37" rx="0.84" ry="0.39" transform="rotate(169.92 475.13 826.37)"/><ellipse cx="488.04" cy="820.72" rx="0.93" ry="0.79" transform="rotate(42.24 488.04 820.72)"/><ellipse cx="474.75" cy="845.87" rx="1.17" ry="1.24" transform="rotate(41.93 474.75 845.87)"/><ellipse cx="499.13" cy="828.01" rx="0.66" ry="0.31" transform="rotate(63.78 499.13 828.01)"/></g>
<g fill="#fbf6fa"><ellipse cx="468.99" cy="818.69" rx="3.23" ry="2.46" transform="rotate(20.61 468.99 818.69)"/><ellipse cx="470.94" cy="803.35" rx="2.85" ry="1.31" transform="rotate(41.82 470.94 803.35)"/><ellipse cx="478.02" cy="794.88" rx="2.99" ry="1.43" transform="rotate(149.47 478.02 794.88)"/><ellipse cx="476.34" cy="802.61" rx="1.88" ry="1.27" transform="rotate(78.9 476.34 802.61)"/><ellipse cx="475.75" cy="807.63" rx="1.42" ry="1.38" transform="rotate(114.28 475.75 807.63)"/><ellipse cx="468.92" cy="796.34" rx="1.98" ry="1.95" transform="rotate(67.38 468.92 796.34)"/><ellipse cx="476.12" cy="807.16" rx="2.64" ry="2.45" transform="rotate(55.51 476.12 807.16)"/><ellipse cx="472.21" cy="798.46" rx="2.46" ry="2.33" transform="rotate(55.06 472.21 798.46)"/><ellipse cx="468.51" cy="791.2" rx="2.27" ry="1.31" transform="rotate(16.06 468.51 791.2)"/><ellipse cx="472.45" cy="786.76" rx="2.41" ry="1.67" transform="rotate(114.31 472.45 786.76)"/></g>
<g fill="#f6eef4"><ellipse cx="477.44" cy="800.68" rx="1.29" ry="0.76" transform="rotate(95.67 477.44 800.68)"/><ellipse cx="469.9" cy="808.55" rx="0.69" ry="0.35" transform="rotate(156.83 469.9 808.55)"/><ellipse cx="475.36" cy="819.61" rx="1.26" ry="1.26" transform="rotate(135.61 475.36 819.61)"/><ellipse cx="470.49" cy="805.68" rx="1.3" ry="0.7" transform="rotate(137.04 470.49 805.68)"/><ellipse cx="469.49" cy="804.26" rx="0.99" ry="1.08" transform="rotate(131.41 469.49 804.26)"/><ellipse cx="469.45" cy="817.93" rx="1.07" ry="0.67" transform="rotate(43.85 469.45 817.93)"/><ellipse cx="476.53" cy="787.54" rx="1.25" ry="0.61" transform="rotate(101.13 476.53 787.54)"/><ellipse cx="474.19" cy="805.84" rx="0.6" ry="0.57" transform="rotate(139.38 474.19 805.84)"/><ellipse cx="467.17" cy="791.64" rx="0.93" ry="0.88" transform="rotate(45.2 467.17 791.64)"/><ellipse cx="478.09" cy="792.23" rx="0.9" ry="0.58" transform="rotate(171.04 478.09 792.23)"/><ellipse cx="467.42" cy="798.16" rx="0.99" ry="0.52" transform="rotate(44.27 467.42 798.16)"/><ellipse cx="472.74" cy="786.4" rx="0.58" ry="0.31" transform="rotate(101.75 472.74 786.4)"/></g>
<g fill="#fbf6fa"><ellipse cx="517.58" cy="817.52" rx="1.65" ry="0.83" transform="rotate(124.49 517.58 817.52)"/><ellipse cx="504.71" cy="831.76" rx="4.11" ry="2.64" transform="rotate(65.1 504.71 831.76)"/><ellipse cx="527.18" cy="827.45" rx="3.56" ry="3.41" transform="rotate(169.6 527.18 827.45)"/><ellipse cx="532.24" cy="822.76" rx="3.17" ry="3.04" transform="rotate(65.69 532.24 822.76)"/><ellipse cx="508.2" cy="822.08" rx="2.73" ry="1.75" transform="rotate(63.75 508.2 822.08)"/><ellipse cx="514.99" cy="827.01" rx="3.38" ry="3.7" transform="rotate(153.01 514.99 827.01)"/><ellipse cx="530.05" cy="816.66" rx="2.24" ry="2.29" transform="rotate(125.37 530.05 816.66)"/><ellipse cx="501.19" cy="821.21" rx="2.47" ry="2.12" transform="rotate(126.46 501.19 821.21)"/><ellipse cx="508.49" cy="821.28" rx="3.12" ry="1.75" transform="rotate(128.7 508.49 821.28)"/><ellipse cx="510.9" cy="839.37" rx="2.16" ry="1.21" transform="rotate(146.25 510.9 839.37)"/><ellipse cx="528.95" cy="810.67" rx="3.32" ry="2.6" transform="rotate(75.18 528.95 810.67)"/><ellipse cx="522.05" cy="813.56" rx="2.72" ry="1.83" transform="rotate(43.53 522.05 813.56)"/><ellipse cx="518.03" cy="841.01" rx="3.5" ry="1.68" transform="rotate(140.74 518.03 841.01)"/><ellipse cx="527.02" cy="810.13" rx="2.29" ry="2" transform="rotate(119.22 527.02 810.13)"/></g>
<g fill="#f6eef4"><ellipse cx="506.71" cy="819.86" rx="0.88" ry="0.86" transform="rotate(77.01 506.71 819.86)"/><ellipse cx="516.14" cy="814.69" rx="0.81" ry="0.51" transform="rotate(41.86 516.14 814.69)"/><ellipse cx="511.83" cy="809.23" rx="1.12" ry="1.11" transform="rotate(153.72 511.83 809.23)"/><ellipse cx="504.98" cy="816.51" rx="1.67" ry="0.92" transform="rotate(110.86 504.98 816.51)"/><ellipse cx="509.48" cy="800.48" rx="0.83" ry="0.69" transform="rotate(148.44 509.48 800.48)"/><ellipse cx="518.8" cy="810.25" rx="0.95" ry="1" transform="rotate(26.77 518.8 810.25)"/><ellipse cx="509.35" cy="817.3" rx="1.07" ry="0.71" transform="rotate(98.39 509.35 817.3)"/><ellipse cx="509.12" cy="814.79" rx="1.87" ry="1.78" transform="rotate(165.19 509.12 814.79)"/><ellipse cx="507.51" cy="816.75" rx="0.77" ry="0.39" transform="rotate(19.82 507.51 816.75)"/><ellipse cx="508.95" cy="828.78" rx="1.52" ry="0.87" transform="rotate(69.29 508.95 828.78)"/><ellipse cx="508.68" cy="829.46" rx="1.52" ry="1.36" transform="rotate(53.89 508.68 829.46)"/><ellipse cx="522.52" cy="802.93" rx="1.74" ry="1.76" transform="rotate(154.61 522.52 802.93)"/><ellipse cx="516.97" cy="830.68" rx="1.68" ry="1.65" transform="rotate(77.17 516.97 830.68)"/><ellipse cx="513" cy="840.19" rx="1.5" ry="1.04" transform="rotate(66.47 513 840.19)"/><ellipse cx="516.98" cy="831.63" rx="0.96" ry="0.69" transform="rotate(72.82 516.98 831.63)"/><ellipse cx="506.55" cy="826.93" rx="1.02" ry="0.78" transform="rotate(169.79 506.55 826.93)"/></g>
<g fill="#fbf6fa"><ellipse cx="535.57" cy="838.29" rx="2.39" ry="1.41" transform="rotate(146.26 535.57 838.29)"/><ellipse cx="536.58" cy="831.93" rx="1.94" ry="1.34" transform="rotate(65.65 536.58 831.93)"/><ellipse cx="546.19" cy="824.13" rx="1.81" ry="1.88" transform="rotate(101.66 546.19 824.13)"/><ellipse cx="544.58" cy="836.55" rx="2.6" ry="2.25" transform="rotate(122.44 544.58 836.55)"/></g>
<g fill="#f6eef4"><ellipse cx="536.19" cy="828.54" rx="1.54" ry="0.95" transform="rotate(46.4 536.19 828.54)"/><ellipse cx="545.28" cy="836.77" rx="1.54" ry="0.89" transform="rotate(160.48 545.28 836.77)"/><ellipse cx="535.36" cy="829.86" rx="1.12" ry="1.11" transform="rotate(22.59 535.36 829.86)"/><ellipse cx="545.37" cy="829.59" rx="1.3" ry="1.33" transform="rotate(107.27 545.37 829.59)"/></g>
<polygon points="509,759 516,759 516,774 513,774" fill="#ffffff" stroke="#ffffff" stroke-width="1.5" stroke-linejoin="round"/>
<polygon points="480,821 486,816 488,830 484,832" fill="#ffffff" stroke="#ffffff" stroke-width="1.5" stroke-linejoin="round"/>
<g fill="none" stroke="#b874b0" opacity="0.8"><path d="M512 772 C510.67 772.17 506.83 772 504 773 C501.17 774 497.67 775.5 495 778 C492.33 780.5 490 784 488 788 C486 792 484.17 797.83 483 802 C481.83 806.17 481.33 811.17 481 813" stroke-width="1.8"/><path d="M492 791 C491.33 793.17 488.67 799.5 488 804 C487.33 808.5 487.5 813.17 488 818 C488.5 822.83 489.67 828.33 491 833 C492.33 837.67 495.17 843.83 496 846" stroke-width="1.4"/><path d="M517 778 C517.17 779.83 516.67 785.67 518 789 C519.33 792.33 522.17 795.5 525 798 C527.83 800.5 531.83 802 535 804 C538.17 806 542.5 809 544 810" stroke-width="1.8"/></g>
<g fill="none" stroke="#ffffff" stroke-linecap="round"><path d="M509.4 759 C510.43 760.22 514.73 763.72 515.6 766.3 C516.47 768.88 514.77 773.13 514.6 774.5" stroke-width="2.5"/><path d="M514.6 774.5 C513.4 774.67 510 774.63 507.4 775.5 C504.8 776.37 501.77 777.45 499 779.7 C496.23 781.95 493.02 785.22 490.8 789 C488.58 792.78 486.9 798.28 485.7 802.4 C484.5 806.52 484.63 810.77 483.6 813.7 C482.57 816.63 480.18 818.95 479.5 820" stroke-width="3.6"/><path d="M514.6 776.6 C514.77 778.67 514.23 785.22 515.6 789 C516.97 792.78 519.7 796.38 522.8 799.3 C525.9 802.22 530.92 804.27 534.2 806.5 C537.48 808.73 539.87 810.45 542.5 812.7 C545.13 814.95 548.75 818.78 550 820" stroke-width="2"/></g>
<g fill="none" stroke="#d42458"><path d="M464 778 C466 777.33 471.67 776 476 774 C480.33 772 487.33 768.5 490 766 C492.67 763.5 491.67 760.17 492 759" stroke-width="1.4"/></g>
<polygon points="588.2,759 635,759 635,797.2 619.2,789 598.6,776.6 588.2,766.3" fill="#c8e6e1" stroke="#c8e6e1" stroke-width="2" stroke-linejoin="round" opacity="0.85"/>
<path d="M633.61 795.45l10.39 -4.62M590.25 773.08l6.29 -5.69M594.78 792.65l8.22 -4.92M634.9 783.65l8.52 -4.44M597.67 762.23l3.08 -3.04M621.37 784.71l6.49 -7.09M594.96 777.43l5.21 -2.96M625.89 760.67l8.96 -5.44M602.6 767.98l4.75 -4.48M603.03 759.92l6.49 -2.48M610.03 763.65l7.41 -3.5M615.3 776.72l6.26 -5.98M630.42 765.2l8.31 -2.79M594.78 768.66l6.82 -5.36" stroke="#6cbfb4" stroke-width="1.0" opacity="0.55" fill="none"/>
<g fill="#6cbfb4"><ellipse cx="601.39" cy="782.06" rx="0.75" ry="0.71" transform="rotate(83.32 601.39 782.06)"/><ellipse cx="614.61" cy="769.28" rx="1.36" ry="1.08" transform="rotate(22.65 614.61 769.28)"/><ellipse cx="604.4" cy="761.49" rx="1.29" ry="1.15" transform="rotate(143.6 604.4 761.49)"/><ellipse cx="619.84" cy="786.35" rx="1.1" ry="0.99" transform="rotate(104.88 619.84 786.35)"/><ellipse cx="605.58" cy="771.76" rx="1.26" ry="0.88" transform="rotate(82.16 605.58 771.76)"/><ellipse cx="606.47" cy="779.49" rx="1.56" ry="0.79" transform="rotate(16.68 606.47 779.49)"/><ellipse cx="598.85" cy="786.97" rx="0.95" ry="0.98" transform="rotate(89.71 598.85 786.97)"/><ellipse cx="628.83" cy="775.6" rx="1.59" ry="1.39" transform="rotate(168.44 628.83 775.6)"/><ellipse cx="618.91" cy="793.04" rx="1.44" ry="1.26" transform="rotate(132.04 618.91 793.04)"/><ellipse cx="620.31" cy="795.64" rx="0.84" ry="0.83" transform="rotate(151.97 620.31 795.64)"/></g>
<g fill="#fbf6fa"><ellipse cx="571.12" cy="809.91" rx="2.73" ry="2.43" transform="rotate(66.45 571.12 809.91)"/><ellipse cx="567.62" cy="794.86" rx="1.34" ry="1.09" transform="rotate(29.21 567.62 794.86)"/><ellipse cx="563.3" cy="813.03" rx="2.1" ry="1.51" transform="rotate(137.14 563.3 813.03)"/><ellipse cx="567.49" cy="799.53" rx="2.44" ry="2.41" transform="rotate(174.45 567.49 799.53)"/><ellipse cx="565.89" cy="783.82" rx="2.29" ry="1.5" transform="rotate(161.24 565.89 783.82)"/><ellipse cx="562.87" cy="809.46" rx="1.66" ry="0.94" transform="rotate(24.45 562.87 809.46)"/><ellipse cx="569.47" cy="805.27" rx="2.52" ry="1.27" transform="rotate(74.22 569.47 805.27)"/><ellipse cx="569.72" cy="797.78" rx="2.88" ry="3.07" transform="rotate(146.6 569.72 797.78)"/></g>
<g fill="#f6eef4"><ellipse cx="562.72" cy="801.54" rx="0.56" ry="0.47" transform="rotate(51.73 562.72 801.54)"/><ellipse cx="563.92" cy="787.27" rx="0.78" ry="0.46" transform="rotate(51.39 563.92 787.27)"/><ellipse cx="561.61" cy="796.4" rx="1.26" ry="1" transform="rotate(84.99 561.61 796.4)"/><ellipse cx="570.47" cy="810.22" rx="1.01" ry="0.63" transform="rotate(174.4 570.47 810.22)"/><ellipse cx="566.15" cy="812.05" rx="0.77" ry="0.7" transform="rotate(106.66 566.15 812.05)"/><ellipse cx="565.54" cy="810.51" rx="1.02" ry="0.85" transform="rotate(154.23 565.54 810.51)"/><ellipse cx="563.42" cy="790.66" rx="0.97" ry="1.02" transform="rotate(82.59 563.42 790.66)"/><ellipse cx="567.97" cy="814.54" rx="1.28" ry="1.25" transform="rotate(132.32 567.97 814.54)"/><ellipse cx="568.28" cy="798.31" rx="0.71" ry="0.63" transform="rotate(126.17 568.28 798.31)"/></g>
<g fill="#fbf6fa"><ellipse cx="600.9" cy="784.64" rx="2.42" ry="2" transform="rotate(14.93 600.9 784.64)"/><ellipse cx="607.08" cy="778.91" rx="2.19" ry="1.83" transform="rotate(118.93 607.08 778.91)"/><ellipse cx="600.67" cy="791.31" rx="2.3" ry="1.51" transform="rotate(162.43 600.67 791.31)"/><ellipse cx="596.98" cy="780.73" rx="2.69" ry="2.52" transform="rotate(27.75 596.98 780.73)"/><ellipse cx="598.58" cy="782.79" rx="2.25" ry="1.76" transform="rotate(169.89 598.58 782.79)"/></g>
<g fill="#f6eef4"><ellipse cx="596.08" cy="782.5" rx="1.2" ry="0.96" transform="rotate(20.39 596.08 782.5)"/><ellipse cx="596.78" cy="785.93" rx="0.93" ry="0.85" transform="rotate(170.09 596.78 785.93)"/><ellipse cx="607.85" cy="779.99" rx="1.24" ry="0.95" transform="rotate(175.62 607.85 779.99)"/><ellipse cx="598.6" cy="777.24" rx="1.44" ry="1.58" transform="rotate(62.09 598.6 777.24)"/><ellipse cx="605.23" cy="775.69" rx="0.77" ry="0.82" transform="rotate(116.63 605.23 775.69)"/><ellipse cx="597.17" cy="779" rx="0.69" ry="0.33" transform="rotate(167.62 597.17 779)"/></g>
<polygon points="549,804.4 555.2,813.7 569.6,819 585,825 592.4,840.6 611,844.7 613,848 549,848" fill="#ffffff" stroke="#ffffff" stroke-width="1.5" stroke-linejoin="round"/>
<polygon points="613,809.6 635,801.4 635,848 617,848 617,820" fill="#ffffff" stroke="#ffffff" stroke-width="1.5" stroke-linejoin="round"/>
<polygon points="561,759 569,759 571,778 563,782 557,792" fill="#ffffff" stroke="#ffffff" stroke-width="1.5" stroke-linejoin="round"/>
<g fill="none" stroke="#b874b0" opacity="0.8"><path d="M571 782 C571.17 784 570.5 789.83 572 794 C573.5 798.17 576.33 803.83 580 807 C583.67 810.17 588.83 811.83 594 813 C599.17 814.17 606.33 814.5 611 814 C615.67 813.5 620.17 810.67 622 810" stroke-width="1.6"/><path d="M577 780 C577.33 781.83 577.33 787.33 579 791 C580.67 794.67 583.67 799.33 587 802 C590.33 804.67 594.5 806.17 599 807 C603.5 807.83 611.5 807 614 807" stroke-width="1.4"/></g>
<g fill="none" stroke="#ffffff" stroke-linecap="round"><path d="M564.5 759 C564.83 761.07 565.65 768.13 566.5 771.4 C567.35 774.67 570.8 776.88 569.6 778.6 C568.4 780.32 561.87 779.13 559.3 781.7 C556.73 784.27 555.58 790.22 554.2 794 C552.82 797.78 551.53 802.67 551 804.4" stroke-width="4"/><path d="M569.6 778.6 C570.47 780.83 572.57 787.7 574.8 792 C577.03 796.3 579.57 801.3 583 804.4 C586.43 807.5 590.73 809.38 595.4 810.6 C600.07 811.82 606.68 812.22 611 811.7 C615.32 811.18 617.87 808.88 621.3 807.5 C624.73 806.12 629.88 804.08 631.6 803.4" stroke-width="3"/></g>
<g fill="none" stroke="#d42458"><path d="M549 762 L554 761" stroke-width="3.0"/></g>
<polygon points="634,759 689.7,759 677.4,768.3 652.6,769.4 642.3,781.7 634,796.2" fill="#c8e6e1" stroke="#c8e6e1" stroke-width="2" stroke-linejoin="round" opacity="0.85"/>
<path d="M640.36 794.76l8.56 -3.08M658.7 784.26l7.87 -3.61M669.53 771l4.42 -4.25M640.1 768.99l7.25 -7.04M643.74 778l3.8 -4.72M673.57 771.73l5.34 -5.6M673.43 788.72l4.93 -3.29M642.94 785.77l6.75 -4.45M652.64 774.76l5.2 -5.33M661.77 784.58l8.8 -2.96M645.53 791.83l7.11 -2.83M639.46 784.49l4.61 -3.95M672.44 776.34l5.12 -5.25M661.34 764.59l7.8 -7.14" stroke="#6cbfb4" stroke-width="1.0" opacity="0.55" fill="none"/>
<g fill="#6cbfb4"><ellipse cx="660.6" cy="790.14" rx="1.25" ry="1.15" transform="rotate(28.05 660.6 790.14)"/><ellipse cx="685.82" cy="777.5" rx="0.52" ry="0.56" transform="rotate(85.39 685.82 777.5)"/><ellipse cx="666.05" cy="772.96" rx="1.51" ry="1.42" transform="rotate(158.07 666.05 772.96)"/><ellipse cx="663.73" cy="778.51" rx="1.38" ry="0.74" transform="rotate(127.17 663.73 778.51)"/><ellipse cx="680.3" cy="789.11" rx="0.88" ry="0.5" transform="rotate(154.57 680.3 789.11)"/><ellipse cx="667.21" cy="790.55" rx="0.99" ry="1.03" transform="rotate(3.75 667.21 790.55)"/><ellipse cx="665.89" cy="785.4" rx="0.66" ry="0.59" transform="rotate(9.8 665.89 785.4)"/><ellipse cx="678.26" cy="782.53" rx="1.56" ry="1.59" transform="rotate(72.77 678.26 782.53)"/><ellipse cx="647.55" cy="772.03" rx="1.01" ry="0.72" transform="rotate(92.13 647.55 772.03)"/><ellipse cx="677.86" cy="763.57" rx="0.88" ry="0.47" transform="rotate(151.65 677.86 763.57)"/></g>
<polygon points="712.5,759 720,759 720,848 708.3,830.3 712.5,799.3" fill="#c8e6e1" stroke="#c8e6e1" stroke-width="2" stroke-linejoin="round" opacity="0.85"/>
<path d="M715.91 785.84l8.56 -4.83M708.81 838.53l6.63 -3.66M716.24 847.47l6.2 -5.44M708.81 781.81l5.05 -2.74M709.01 828.52l4.36 -4.46M714.93 821.44l4.35 -3.04M711.69 816.65l7.19 -3.57M712.18 768.72l7.88 -3.73M712.23 788.8l9.05 -3.94M715.76 780.68l9.32 -6.72M712.57 818.95l8.16 -6.39M710.79 830.59l2.94 -3.19M717.33 831.4l3.51 -4.12M717.7 834.74l5.73 -3.72" stroke="#6cbfb4" stroke-width="1.0" opacity="0.55" fill="none"/>
<g fill="#6cbfb4"><ellipse cx="719.2" cy="808.9" rx="1.24" ry="1.22" transform="rotate(84.93 719.2 808.9)"/><ellipse cx="713.94" cy="821.37" rx="0.61" ry="0.61" transform="rotate(156.71 713.94 821.37)"/><ellipse cx="715.43" cy="785.87" rx="1.21" ry="1.28" transform="rotate(110.89 715.43 785.87)"/><ellipse cx="711.68" cy="782.46" rx="1.37" ry="1.44" transform="rotate(21.45 711.68 782.46)"/><ellipse cx="710.66" cy="833.08" rx="0.88" ry="0.4" transform="rotate(59 710.66 833.08)"/><ellipse cx="710.71" cy="816.51" rx="0.9" ry="0.56" transform="rotate(108.79 710.71 816.51)"/><ellipse cx="716.82" cy="816.04" rx="1.21" ry="0.65" transform="rotate(167.95 716.82 816.04)"/><ellipse cx="714.59" cy="806.43" rx="1.54" ry="0.96" transform="rotate(45.47 714.59 806.43)"/><ellipse cx="716.69" cy="817.18" rx="0.89" ry="0.59" transform="rotate(89.08 716.69 817.18)"/><ellipse cx="712.61" cy="810.01" rx="0.91" ry="0.69" transform="rotate(82.42 712.61 810.01)"/></g>
<polygon points="634,815.8 649.5,824 652.6,848 634,848" fill="#c8e6e1" stroke="#c8e6e1" stroke-width="2" stroke-linejoin="round" opacity="0.85"/>
<path d="M641.43 843.67l5.09 -5.25M651.62 830.72l7.81 -6.42M638.88 828.15l5.51 -5.7M645.46 840.85l6.76 -7.28M652.33 831.49l6.46 -3.07M641.04 826.01l8.13 -8.33M635.34 842.97l7.61 -6.14M647.66 826.91l7.97 -4.12M652.4 843.47l5.51 -6.13M643.57 818.6l8.08 -2.86M646.6 831.84l6.46 -6.9M646.87 834.66l7.91 -5.01M652.5 843.42l7.05 -4.09M646.4 846.95l7.99 -8.41" stroke="#6cbfb4" stroke-width="1.0" opacity="0.55" fill="none"/>
<g fill="#6cbfb4"><ellipse cx="641.01" cy="829.97" rx="1.12" ry="0.91" transform="rotate(26.73 641.01 829.97)"/><ellipse cx="643.39" cy="847.39" rx="0.73" ry="0.42" transform="rotate(172.53 643.39 847.39)"/><ellipse cx="648.82" cy="819.74" rx="1.05" ry="0.66" transform="rotate(88.18 648.82 819.74)"/><ellipse cx="638.28" cy="840.91" rx="1.5" ry="1.32" transform="rotate(106.65 638.28 840.91)"/><ellipse cx="647.11" cy="830.13" rx="1.15" ry="0.93" transform="rotate(146.9 647.11 830.13)"/><ellipse cx="637.61" cy="844.51" rx="1.31" ry="1.29" transform="rotate(30.18 637.61 844.51)"/><ellipse cx="637.1" cy="835.41" rx="0.82" ry="0.78" transform="rotate(48.56 637.1 835.41)"/><ellipse cx="649.14" cy="841.36" rx="1.59" ry="1.59" transform="rotate(86.93 649.14 841.36)"/><ellipse cx="635.24" cy="832.44" rx="1.35" ry="1.43" transform="rotate(23.33 635.24 832.44)"/><ellipse cx="643.46" cy="816.82" rx="1.39" ry="0.91" transform="rotate(161.55 643.46 816.82)"/></g>
<polygon points="664,840 694,838 708,832 720,840 720,848 654,848" fill="#c8e6e1" stroke="#c8e6e1" stroke-width="2" stroke-linejoin="round" opacity="0.85"/>
<path d="M719.83 838.46l4.42 -3.59M709.17 835.4l5.15 -5.62M688.67 838.28l4.83 -1.74M697.18 840.89l4.07 -3.3M698.24 845.74l4.06 -1.86M676.51 844.67l6.37 -6.47M675.87 840.04l7.47 -3.74M704.52 846.77l9.63 -6.11M711.93 843.97l6.41 -6.67M691.07 841.06l5.67 -2M655.54 840.06l4.22 -1.6M681.84 839.43l3.93 -3.81M683.86 847.64l8.6 -7.39M712.59 843.19l4.26 -3.27" stroke="#6cbfb4" stroke-width="1.0" opacity="0.55" fill="none"/>
<g fill="#6cbfb4"><ellipse cx="718.26" cy="842.31" rx="1.37" ry="1.31" transform="rotate(70.09 718.26 842.31)"/><ellipse cx="690.1" cy="832.37" rx="1.38" ry="0.78" transform="rotate(111.88 690.1 832.37)"/><ellipse cx="693.29" cy="845.07" rx="1.03" ry="0.54" transform="rotate(114.49 693.29 845.07)"/><ellipse cx="673.75" cy="844.14" rx="0.67" ry="0.56" transform="rotate(74.91 673.75 844.14)"/><ellipse cx="693.69" cy="846.47" rx="0.78" ry="0.44" transform="rotate(128.6 693.69 846.47)"/><ellipse cx="708.79" cy="836.56" rx="0.72" ry="0.35" transform="rotate(158.1 708.79 836.56)"/><ellipse cx="699.06" cy="839.08" rx="0.73" ry="0.72" transform="rotate(143.47 699.06 839.08)"/><ellipse cx="689.22" cy="847.8" rx="1.15" ry="1.12" transform="rotate(114.44 689.22 847.8)"/><ellipse cx="666.69" cy="840.99" rx="1.48" ry="1.59" transform="rotate(24.96 666.69 840.99)"/><ellipse cx="701.14" cy="840.32" rx="1.2" ry="0.86" transform="rotate(156.08 701.14 840.32)"/></g>
<g fill="#fbf6fa"><ellipse cx="655.49" cy="804.54" rx="2.8" ry="2.07" transform="rotate(107.05 655.49 804.54)"/><ellipse cx="677.59" cy="793.23" rx="2.05" ry="1.28" transform="rotate(48.8 677.59 793.23)"/><ellipse cx="679.83" cy="792.34" rx="2.51" ry="1.76" transform="rotate(0.16 679.83 792.34)"/><ellipse cx="664.25" cy="801.73" rx="2.25" ry="1.32" transform="rotate(117.47 664.25 801.73)"/><ellipse cx="674.72" cy="788.12" rx="3.33" ry="2.58" transform="rotate(168.75 674.72 788.12)"/><ellipse cx="663.57" cy="781.24" rx="3.99" ry="2.35" transform="rotate(174.16 663.57 781.24)"/><ellipse cx="652.05" cy="789.32" rx="3.08" ry="2.7" transform="rotate(59.04 652.05 789.32)"/><ellipse cx="647.68" cy="787.49" rx="4.07" ry="2.81" transform="rotate(146.78 647.68 787.49)"/><ellipse cx="648.07" cy="783.03" rx="3.76" ry="2.15" transform="rotate(170.08 648.07 783.03)"/><ellipse cx="674.14" cy="797.77" rx="3.08" ry="1.59" transform="rotate(88.13 674.14 797.77)"/></g>
<g fill="#f6eef4"><ellipse cx="669.58" cy="785.18" rx="1.72" ry="1.02" transform="rotate(9.16 669.58 785.18)"/><ellipse cx="672.72" cy="810.94" rx="1.98" ry="1.46" transform="rotate(90.05 672.72 810.94)"/><ellipse cx="664.2" cy="791.82" rx="1.15" ry="0.58" transform="rotate(18.28 664.2 791.82)"/><ellipse cx="677.94" cy="799.17" rx="1.67" ry="1.58" transform="rotate(77.36 677.94 799.17)"/><ellipse cx="651.1" cy="807.81" rx="1.4" ry="1.33" transform="rotate(31.82 651.1 807.81)"/><ellipse cx="643.95" cy="790.35" rx="1.27" ry="1.23" transform="rotate(29.68 643.95 790.35)"/><ellipse cx="644.2" cy="795.17" rx="0.63" ry="0.58" transform="rotate(141.91 644.2 795.17)"/><ellipse cx="661.59" cy="780.97" rx="0.95" ry="0.84" transform="rotate(80.58 661.59 780.97)"/><ellipse cx="662.41" cy="779.67" rx="0.58" ry="0.51" transform="rotate(88.27 662.41 779.67)"/><ellipse cx="641.86" cy="798.17" rx="0.96" ry="0.72" transform="rotate(120.98 641.86 798.17)"/><ellipse cx="665.08" cy="795.22" rx="1.22" ry="1.15" transform="rotate(92.8 665.08 795.22)"/><ellipse cx="647.52" cy="788.74" rx="2.03" ry="2.21" transform="rotate(109.35 647.52 788.74)"/></g>
<g fill="#fbf6fa"><ellipse cx="698.35" cy="813.26" rx="2.49" ry="1.65" transform="rotate(163.22 698.35 813.26)"/><ellipse cx="698.73" cy="824.93" rx="1.72" ry="1.07" transform="rotate(83.62 698.73 824.93)"/><ellipse cx="692.5" cy="835.86" rx="3.74" ry="3.08" transform="rotate(92.25 692.5 835.86)"/><ellipse cx="694.69" cy="803.06" rx="2.39" ry="1.41" transform="rotate(116.32 694.69 803.06)"/><ellipse cx="686.31" cy="817" rx="3.9" ry="4.11" transform="rotate(164.18 686.31 817)"/><ellipse cx="685.41" cy="809.48" rx="2.2" ry="1.88" transform="rotate(89.32 685.41 809.48)"/><ellipse cx="688.63" cy="818.01" rx="2.92" ry="1.5" transform="rotate(89.75 688.63 818.01)"/><ellipse cx="691.25" cy="834.1" rx="2.34" ry="1.99" transform="rotate(111.52 691.25 834.1)"/><ellipse cx="684.96" cy="826.46" rx="3.88" ry="2.04" transform="rotate(122.02 684.96 826.46)"/><ellipse cx="678.76" cy="824.9" rx="3.02" ry="2.89" transform="rotate(110.4 678.76 824.9)"/></g>
<g fill="#f6eef4"><ellipse cx="679.21" cy="802.95" rx="0.63" ry="0.44" transform="rotate(53.25 679.21 802.95)"/><ellipse cx="700.43" cy="815.64" rx="1.55" ry="1.69" transform="rotate(141.06 700.43 815.64)"/><ellipse cx="692.42" cy="816.15" rx="1.03" ry="0.84" transform="rotate(8.23 692.42 816.15)"/><ellipse cx="688.87" cy="816.28" rx="0.79" ry="0.58" transform="rotate(129.21 688.87 816.28)"/><ellipse cx="684.61" cy="808.13" rx="1.54" ry="1.59" transform="rotate(157.12 684.61 808.13)"/><ellipse cx="684.33" cy="806.22" rx="1.83" ry="1.01" transform="rotate(11.76 684.33 806.22)"/><ellipse cx="694.62" cy="831.84" rx="1.06" ry="1.03" transform="rotate(116.33 694.62 831.84)"/><ellipse cx="683.56" cy="799.85" rx="1.2" ry="0.95" transform="rotate(160.87 683.56 799.85)"/><ellipse cx="682.28" cy="814.1" rx="1.33" ry="0.88" transform="rotate(121.79 682.28 814.1)"/><ellipse cx="693.64" cy="803.25" rx="0.75" ry="0.56" transform="rotate(132.98 693.64 803.25)"/><ellipse cx="678.11" cy="813.7" rx="1.53" ry="1.31" transform="rotate(125 678.11 813.7)"/><ellipse cx="675.44" cy="811.91" rx="0.67" ry="0.68" transform="rotate(95.57 675.44 811.91)"/></g>
<g fill="none" stroke="#b874b0" opacity="0.8"><path d="M716 776 C711.83 777.17 699.33 778.83 691 783 C682.67 787.17 672.67 795.5 666 801 C659.33 806.5 653.5 813.5 651 816" stroke-width="2.6"/><path d="M658 824 C659 823 661.33 820.67 664 818 C666.67 815.33 672.33 809.67 674 808" stroke-width="1.4"/></g>
<g fill="none" stroke="#ffffff" stroke-linecap="round"><path d="M716.6 780.7 C713.5 781.05 703.5 780.92 698 782.8 C692.5 784.68 688.27 788.73 683.6 792 C678.93 795.27 674.32 798.95 670 802.4 C665.68 805.85 660.6 809.43 657.7 812.7 C654.8 815.97 653.28 818.73 652.6 822 C651.92 825.27 651.88 829.03 653.6 832.3 C655.32 835.57 659.28 839.7 662.9 841.6 C666.52 843.5 673.23 843.35 675.3 843.7" stroke-width="3.6"/></g>
<g fill="none" stroke="#d42458"><path d="M634 796.2 C635.38 793.78 639.38 786.17 642.3 781.7 C645.22 777.23 646 771.45 651.5 769.4 C657 767.35 668.93 770.97 675.3 769.4 C681.67 767.83 687.3 761.57 689.7 760" stroke-width="2.4"/></g>
</g>
<polygon points="233.8,692.8 221.78,687.99 227.08,693.98 224.15,701.43" fill="#0d0d0d"/>
<polygon points="230.2,734 230.61,721.06 226.79,728.09 218.79,727.88" fill="#0d0d0d"/>
<polygon points="328,707.2 317,700.38 321.18,707.2 317,714.02" fill="#0d0d0d"/>
<polygon points="313.6,720.6 300.93,717.95 307.19,722.93 305.6,730.77" fill="#0d0d0d"/>
<polygon points="401.7,739.2 406.51,727.18 400.52,732.48 393.07,729.55" fill="#0d0d0d"/>
<polygon points="513.6,701 503.24,693.25 506.81,700.41 502.05,706.84" fill="#0d0d0d"/>
<polygon points="495,719.1 482.08,719.82 489.41,723.01 489.9,731" fill="#0d0d0d"/>
<polygon points="577.9,679.4 565.88,674.59 571.18,680.58 568.25,688.03" fill="#0d0d0d"/>
<polygon points="251.5,773.5 251.91,760.56 248.09,767.59 240.09,767.38" fill="#0d0d0d"/>
<polygon points="281.3,781.2 270.94,773.45 274.51,780.61 269.75,787.04" fill="#0d0d0d"/>
<polygon points="233.8,830.3 236.45,817.63 231.47,823.89 223.63,822.3" fill="#0d0d0d"/>
<polygon points="346.7,768.3 336.34,760.55 339.91,767.71 335.15,774.14" fill="#0d0d0d"/>
<polygon points="312.6,821 299.66,820.59 306.69,824.41 306.48,832.41" fill="#0d0d0d"/>
<polygon points="410,829.2 414.81,817.18 408.82,822.48 401.37,819.55" fill="#0d0d0d"/>
<polygon points="513.6,777.6 503.24,769.85 506.81,777.01 502.05,783.44" fill="#0d0d0d"/>
<polygon points="482.6,818 487.41,805.98 481.42,811.28 473.97,808.35" fill="#0d0d0d"/>
<polygon points="570.7,767.3 573.35,754.63 568.37,760.89 560.53,759.3" fill="#0d0d0d"/>
<text x="768.5" y="520.6" textLength="43.5" lengthAdjust="spacingAndGlyphs" font-size="32" >(H)</text>
<path d="M862.5 551.9 V648.7 H1006.6" fill="none" stroke="#111" stroke-width="2" />
<path d="M857.5 640.1H862.5M859.5 631.28H862.5M857.5 622.46H862.5M859.5 613.64H862.5M857.5 604.82H862.5M859.5 596H862.5M857.5 587.18H862.5M859.5 578.36H862.5M857.5 569.54H862.5M859.5 560.72H862.5M857.5 551.9H862.5M862.5 648.7V653.5M880.5 648.7V653.5M898.5 648.7V653.5M916.5 648.7V653.5M934.5 648.7V653.5M952.5 648.7V653.5M970.5 648.7V653.5M988.5 648.7V653.5M1006.5 648.7V653.5" fill="none" stroke="#231f20" stroke-width="1.3" />
<text x="857.4" y="644" text-anchor="end" textLength="5.5" lengthAdjust="spacingAndGlyphs" font-size="11.8" >0</text>
<text x="857.4" y="626.36" text-anchor="end" textLength="5.5" lengthAdjust="spacingAndGlyphs" font-size="11.8" >2</text>
<text x="857.4" y="608.72" text-anchor="end" textLength="5.5" lengthAdjust="spacingAndGlyphs" font-size="11.8" >4</text>
<text x="857.4" y="591.08" text-anchor="end" textLength="5.5" lengthAdjust="spacingAndGlyphs" font-size="11.8" >6</text>
<text x="857.4" y="573.44" text-anchor="end" textLength="5.5" lengthAdjust="spacingAndGlyphs" font-size="11.8" >8</text>
<text x="857.4" y="555.8" text-anchor="end" textLength="11" lengthAdjust="spacingAndGlyphs" font-size="11.8" >10</text>
<text x="863.5" y="666.7" text-anchor="middle" textLength="5.9" lengthAdjust="spacingAndGlyphs" font-size="11.8" >0</text>
<text x="881.5" y="666.7" text-anchor="middle" textLength="5.9" lengthAdjust="spacingAndGlyphs" font-size="11.8" >5</text>
<text x="899.5" y="666.7" text-anchor="middle" textLength="11.8" lengthAdjust="spacingAndGlyphs" font-size="11.8" >10</text>
<text x="917.5" y="666.7" text-anchor="middle" textLength="11.8" lengthAdjust="spacingAndGlyphs" font-size="11.8" >15</text>
<text x="935.5" y="666.7" text-anchor="middle" textLength="11.8" lengthAdjust="spacingAndGlyphs" font-size="11.8" >20</text>
<text x="953.5" y="666.7" text-anchor="middle" textLength="11.8" lengthAdjust="spacingAndGlyphs" font-size="11.8" >25</text>
<text x="971.5" y="666.7" text-anchor="middle" textLength="11.8" lengthAdjust="spacingAndGlyphs" font-size="11.8" >30</text>
<text x="989.5" y="666.7" text-anchor="middle" textLength="11.8" lengthAdjust="spacingAndGlyphs" font-size="11.8" >35</text>
<text x="1007.5" y="666.7" text-anchor="middle" textLength="11.8" lengthAdjust="spacingAndGlyphs" font-size="11.8" >40</text>
<text x="935.5" y="679.5" text-anchor="middle" textLength="17.4" lengthAdjust="spacingAndGlyphs" font-size="11.2" >Day</text>
<text transform="translate(842.4 601.5) rotate(-90)" x="0" y="0" text-anchor="middle" textLength="107" lengthAdjust="spacingAndGlyphs" font-size="12.5" >Arthritic Index Score</text>
<polyline points="862.5,640.1 887.7,640.1 902.1,640.1 916.5,640.1 930.9,640.1 945.3,640.1 959.7,640.1 974.1,640.1 988.5,640.1" fill="none" stroke="#1c5a6c" stroke-width="1.2" stroke-linejoin="round"/>
<circle cx="862.5" cy="640.1" r="1.84" fill="#1c5a6c" />
<circle cx="887.7" cy="640.1" r="1.84" fill="#1c5a6c" />
<circle cx="902.1" cy="640.1" r="1.84" fill="#1c5a6c" />
<circle cx="916.5" cy="640.1" r="1.84" fill="#1c5a6c" />
<circle cx="930.9" cy="640.1" r="1.84" fill="#1c5a6c" />
<circle cx="945.3" cy="640.1" r="1.84" fill="#1c5a6c" />
<circle cx="959.7" cy="640.1" r="1.84" fill="#1c5a6c" />
<circle cx="974.1" cy="640.1" r="1.84" fill="#1c5a6c" />
<circle cx="988.5" cy="640.1" r="1.84" fill="#1c5a6c" />
<polyline points="862.5,640.1 887.7,587.18 902.1,569.54 916.5,569.54 930.9,569.54 945.3,569.54 959.7,569.54 974.1,569.54 988.5,569.54" fill="none" stroke="#f6b8ba" stroke-width="1.2" stroke-linejoin="round"/>
<path d="M887.7 573.95V600.41M885.5 573.95H889.9M885.5 600.41H889.9M902.1 566.89V572.19M899.9 566.89H904.3M899.9 572.19H904.3M916.5 567.78V571.3M914.3 567.78H918.7M914.3 571.3H918.7M930.9 567.78V571.3M928.7 567.78H933.1M928.7 571.3H933.1M945.3 568.66V570.42M943.1 568.66H947.5M943.1 570.42H947.5M959.7 568.66V570.42M957.5 568.66H961.9M957.5 570.42H961.9M974.1 568.66V570.42M971.9 568.66H976.3M971.9 570.42H976.3M988.5 568.66V570.42M986.3 568.66H990.7M986.3 570.42H990.7" fill="none" stroke="#f6b8ba" stroke-width="0.9" />
<rect x="861.46" y="639.06" width="2.08" height="2.08" fill="none" stroke="#f6b8ba" stroke-width="0.8"/>
<rect x="886.66" y="586.14" width="2.08" height="2.08" fill="none" stroke="#f6b8ba" stroke-width="0.8"/>
<rect x="901.06" y="568.5" width="2.08" height="2.08" fill="none" stroke="#f6b8ba" stroke-width="0.8"/>
<rect x="915.46" y="568.5" width="2.08" height="2.08" fill="none" stroke="#f6b8ba" stroke-width="0.8"/>
<rect x="929.86" y="568.5" width="2.08" height="2.08" fill="none" stroke="#f6b8ba" stroke-width="0.8"/>
<rect x="944.26" y="568.5" width="2.08" height="2.08" fill="none" stroke="#f6b8ba" stroke-width="0.8"/>
<rect x="958.66" y="568.5" width="2.08" height="2.08" fill="none" stroke="#f6b8ba" stroke-width="0.8"/>
<rect x="973.06" y="568.5" width="2.08" height="2.08" fill="none" stroke="#f6b8ba" stroke-width="0.8"/>
<rect x="987.46" y="568.5" width="2.08" height="2.08" fill="none" stroke="#f6b8ba" stroke-width="0.8"/>
<polyline points="862.5,640.1 887.7,573.95 902.1,569.54 916.5,569.54 930.9,587.18 945.3,596 959.7,604.82 974.1,615.4 988.5,618.05" fill="none" stroke="#cdd394" stroke-width="1.2" stroke-linejoin="round"/>
<path d="M887.7 568.66V579.24M885.5 568.66H889.9M885.5 579.24H889.9M902.1 566.89V572.19M899.9 566.89H904.3M899.9 572.19H904.3M916.5 567.78V571.3M914.3 567.78H918.7M914.3 571.3H918.7M930.9 580.12V594.24M928.7 580.12H933.1M928.7 594.24H933.1M945.3 588.06V603.94M943.1 588.06H947.5M943.1 603.94H947.5M959.7 598.65V610.99M957.5 598.65H961.9M957.5 610.99H961.9M974.1 610.99V619.81M971.9 610.99H976.3M971.9 619.81H976.3M988.5 612.76V623.34M986.3 612.76H990.7M986.3 623.34H990.7" fill="none" stroke="#cdd394" stroke-width="0.9" />
<polygon points="862.5,637.9 864.7,641.7 860.3,641.7" fill="#cdd394"/>
<polygon points="887.7,571.75 889.9,575.55 885.5,575.55" fill="#cdd394"/>
<polygon points="902.1,567.34 904.3,571.14 899.9,571.14" fill="#cdd394"/>
<polygon points="916.5,567.34 918.7,571.14 914.3,571.14" fill="#cdd394"/>
<polygon points="930.9,584.98 933.1,588.78 928.7,588.78" fill="#cdd394"/>
<polygon points="945.3,593.8 947.5,597.6 943.1,597.6" fill="#cdd394"/>
<polygon points="959.7,602.62 961.9,606.42 957.5,606.42" fill="#cdd394"/>
<polygon points="974.1,613.2 976.3,617 971.9,617" fill="#cdd394"/>
<polygon points="988.5,615.85 990.7,619.65 986.3,619.65" fill="#cdd394"/>
<polyline points="862.5,640.1 887.7,569.54 902.1,569.54 916.5,569.54 930.9,588.94 945.3,600.41 959.7,608.35 974.1,618.93 988.5,620.7" fill="none" stroke="#2ea46c" stroke-width="1.2" stroke-linejoin="round"/>
<path d="M887.7 566.01V573.07M885.5 566.01H889.9M885.5 573.07H889.9M902.1 566.01V573.07M899.9 566.01H904.3M899.9 573.07H904.3M916.5 566.01V573.07M914.3 566.01H918.7M914.3 573.07H918.7M930.9 585.42V592.47M928.7 585.42H933.1M928.7 592.47H933.1M945.3 596.88V603.94M943.1 596.88H947.5M943.1 603.94H947.5M959.7 604.82V611.88M957.5 604.82H961.9M957.5 611.88H961.9M974.1 615.4V622.46M971.9 615.4H976.3M971.9 622.46H976.3M988.5 617.17V624.22M986.3 617.17H990.7M986.3 624.22H990.7" fill="none" stroke="#2ea46c" stroke-width="0.9" />
<polygon points="862.5,642.3 864.7,638.5 860.3,638.5" fill="#2ea46c"/>
<polygon points="887.7,571.74 889.9,567.94 885.5,567.94" fill="#2ea46c"/>
<polygon points="902.1,571.74 904.3,567.94 899.9,567.94" fill="#2ea46c"/>
<polygon points="916.5,571.74 918.7,567.94 914.3,567.94" fill="#2ea46c"/>
<polygon points="930.9,591.14 933.1,587.34 928.7,587.34" fill="#2ea46c"/>
<polygon points="945.3,602.61 947.5,598.81 943.1,598.81" fill="#2ea46c"/>
<polygon points="959.7,610.55 961.9,606.75 957.5,606.75" fill="#2ea46c"/>
<polygon points="974.1,621.13 976.3,617.33 971.9,617.33" fill="#2ea46c"/>
<polygon points="988.5,622.9 990.7,619.1 986.3,619.1" fill="#2ea46c"/>
<polyline points="862.5,640.1 887.7,580.12 902.1,570.42 916.5,574.83 930.9,584.53 945.3,586.3 959.7,597.76 974.1,607.47 988.5,607.47" fill="none" stroke="#1a6e4c" stroke-width="1.2" stroke-linejoin="round"/>
<path d="M887.7 573.07V587.18M885.5 573.07H889.9M885.5 587.18H889.9M902.1 566.89V573.95M899.9 566.89H904.3M899.9 573.95H904.3M916.5 569.54V580.12M914.3 569.54H918.7M914.3 580.12H918.7M930.9 577.48V591.59M928.7 577.48H933.1M928.7 591.59H933.1M945.3 578.36V594.24M943.1 578.36H947.5M943.1 594.24H947.5M959.7 592.47V603.06M957.5 592.47H961.9M957.5 603.06H961.9M974.1 602.17V612.76M971.9 602.17H976.3M971.9 612.76H976.3M988.5 603.06V611.88M986.3 603.06H990.7M986.3 611.88H990.7" fill="none" stroke="#1a6e4c" stroke-width="0.9" />
<polygon points="862.5,637.99 864.26,640.1 862.5,642.21 860.74,640.1" fill="#1a6e4c"/>
<polygon points="887.7,578.01 889.46,580.12 887.7,582.24 885.94,580.12" fill="#1a6e4c"/>
<polygon points="902.1,568.31 903.86,570.42 902.1,572.53 900.34,570.42" fill="#1a6e4c"/>
<polygon points="916.5,572.72 918.26,574.83 916.5,576.94 914.74,574.83" fill="#1a6e4c"/>
<polygon points="930.9,582.42 932.66,584.53 930.9,586.65 929.14,584.53" fill="#1a6e4c"/>
<polygon points="945.3,584.19 947.06,586.3 945.3,588.41 943.54,586.3" fill="#1a6e4c"/>
<polygon points="959.7,595.65 961.46,597.76 959.7,599.88 957.94,597.76" fill="#1a6e4c"/>
<polygon points="974.1,605.35 975.86,607.47 974.1,609.58 972.34,607.47" fill="#1a6e4c"/>
<polygon points="988.5,605.35 990.26,607.47 988.5,609.58 986.74,607.47" fill="#1a6e4c"/>
<polyline points="862.5,640.1 887.7,576.6 902.1,569.54 916.5,569.54 930.9,582.77 945.3,596 959.7,603.06 974.1,608.35 988.5,609.23" fill="none" stroke="#1b2a78" stroke-width="1.2" stroke-linejoin="round"/>
<path d="M887.7 573.07V580.12M885.5 573.07H889.9M885.5 580.12H889.9M902.1 566.01V573.07M899.9 566.01H904.3M899.9 573.07H904.3M916.5 566.01V573.07M914.3 566.01H918.7M914.3 573.07H918.7M930.9 579.24V586.3M928.7 579.24H933.1M928.7 586.3H933.1M945.3 592.47V599.53M943.1 592.47H947.5M943.1 599.53H947.5M959.7 599.53V606.58M957.5 599.53H961.9M957.5 606.58H961.9M974.1 604.82V611.88M971.9 604.82H976.3M971.9 611.88H976.3M988.5 605.7V612.76M986.3 605.7H990.7M986.3 612.76H990.7" fill="none" stroke="#1b2a78" stroke-width="0.9" />
<rect x="859.94" y="637.54" width="5.12" height="5.12" fill="#1b2a78" />
<rect x="885.14" y="574.04" width="5.12" height="5.12" fill="#1b2a78" />
<rect x="899.54" y="566.98" width="5.12" height="5.12" fill="#1b2a78" />
<rect x="913.94" y="566.98" width="5.12" height="5.12" fill="#1b2a78" />
<rect x="928.34" y="580.21" width="5.12" height="5.12" fill="#1b2a78" />
<rect x="942.74" y="593.44" width="5.12" height="5.12" fill="#1b2a78" />
<rect x="957.14" y="600.5" width="5.12" height="5.12" fill="#1b2a78" />
<rect x="971.54" y="605.79" width="5.12" height="5.12" fill="#1b2a78" />
<rect x="985.94" y="606.67" width="5.12" height="5.12" fill="#1b2a78" />
<polyline points="862.5,640.1 887.7,578.36 902.1,573.07 916.5,569.54 930.9,587.18 945.3,594.24 959.7,599.53 974.1,602.17 988.5,603.06" fill="none" stroke="#1f8a9e" stroke-width="1.2" stroke-linejoin="round"/>
<path d="M887.7 569.54V587.18M885.5 569.54H889.9M885.5 587.18H889.9M902.1 568.66V577.48M899.9 568.66H904.3M899.9 577.48H904.3M916.5 566.89V572.19M914.3 566.89H918.7M914.3 572.19H918.7M930.9 581.89V592.47M928.7 581.89H933.1M928.7 592.47H933.1M945.3 588.94V599.53M943.1 588.94H947.5M943.1 599.53H947.5M959.7 593.35V605.7M957.5 593.35H961.9M957.5 605.7H961.9M974.1 594.24V610.11M971.9 594.24H976.3M971.9 610.11H976.3M988.5 596V610.11M986.3 596H990.7M986.3 610.11H990.7" fill="none" stroke="#1f8a9e" stroke-width="0.9" />
<circle cx="862.5" cy="640.1" r="2.8" fill="#1f8a9e" />
<circle cx="887.7" cy="578.36" r="2.8" fill="#1f8a9e" />
<circle cx="902.1" cy="573.07" r="2.8" fill="#1f8a9e" />
<circle cx="916.5" cy="569.54" r="2.8" fill="#1f8a9e" />
<circle cx="930.9" cy="587.18" r="2.8" fill="#1f8a9e" />
<circle cx="945.3" cy="594.24" r="2.8" fill="#1f8a9e" />
<circle cx="959.7" cy="599.53" r="2.8" fill="#1f8a9e" />
<circle cx="974.1" cy="602.17" r="2.8" fill="#1f8a9e" />
<circle cx="988.5" cy="603.06" r="2.8" fill="#1f8a9e" />
<text x="887.7" y="565.2" text-anchor="middle" fill="#333" font-size="7" >##</text>
<text x="902.1" y="565.2" text-anchor="middle" fill="#333" font-size="7" >##</text>
<text x="916.5" y="565.2" text-anchor="middle" fill="#333" font-size="7" >##</text>
<text x="930.9" y="565.2" text-anchor="middle" fill="#333" font-size="7" >##</text>
<text x="945.3" y="565.2" text-anchor="middle" fill="#333" font-size="7" >##</text>
<text x="959.7" y="565.2" text-anchor="middle" fill="#333" font-size="7" >##</text>
<text x="974.1" y="565.2" text-anchor="middle" fill="#333" font-size="7" >##</text>
<text x="988.5" y="565.2" text-anchor="middle" fill="#333" font-size="7" >##</text>
<circle cx="929" cy="601.5" r="1" fill="#2a2a2a" /><circle cx="932.8" cy="601.5" r="1" fill="#2a2a2a" />
<circle cx="943.4" cy="607.5" r="1" fill="#2a2a2a" /><circle cx="947.2" cy="607.5" r="1" fill="#2a2a2a" />
<circle cx="957.8" cy="617" r="1" fill="#2a2a2a" /><circle cx="961.6" cy="617" r="1" fill="#2a2a2a" />
<circle cx="972.2" cy="624.5" r="1" fill="#2a2a2a" /><circle cx="976" cy="624.5" r="1" fill="#2a2a2a" />
<circle cx="986.6" cy="629.5" r="1" fill="#2a2a2a" /><circle cx="990.4" cy="629.5" r="1" fill="#2a2a2a" />
<line x1="1011.7" y1="540.5" x2="1020.9" y2="540.5" stroke="#1c5a6c" stroke-width="1.1" />
<circle cx="1016.3" cy="540.5" r="2.07" fill="#1c5a6c" />
<text x="1025" y="543.8" textLength="14" lengthAdjust="spacingAndGlyphs" font-size="9.3" >Ctrl</text>
<line x1="1011.7" y1="552.25" x2="1020.9" y2="552.25" stroke="#f6b8ba" stroke-width="1.1" />
<rect x="1015.13" y="551.08" width="2.34" height="2.34" fill="none" stroke="#f6b8ba" stroke-width="0.8"/>
<text x="1025" y="555.55" textLength="14.5" lengthAdjust="spacingAndGlyphs" font-size="9.3" >AIA</text>
<line x1="1011.7" y1="564" x2="1020.9" y2="564" stroke="#cdd394" stroke-width="1.1" />
<polygon points="1016.3,561.52 1018.77,565.8 1013.82,565.8" fill="#cdd394"/>
<text x="1025" y="567.3" textLength="26.9" lengthAdjust="spacingAndGlyphs" font-size="9.3" >GEB-L</text>
<line x1="1011.7" y1="575.75" x2="1020.9" y2="575.75" stroke="#1f8a9e" stroke-width="1.1" />
<circle cx="1016.3" cy="575.75" r="3.15" fill="#1f8a9e" />
<text x="1025" y="579.05" textLength="28.9" lengthAdjust="spacingAndGlyphs" font-size="9.3" >GEB-H</text>
<line x1="1011.7" y1="587.5" x2="1020.9" y2="587.5" stroke="#1b2a78" stroke-width="1.1" />
<rect x="1013.42" y="584.62" width="5.76" height="5.76" fill="#1b2a78" />
<text x="1025" y="590.8" textLength="36.7" lengthAdjust="spacingAndGlyphs" font-size="9.3" >G-GEB-L</text>
<line x1="1011.7" y1="599.25" x2="1020.9" y2="599.25" stroke="#2ea46c" stroke-width="1.1" />
<polygon points="1016.3,601.73 1018.77,597.45 1013.82,597.45" fill="#2ea46c"/>
<text x="1025" y="602.55" textLength="38.7" lengthAdjust="spacingAndGlyphs" font-size="9.3" >G-GEB-H</text>
<line x1="1011.7" y1="611" x2="1020.9" y2="611" stroke="#1a6e4c" stroke-width="1.1" />
<polygon points="1016.3,608.62 1018.28,611 1016.3,613.38 1014.32,611" fill="#1a6e4c"/>
<text x="1025" y="614.3" textLength="19.6" lengthAdjust="spacingAndGlyphs" font-size="9.3" >MTX</text>
<text x="776.3" y="701.8" textLength="27.5" lengthAdjust="spacingAndGlyphs" font-size="32" >(I)</text>
<path d="M862.8 735.5 V839.3 H1019.6" fill="none" stroke="#111" stroke-width="2.3" />
<path d="M858.3 838.6H862.8M858.3 812.82H862.8M858.3 787.04H862.8M858.3 761.26H862.8M858.3 735.48H862.8M877.2 839.3V844.3M899.2 839.3V844.3M921.7 839.3V844.3M943.5 839.3V844.3M965.6 839.3V844.3M987.7 839.3V844.3M1010 839.3V844.3" fill="none" stroke="#111" stroke-width="1.8" />
<text x="857.4" y="842.6" text-anchor="end" textLength="6.3" lengthAdjust="spacingAndGlyphs" font-size="11" >0</text>
<text x="857.4" y="816.82" text-anchor="end" textLength="6.3" lengthAdjust="spacingAndGlyphs" font-size="11" >2</text>
<text x="857.4" y="791.04" text-anchor="end" textLength="6.3" lengthAdjust="spacingAndGlyphs" font-size="11" >4</text>
<text x="857.4" y="765.26" text-anchor="end" textLength="6.3" lengthAdjust="spacingAndGlyphs" font-size="11" >6</text>
<text x="857.4" y="739.48" text-anchor="end" textLength="6.3" lengthAdjust="spacingAndGlyphs" font-size="11" >8</text>
<rect x="891.7" y="763.84" width="15" height="75.46" fill="#e01a1c" />
<path d="M899.2 763.84V758.68M894.7 758.68H903.7" fill="none" stroke="#e01a1c" stroke-width="1.6" />
<text x="899.2" y="755.48" text-anchor="middle" textLength="9.2" lengthAdjust="spacingAndGlyphs" fill="#2a2a2a" font-size="9.5" >##</text>
<rect x="914.2" y="774.15" width="15" height="65.15" fill="#c8161e" />
<path d="M921.7 774.15V766.42M917.2 766.42H926.2" fill="none" stroke="#c8161e" stroke-width="1.6" />
<text x="921.7" y="761.92" text-anchor="middle" textLength="8.5" lengthAdjust="spacingAndGlyphs" fill="#2a2a2a" font-size="10.5" >ns</text>
<rect x="936" y="782.53" width="15" height="56.77" fill="#e64b50" />
<path d="M943.5 782.53V772.22M939 772.22H948" fill="none" stroke="#e64b50" stroke-width="1.6" />
<text x="943.5" y="769.02" text-anchor="middle" textLength="6.3" lengthAdjust="spacingAndGlyphs" fill="#2a2a2a" font-size="9" >**</text>
<rect x="958.1" y="787.04" width="15" height="52.26" fill="#e85658" />
<path d="M965.6 787.04V775.44M961.1 775.44H970.1" fill="none" stroke="#e85658" stroke-width="1.6" />
<text x="965.6" y="772.24" text-anchor="middle" textLength="6.3" lengthAdjust="spacingAndGlyphs" fill="#2a2a2a" font-size="9" >**</text>
<rect x="980.2" y="815.4" width="15" height="23.9" fill="#ea6668" />
<path d="M987.7 815.4V805.09M983.2 805.09H992.2" fill="none" stroke="#ea6668" stroke-width="1.6" />
<text x="987.7" y="801.89" text-anchor="middle" textLength="6.3" lengthAdjust="spacingAndGlyphs" fill="#2a2a2a" font-size="9" >**</text>
<rect x="1002.5" y="821.2" width="15" height="18.1" fill="#f09d9f" />
<path d="M1010 821.2V814.75M1005.5 814.75H1014.5" fill="none" stroke="#f09d9f" stroke-width="1.6" />
<text x="1010" y="811.55" text-anchor="middle" textLength="6.3" lengthAdjust="spacingAndGlyphs" fill="#2a2a2a" font-size="9" >**</text>
<text transform="translate(842.9 785.9) rotate(-90)" x="0" y="0" text-anchor="middle" textLength="95.5" lengthAdjust="spacingAndGlyphs" font-size="13" >Histological score</text>
<text transform="translate(874.75 860.25) rotate(-45)" x="0" y="0" text-anchor="middle" font-size="8" >Ctrl</text>
<text transform="translate(898.95 860.25) rotate(-45)" x="0" y="0" text-anchor="middle" font-size="8" >AIA</text>
<text transform="translate(919.45 859.15) rotate(-45)" x="0" y="0" text-anchor="middle" font-size="8" >GEB-L</text>
<text transform="translate(941.35 858.25) rotate(-45)" x="0" y="0" text-anchor="middle" font-size="8" >GEB-H</text>
<text transform="translate(964.15 859.15) rotate(-45)" x="0" y="0" text-anchor="middle" font-size="8" >G-GEB-L</text>
<text transform="translate(986.05 858.75) rotate(-45)" x="0" y="0" text-anchor="middle" font-size="8" >G-GEB-H</text>
<text transform="translate(1007.95 859.55) rotate(-45)" x="0" y="0" text-anchor="middle" font-size="8" >MTX</text>
</svg></body></html>
